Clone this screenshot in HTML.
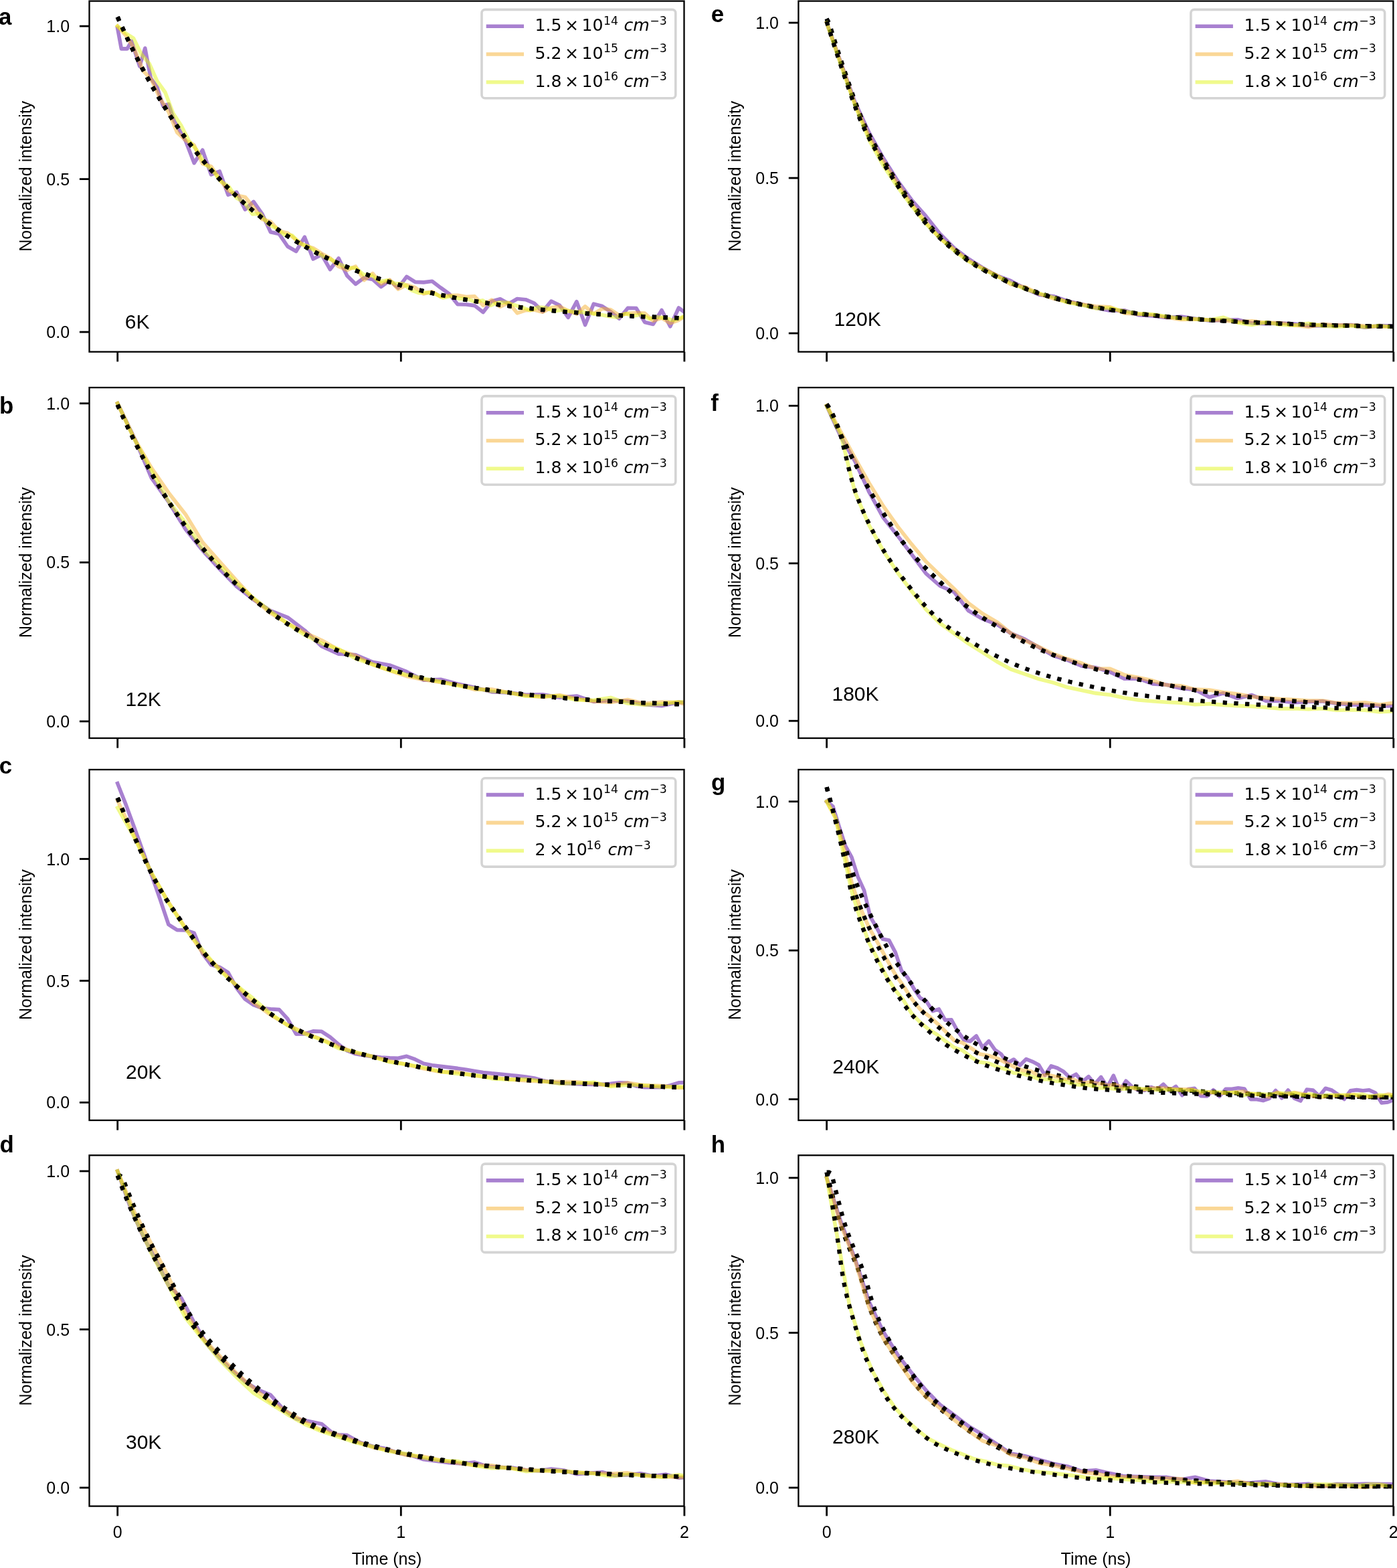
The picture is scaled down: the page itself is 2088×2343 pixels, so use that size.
<!DOCTYPE html><html><head><meta charset="utf-8"><title>Normalized intensity decay</title><style>html,body{margin:0;padding:0;background:#fff}svg{display:block}</style></head><body>
<svg width="2088" height="2343" viewBox="0 0 2088 2343">
<rect width="2088" height="2343" fill="#fff"/>
<defs>
<clipPath id="clipa"><rect x="133.5" y="1.6" width="889.0" height="524.1"/></clipPath>
<clipPath id="clipb"><rect x="133.5" y="579.1" width="889.0" height="523.9"/></clipPath>
<clipPath id="clipc"><rect x="133.5" y="1150.0" width="889.0" height="524.0"/></clipPath>
<clipPath id="clipd"><rect x="133.5" y="1726.3" width="889.0" height="524.3"/></clipPath>
<clipPath id="clipe"><rect x="1193.4" y="1.6" width="889.0" height="524.1"/></clipPath>
<clipPath id="clipf"><rect x="1193.4" y="579.1" width="889.0" height="523.9"/></clipPath>
<clipPath id="clipg"><rect x="1193.4" y="1150.0" width="889.0" height="524.0"/></clipPath>
<clipPath id="cliph"><rect x="1193.4" y="1726.3" width="889.0" height="524.3"/></clipPath>
</defs>
<g clip-path="url(#clipa)" fill="none">
<polyline points="175.7,42.3 181.4,72.9 190.1,72.9 196.5,61.5 208.7,99.0 216.8,72.0 225.3,116.8 235.0,130.5 243.5,157.9 251.9,155.6 260.4,180.8 277.4,210.6 290.1,243.6 302.8,224.3 315.5,260.9 328.2,256.0 340.9,291.1 353.6,287.1 366.3,313.1 379.0,301.4 391.7,319.3 404.4,346.7 417.2,349.6 429.9,368.3 442.6,375.5 455.3,354.2 468.0,387.0 480.7,380.4 493.4,402.5 506.1,386.0 518.8,412.0 531.5,424.4 544.2,415.0 556.9,417.4 569.6,428.6 582.4,419.2 595.1,430.2 607.8,413.4 620.5,421.4 633.2,421.9 645.9,420.3 658.6,429.9 671.3,439.0 684.0,454.8 696.7,455.0 709.4,456.6 722.1,466.5 734.9,450.1 747.6,446.7 760.3,454.0 773.0,446.5 785.7,447.7 798.4,453.0 811.1,465.6 823.8,450.1 836.5,456.3 849.2,474.4 861.9,450.6 874.6,485.5 887.3,454.1 900.1,457.5 912.8,465.9 925.5,476.1 938.2,460.4 950.9,460.5 963.6,481.4 976.3,484.4 989.0,463.5 1001.7,487.8 1014.4,460.0 1027.1,469.5 1039.8,463.3" stroke="#5102a1" stroke-opacity="0.50" stroke-width="5.6" stroke-linejoin="round" stroke-linecap="square"/>
<polyline points="175.7,25.4 179.3,33.5 183.0,41.6 186.6,49.4 190.2,57.2 193.9,64.7 197.5,72.2 201.1,79.5 204.8,86.7 208.4,93.8 212.0,100.7 215.7,107.5 219.3,114.2 222.9,120.8 226.6,127.3 230.2,133.6 233.8,139.8 237.5,145.9 241.1,151.9 244.7,157.8 248.4,163.6 252.0,169.3 255.6,174.9 259.3,180.4 262.9,185.8 266.5,191.1 270.2,196.3 273.8,201.4 277.4,206.4 281.1,211.3 284.7,216.2 288.3,220.9 292.0,225.6 295.6,230.2 299.2,234.7 302.9,239.1 306.5,243.4 310.1,247.7 313.8,251.9 317.4,256.0 321.0,260.1 324.7,264.0 328.3,267.9 331.9,271.8 335.6,275.5 339.2,279.2 342.8,282.8 346.5,286.4 350.1,289.9 353.7,293.3 357.4,296.7 361.0,300.0 364.6,303.3 368.3,306.5 371.9,309.6 375.5,312.7 379.2,315.7 382.8,318.7 386.4,321.6 390.1,324.5 393.7,327.3 397.3,330.1 401.0,332.8 404.6,335.5 408.2,338.1 411.9,340.7 415.5,343.2 419.1,345.7 422.8,348.1 426.4,350.5 430.0,352.9 433.7,355.2 437.3,357.5 440.9,359.7 444.6,361.9 448.2,364.0 451.8,366.1 455.5,368.2 459.1,370.3 462.7,372.3 466.4,374.2 470.0,376.2 473.6,378.1 477.3,379.9 480.9,381.7 484.5,383.5 488.2,385.3 491.8,387.0 495.4,388.7 499.1,390.4 502.7,392.1 506.3,393.7 510.0,395.2 513.6,396.8 517.2,398.3 520.9,399.8 524.5,401.3 528.1,402.8 531.8,404.2 535.4,405.6 539.0,406.9 542.7,408.3 546.3,409.6 549.9,410.9 553.6,412.2 557.2,413.4 560.8,414.7 564.5,415.9 568.1,417.1 571.7,418.2 575.4,419.4 579.0,420.5 582.6,421.6 586.3,422.7 589.9,423.8 593.5,424.8 597.2,425.8 600.8,426.8 604.4,427.8 608.1,428.8 611.7,429.8 615.3,430.7 619.0,431.6 622.6,432.5 626.2,433.4 629.9,434.3 633.5,435.2 637.1,436.0 640.8,436.8 644.4,437.6 648.0,438.4 651.7,439.2 655.3,440.0 658.9,440.8 662.6,441.5 666.2,442.2 669.8,442.9 673.5,443.6 677.1,444.3 680.7,445.0 684.4,445.7 688.0,446.3 691.6,447.0 695.3,447.6 698.9,448.2 702.5,448.8 706.2,449.4 709.8,450.0 713.4,450.6 717.1,451.2 720.7,451.7 724.3,452.3 728.0,452.8 731.6,453.3 735.2,453.9 738.9,454.4 742.5,454.9 746.1,455.4 749.8,455.8 753.4,456.3 757.0,456.8 760.7,457.2 764.3,457.7 767.9,458.1 771.6,458.6 775.2,459.0 778.8,459.4 782.5,459.8 786.1,460.2 789.7,460.6 793.4,461.0 797.0,461.4 800.6,461.8 804.3,462.1 807.9,462.5 811.5,462.8 815.2,463.2 818.8,463.5 822.4,463.9 826.1,464.2 829.7,464.5 833.3,464.9 837.0,465.2 840.6,465.5 844.2,465.8 847.9,466.1 851.5,466.4 855.1,466.6 858.8,466.9 862.4,467.2 866.0,467.5 869.7,467.7 873.3,468.0 876.9,468.3 880.6,468.5 884.2,468.8 887.8,469.0 891.5,469.2 895.1,469.5 898.7,469.7 902.4,469.9 906.0,470.2 909.6,470.4 913.3,470.6 916.9,470.8 920.5,471.0 924.2,471.2 927.8,471.4 931.4,471.6 935.1,471.8 938.7,472.0 942.3,472.2 946.0,472.4 949.6,472.5 953.2,472.7 956.9,472.9 960.5,473.1 964.1,473.2 967.8,473.4 971.4,473.5 975.0,473.7 978.7,473.9 982.3,474.0 985.9,474.2 989.6,474.3 993.2,474.5 996.8,474.6 1000.5,474.7 1004.1,474.9 1007.7,475.0 1011.4,475.1 1015.0,475.3 1018.6,475.4 1022.3,475.5 1025.9,475.6 1029.5,475.8 1033.2,475.9 1036.8,476.0 1040.4,476.1 1044.1,476.2" stroke="#000" stroke-width="6.3" stroke-dasharray="6.3 10.4" stroke-linecap="butt"/>
<polyline points="175.7,39.1 188.4,53.3 201.1,73.6 213.8,105.4 226.5,119.4 239.2,147.0 251.9,166.9 264.7,197.9 277.4,209.3 290.1,217.0 302.8,244.6 315.5,248.6 328.2,267.9 340.9,284.4 353.6,291.9 366.3,294.4 379.0,309.7 391.7,327.5 404.4,331.1 417.2,345.2 429.9,348.2 442.6,358.4 455.3,367.1 468.0,370.6 480.7,378.9 493.4,385.8 506.1,398.2 518.8,403.5 531.5,398.2 544.2,418.6 556.9,408.6 569.6,424.0 582.4,418.2 595.1,432.1 607.8,425.7 620.5,429.7 633.2,439.0 645.9,435.7 658.6,443.3 671.3,441.6 684.0,441.3 696.7,443.5 709.4,442.8 722.1,456.4 734.9,448.1 747.6,458.3 760.3,452.4 773.0,467.8 785.7,463.7 798.4,463.1 811.1,466.3 823.8,459.7 836.5,457.9 849.2,464.4 861.9,469.1 874.6,457.9 887.3,468.8 900.1,461.3 912.8,462.8 925.5,471.0 938.2,468.4 950.9,467.5 963.6,468.0 976.3,479.3 989.0,475.2 1001.7,482.9 1014.4,478.3 1027.1,470.5 1039.8,474.8" stroke="#f5af2d" stroke-opacity="0.50" stroke-width="5.6" stroke-linejoin="round" stroke-linecap="square"/>
<polyline points="175.7,25.4 179.3,33.5 183.0,41.6 186.6,49.4 190.2,57.2 193.9,64.7 197.5,72.2 201.1,79.5 204.8,86.7 208.4,93.8 212.0,100.7 215.7,107.5 219.3,114.2 222.9,120.8 226.6,127.3 230.2,133.6 233.8,139.8 237.5,145.9 241.1,151.9 244.7,157.8 248.4,163.6 252.0,169.3 255.6,174.9 259.3,180.4 262.9,185.8 266.5,191.1 270.2,196.3 273.8,201.4 277.4,206.4 281.1,211.3 284.7,216.2 288.3,220.9 292.0,225.6 295.6,230.2 299.2,234.7 302.9,239.1 306.5,243.4 310.1,247.7 313.8,251.9 317.4,256.0 321.0,260.1 324.7,264.0 328.3,267.9 331.9,271.8 335.6,275.5 339.2,279.2 342.8,282.8 346.5,286.4 350.1,289.9 353.7,293.3 357.4,296.7 361.0,300.0 364.6,303.3 368.3,306.5 371.9,309.6 375.5,312.7 379.2,315.7 382.8,318.7 386.4,321.6 390.1,324.5 393.7,327.3 397.3,330.1 401.0,332.8 404.6,335.5 408.2,338.1 411.9,340.7 415.5,343.2 419.1,345.7 422.8,348.1 426.4,350.5 430.0,352.9 433.7,355.2 437.3,357.5 440.9,359.7 444.6,361.9 448.2,364.0 451.8,366.1 455.5,368.2 459.1,370.3 462.7,372.3 466.4,374.2 470.0,376.2 473.6,378.1 477.3,379.9 480.9,381.7 484.5,383.5 488.2,385.3 491.8,387.0 495.4,388.7 499.1,390.4 502.7,392.1 506.3,393.7 510.0,395.2 513.6,396.8 517.2,398.3 520.9,399.8 524.5,401.3 528.1,402.8 531.8,404.2 535.4,405.6 539.0,406.9 542.7,408.3 546.3,409.6 549.9,410.9 553.6,412.2 557.2,413.4 560.8,414.7 564.5,415.9 568.1,417.1 571.7,418.2 575.4,419.4 579.0,420.5 582.6,421.6 586.3,422.7 589.9,423.8 593.5,424.8 597.2,425.8 600.8,426.8 604.4,427.8 608.1,428.8 611.7,429.8 615.3,430.7 619.0,431.6 622.6,432.5 626.2,433.4 629.9,434.3 633.5,435.2 637.1,436.0 640.8,436.8 644.4,437.6 648.0,438.4 651.7,439.2 655.3,440.0 658.9,440.8 662.6,441.5 666.2,442.2 669.8,442.9 673.5,443.6 677.1,444.3 680.7,445.0 684.4,445.7 688.0,446.3 691.6,447.0 695.3,447.6 698.9,448.2 702.5,448.8 706.2,449.4 709.8,450.0 713.4,450.6 717.1,451.2 720.7,451.7 724.3,452.3 728.0,452.8 731.6,453.3 735.2,453.9 738.9,454.4 742.5,454.9 746.1,455.4 749.8,455.8 753.4,456.3 757.0,456.8 760.7,457.2 764.3,457.7 767.9,458.1 771.6,458.6 775.2,459.0 778.8,459.4 782.5,459.8 786.1,460.2 789.7,460.6 793.4,461.0 797.0,461.4 800.6,461.8 804.3,462.1 807.9,462.5 811.5,462.8 815.2,463.2 818.8,463.5 822.4,463.9 826.1,464.2 829.7,464.5 833.3,464.9 837.0,465.2 840.6,465.5 844.2,465.8 847.9,466.1 851.5,466.4 855.1,466.6 858.8,466.9 862.4,467.2 866.0,467.5 869.7,467.7 873.3,468.0 876.9,468.3 880.6,468.5 884.2,468.8 887.8,469.0 891.5,469.2 895.1,469.5 898.7,469.7 902.4,469.9 906.0,470.2 909.6,470.4 913.3,470.6 916.9,470.8 920.5,471.0 924.2,471.2 927.8,471.4 931.4,471.6 935.1,471.8 938.7,472.0 942.3,472.2 946.0,472.4 949.6,472.5 953.2,472.7 956.9,472.9 960.5,473.1 964.1,473.2 967.8,473.4 971.4,473.5 975.0,473.7 978.7,473.9 982.3,474.0 985.9,474.2 989.6,474.3 993.2,474.5 996.8,474.6 1000.5,474.7 1004.1,474.9 1007.7,475.0 1011.4,475.1 1015.0,475.3 1018.6,475.4 1022.3,475.5 1025.9,475.6 1029.5,475.8 1033.2,475.9 1036.8,476.0 1040.4,476.1 1044.1,476.2" stroke="#000" stroke-width="6.3" stroke-dasharray="6.3 10.4" stroke-linecap="butt"/>
<polyline points="175.7,39.1 187.6,49.5 199.4,57.0 211.3,81.1 223.1,95.0 235.0,121.4 246.9,138.0 258.7,169.3 270.6,187.3 282.4,210.3 294.3,224.7 306.2,244.7 318.0,254.8 329.9,270.8 341.8,278.7 353.6,295.8 365.5,302.6 377.3,320.0 389.2,319.3 401.1,335.3 412.9,341.1 424.8,350.6 436.6,351.8 448.5,364.0 460.4,367.9 472.2,376.0 484.1,384.0 495.9,388.2 507.8,395.2 519.7,400.1 531.5,400.5 543.4,410.4 555.2,411.1 567.1,420.7 579.0,418.7 590.8,423.7 602.7,423.8 614.5,433.3 626.4,437.8 638.3,437.1 650.1,439.1 662.0,445.0 673.9,442.5 685.7,446.1 697.6,446.3 709.4,450.7 721.3,448.9 733.2,456.4 745.0,451.9 756.9,452.1 768.7,455.6 780.6,459.7 792.5,463.6 804.3,459.1 816.2,459.9 828.0,464.8 839.9,463.3 851.8,464.9 863.6,466.2 875.5,466.9 887.3,468.7 899.2,470.4 911.1,472.8 922.9,474.2 934.8,468.5 946.7,472.0 958.5,470.0 970.4,476.4 982.2,473.8 994.1,475.1 1006.0,478.6 1017.8,474.6 1029.7,469.7 1041.5,478.6" stroke="#e1f519" stroke-opacity="0.50" stroke-width="5.6" stroke-linejoin="round" stroke-linecap="square"/>
<polyline points="175.7,25.4 179.3,33.5 183.0,41.6 186.6,49.4 190.2,57.2 193.9,64.7 197.5,72.2 201.1,79.5 204.8,86.7 208.4,93.8 212.0,100.7 215.7,107.5 219.3,114.2 222.9,120.8 226.6,127.3 230.2,133.6 233.8,139.8 237.5,145.9 241.1,151.9 244.7,157.8 248.4,163.6 252.0,169.3 255.6,174.9 259.3,180.4 262.9,185.8 266.5,191.1 270.2,196.3 273.8,201.4 277.4,206.4 281.1,211.3 284.7,216.2 288.3,220.9 292.0,225.6 295.6,230.2 299.2,234.7 302.9,239.1 306.5,243.4 310.1,247.7 313.8,251.9 317.4,256.0 321.0,260.1 324.7,264.0 328.3,267.9 331.9,271.8 335.6,275.5 339.2,279.2 342.8,282.8 346.5,286.4 350.1,289.9 353.7,293.3 357.4,296.7 361.0,300.0 364.6,303.3 368.3,306.5 371.9,309.6 375.5,312.7 379.2,315.7 382.8,318.7 386.4,321.6 390.1,324.5 393.7,327.3 397.3,330.1 401.0,332.8 404.6,335.5 408.2,338.1 411.9,340.7 415.5,343.2 419.1,345.7 422.8,348.1 426.4,350.5 430.0,352.9 433.7,355.2 437.3,357.5 440.9,359.7 444.6,361.9 448.2,364.0 451.8,366.1 455.5,368.2 459.1,370.3 462.7,372.3 466.4,374.2 470.0,376.2 473.6,378.1 477.3,379.9 480.9,381.7 484.5,383.5 488.2,385.3 491.8,387.0 495.4,388.7 499.1,390.4 502.7,392.1 506.3,393.7 510.0,395.2 513.6,396.8 517.2,398.3 520.9,399.8 524.5,401.3 528.1,402.8 531.8,404.2 535.4,405.6 539.0,406.9 542.7,408.3 546.3,409.6 549.9,410.9 553.6,412.2 557.2,413.4 560.8,414.7 564.5,415.9 568.1,417.1 571.7,418.2 575.4,419.4 579.0,420.5 582.6,421.6 586.3,422.7 589.9,423.8 593.5,424.8 597.2,425.8 600.8,426.8 604.4,427.8 608.1,428.8 611.7,429.8 615.3,430.7 619.0,431.6 622.6,432.5 626.2,433.4 629.9,434.3 633.5,435.2 637.1,436.0 640.8,436.8 644.4,437.6 648.0,438.4 651.7,439.2 655.3,440.0 658.9,440.8 662.6,441.5 666.2,442.2 669.8,442.9 673.5,443.6 677.1,444.3 680.7,445.0 684.4,445.7 688.0,446.3 691.6,447.0 695.3,447.6 698.9,448.2 702.5,448.8 706.2,449.4 709.8,450.0 713.4,450.6 717.1,451.2 720.7,451.7 724.3,452.3 728.0,452.8 731.6,453.3 735.2,453.9 738.9,454.4 742.5,454.9 746.1,455.4 749.8,455.8 753.4,456.3 757.0,456.8 760.7,457.2 764.3,457.7 767.9,458.1 771.6,458.6 775.2,459.0 778.8,459.4 782.5,459.8 786.1,460.2 789.7,460.6 793.4,461.0 797.0,461.4 800.6,461.8 804.3,462.1 807.9,462.5 811.5,462.8 815.2,463.2 818.8,463.5 822.4,463.9 826.1,464.2 829.7,464.5 833.3,464.9 837.0,465.2 840.6,465.5 844.2,465.8 847.9,466.1 851.5,466.4 855.1,466.6 858.8,466.9 862.4,467.2 866.0,467.5 869.7,467.7 873.3,468.0 876.9,468.3 880.6,468.5 884.2,468.8 887.8,469.0 891.5,469.2 895.1,469.5 898.7,469.7 902.4,469.9 906.0,470.2 909.6,470.4 913.3,470.6 916.9,470.8 920.5,471.0 924.2,471.2 927.8,471.4 931.4,471.6 935.1,471.8 938.7,472.0 942.3,472.2 946.0,472.4 949.6,472.5 953.2,472.7 956.9,472.9 960.5,473.1 964.1,473.2 967.8,473.4 971.4,473.5 975.0,473.7 978.7,473.9 982.3,474.0 985.9,474.2 989.6,474.3 993.2,474.5 996.8,474.6 1000.5,474.7 1004.1,474.9 1007.7,475.0 1011.4,475.1 1015.0,475.3 1018.6,475.4 1022.3,475.5 1025.9,475.6 1029.5,475.8 1033.2,475.9 1036.8,476.0 1040.4,476.1 1044.1,476.2" stroke="#000" stroke-width="6.3" stroke-dasharray="6.3 10.4" stroke-linecap="butt"/>
</g>
<rect x="133.5" y="1.6" width="889.0" height="524.1" fill="none" stroke="#000" stroke-width="2.3"/>
<line x1="118.9" y1="496.1" x2="133.5" y2="496.1" stroke="#000" stroke-width="2.8"/>
<text x="104.1" y="505.1" text-anchor="end" font-family="'Liberation Sans', Arial, Helvetica, sans-serif" font-size="25">0.0</text>
<line x1="118.9" y1="267.6" x2="133.5" y2="267.6" stroke="#000" stroke-width="2.8"/>
<text x="104.1" y="276.6" text-anchor="end" font-family="'Liberation Sans', Arial, Helvetica, sans-serif" font-size="25">0.5</text>
<line x1="118.9" y1="39.1" x2="133.5" y2="39.1" stroke="#000" stroke-width="2.8"/>
<text x="104.1" y="48.1" text-anchor="end" font-family="'Liberation Sans', Arial, Helvetica, sans-serif" font-size="25">1.0</text>
<line x1="175.7" y1="525.7" x2="175.7" y2="540.4" stroke="#000" stroke-width="2.8"/>
<line x1="599.3" y1="525.7" x2="599.3" y2="540.4" stroke="#000" stroke-width="2.8"/>
<line x1="1022.9" y1="525.7" x2="1022.9" y2="540.4" stroke="#000" stroke-width="2.8"/>
<text transform="translate(47.4,263.2) rotate(-90)" text-anchor="middle" font-family="'Liberation Sans', Arial, Helvetica, sans-serif" font-size="25">Normalized intensity</text>
<text x="-2.0" y="37.3" font-family="'Liberation Sans', Arial, Helvetica, sans-serif" font-weight="bold" font-size="34.8">a</text>
<text x="186.8" y="490.5" font-family="'Liberation Sans', Arial, Helvetica, sans-serif" font-size="30">6K</text>
<rect x="720.0" y="14.4" width="289.8" height="132.3" rx="5" ry="5" fill="#fff" fill-opacity="0.8" stroke="#d4d4d4" stroke-width="3.6"/>
<line x1="726.7" y1="39.2" x2="783.0" y2="39.2" stroke="#5102a1" stroke-opacity="0.50" stroke-width="5.6"/>
<text x="799.5" y="46.1" font-family="'DejaVu Sans', sans-serif" font-size="25.2">1.5</text>
<text x="844.0" y="46.1" font-family="'DejaVu Sans', sans-serif" font-size="25.2">×</text>
<text x="869.5" y="46.1" font-family="'DejaVu Sans', sans-serif" font-size="25.2">10</text>
<text x="902.0" y="36.5" font-family="'DejaVu Sans', sans-serif" font-size="17.3">14</text>
<text x="932.5" y="46.1" font-family="'DejaVu Sans', sans-serif" font-size="25.2" font-style="oblique">cm</text>
<text x="971.3" y="36.5" font-family="'DejaVu Sans', sans-serif" font-size="17.3">−3</text>
<line x1="726.7" y1="81.0" x2="783.0" y2="81.0" stroke="#f5af2d" stroke-opacity="0.50" stroke-width="5.6"/>
<text x="799.5" y="87.9" font-family="'DejaVu Sans', sans-serif" font-size="25.2">5.2</text>
<text x="844.0" y="87.9" font-family="'DejaVu Sans', sans-serif" font-size="25.2">×</text>
<text x="869.5" y="87.9" font-family="'DejaVu Sans', sans-serif" font-size="25.2">10</text>
<text x="902.0" y="78.3" font-family="'DejaVu Sans', sans-serif" font-size="17.3">15</text>
<text x="932.5" y="87.9" font-family="'DejaVu Sans', sans-serif" font-size="25.2" font-style="oblique">cm</text>
<text x="971.3" y="78.3" font-family="'DejaVu Sans', sans-serif" font-size="17.3">−3</text>
<line x1="726.7" y1="122.8" x2="783.0" y2="122.8" stroke="#e1f519" stroke-opacity="0.50" stroke-width="5.6"/>
<text x="799.5" y="129.7" font-family="'DejaVu Sans', sans-serif" font-size="25.2">1.8</text>
<text x="844.0" y="129.7" font-family="'DejaVu Sans', sans-serif" font-size="25.2">×</text>
<text x="869.5" y="129.7" font-family="'DejaVu Sans', sans-serif" font-size="25.2">10</text>
<text x="902.0" y="120.1" font-family="'DejaVu Sans', sans-serif" font-size="17.3">16</text>
<text x="932.5" y="129.7" font-family="'DejaVu Sans', sans-serif" font-size="25.2" font-style="oblique">cm</text>
<text x="971.3" y="120.1" font-family="'DejaVu Sans', sans-serif" font-size="17.3">−3</text>
<g clip-path="url(#clipb)" fill="none">
<polyline points="175.7,602.8 201.1,655.2 226.5,714.3 251.9,749.9 277.4,791.1 302.8,822.6 328.2,850.3 353.6,876.3 379.0,896.1 404.4,912.5 429.9,922.6 455.3,941.9 480.7,965.7 506.1,977.1 531.5,978.6 556.9,989.3 582.4,993.9 607.8,1003.7 633.2,1016.3 658.6,1015.2 684.0,1021.9 709.4,1027.3 734.9,1033.9 760.3,1034.9 785.7,1038.2 811.1,1037.7 836.5,1042.2 861.9,1040.0 887.3,1048.4 912.8,1046.4 938.2,1047.7 963.6,1052.7 989.0,1054.7 1014.4,1049.3 1039.8,1051.5" stroke="#5102a1" stroke-opacity="0.50" stroke-width="5.6" stroke-linejoin="round" stroke-linecap="square"/>
<polyline points="175.7,604.7 179.3,612.9 183.0,621.0 186.6,628.9 190.2,636.7 193.9,644.4 197.5,651.9 201.1,659.2 204.8,666.5 208.4,673.6 212.0,680.5 215.7,687.4 219.3,694.1 222.9,700.7 226.6,707.2 230.2,713.6 233.8,719.8 237.5,726.0 241.1,732.0 244.7,737.9 248.4,743.7 252.0,749.4 255.6,755.0 259.3,760.5 262.9,765.9 266.5,771.2 270.2,776.4 273.8,781.6 277.4,786.6 281.1,791.5 284.7,796.3 288.3,801.1 292.0,805.8 295.6,810.4 299.2,814.9 302.9,819.3 306.5,823.6 310.1,827.9 313.8,832.0 317.4,836.2 321.0,840.2 324.7,844.1 328.3,848.0 331.9,851.9 335.6,855.6 339.2,859.3 342.8,862.9 346.5,866.4 350.1,869.9 353.7,873.3 357.4,876.7 361.0,880.0 364.6,883.2 368.3,886.4 371.9,889.5 375.5,892.6 379.2,895.6 382.8,898.6 386.4,901.5 390.1,904.3 393.7,907.1 397.3,909.9 401.0,912.6 404.6,915.2 408.2,917.8 411.9,920.4 415.5,922.9 419.1,925.3 422.8,927.8 426.4,930.1 430.0,932.5 433.7,934.8 437.3,937.0 440.9,939.2 444.6,941.4 448.2,943.5 451.8,945.6 455.5,947.6 459.1,949.7 462.7,951.6 466.4,953.6 470.0,955.5 473.6,957.4 477.3,959.2 480.9,961.0 484.5,962.8 488.2,964.5 491.8,966.2 495.4,967.9 499.1,969.6 502.7,971.2 506.3,972.8 510.0,974.3 513.6,975.8 517.2,977.4 520.9,978.8 524.5,980.3 528.1,981.7 531.8,983.1 535.4,984.5 539.0,985.8 542.7,987.1 546.3,988.4 549.9,989.7 553.6,991.0 557.2,992.2 560.8,993.4 564.5,994.6 568.1,995.8 571.7,996.9 575.4,998.0 579.0,999.1 582.6,1000.2 586.3,1001.3 589.9,1002.3 593.5,1003.3 597.2,1004.3 600.8,1005.3 604.4,1006.3 608.1,1007.2 611.7,1008.2 615.3,1009.1 619.0,1010.0 622.6,1010.9 626.2,1011.8 629.9,1012.6 633.5,1013.5 637.1,1014.3 640.8,1015.1 644.4,1015.9 648.0,1016.7 651.7,1017.4 655.3,1018.2 658.9,1018.9 662.6,1019.6 666.2,1020.3 669.8,1021.0 673.5,1021.7 677.1,1022.4 680.7,1023.1 684.4,1023.7 688.0,1024.3 691.6,1025.0 695.3,1025.6 698.9,1026.2 702.5,1026.8 706.2,1027.4 709.8,1027.9 713.4,1028.5 717.1,1029.0 720.7,1029.6 724.3,1030.1 728.0,1030.6 731.6,1031.1 735.2,1031.6 738.9,1032.1 742.5,1032.6 746.1,1033.1 749.8,1033.6 753.4,1034.0 757.0,1034.5 760.7,1034.9 764.3,1035.4 767.9,1035.8 771.6,1036.2 775.2,1036.6 778.8,1037.0 782.5,1037.4 786.1,1037.8 789.7,1038.2 793.4,1038.6 797.0,1038.9 800.6,1039.3 804.3,1039.6 807.9,1040.0 811.5,1040.3 815.2,1040.7 818.8,1041.0 822.4,1041.3 826.1,1041.6 829.7,1042.0 833.3,1042.3 837.0,1042.6 840.6,1042.9 844.2,1043.1 847.9,1043.4 851.5,1043.7 855.1,1044.0 858.8,1044.3 862.4,1044.5 866.0,1044.8 869.7,1045.0 873.3,1045.3 876.9,1045.5 880.6,1045.8 884.2,1046.0 887.8,1046.2 891.5,1046.5 895.1,1046.7 898.7,1046.9 902.4,1047.1 906.0,1047.4 909.6,1047.6 913.3,1047.8 916.9,1048.0 920.5,1048.2 924.2,1048.4 927.8,1048.5 931.4,1048.7 935.1,1048.9 938.7,1049.1 942.3,1049.3 946.0,1049.5 949.6,1049.6 953.2,1049.8 956.9,1050.0 960.5,1050.1 964.1,1050.3 967.8,1050.4 971.4,1050.6 975.0,1050.7 978.7,1050.9 982.3,1051.0 985.9,1051.2 989.6,1051.3 993.2,1051.4 996.8,1051.6 1000.5,1051.7 1004.1,1051.8 1007.7,1052.0 1011.4,1052.1 1015.0,1052.2 1018.6,1052.3 1022.3,1052.5 1025.9,1052.6 1029.5,1052.7 1033.2,1052.8 1036.8,1052.9 1040.4,1053.0 1044.1,1053.1" stroke="#000" stroke-width="6.3" stroke-dasharray="6.3 10.4" stroke-linecap="butt"/>
<polyline points="175.7,602.8 201.1,655.9 226.5,699.3 251.9,736.2 277.4,768.8 302.8,810.4 328.2,839.1 353.6,867.6 379.0,895.1 404.4,916.2 429.9,931.4 455.3,945.2 480.7,956.8 506.1,971.0 531.5,980.0 556.9,993.0 582.4,1001.8 607.8,1010.4 633.2,1015.6 658.6,1019.5 684.0,1023.3 709.4,1030.4 734.9,1030.0 760.3,1035.1 785.7,1039.0 811.1,1041.7 836.5,1038.7 861.9,1044.2 887.3,1047.9 912.8,1049.5 938.2,1045.6 963.6,1051.4 989.0,1049.0 1014.4,1049.5 1039.8,1057.4" stroke="#f5af2d" stroke-opacity="0.50" stroke-width="5.6" stroke-linejoin="round" stroke-linecap="square"/>
<polyline points="175.7,604.7 179.3,612.9 183.0,621.0 186.6,628.9 190.2,636.7 193.9,644.4 197.5,651.9 201.1,659.2 204.8,666.5 208.4,673.6 212.0,680.5 215.7,687.4 219.3,694.1 222.9,700.7 226.6,707.2 230.2,713.6 233.8,719.8 237.5,726.0 241.1,732.0 244.7,737.9 248.4,743.7 252.0,749.4 255.6,755.0 259.3,760.5 262.9,765.9 266.5,771.2 270.2,776.4 273.8,781.6 277.4,786.6 281.1,791.5 284.7,796.3 288.3,801.1 292.0,805.8 295.6,810.4 299.2,814.9 302.9,819.3 306.5,823.6 310.1,827.9 313.8,832.0 317.4,836.2 321.0,840.2 324.7,844.1 328.3,848.0 331.9,851.9 335.6,855.6 339.2,859.3 342.8,862.9 346.5,866.4 350.1,869.9 353.7,873.3 357.4,876.7 361.0,880.0 364.6,883.2 368.3,886.4 371.9,889.5 375.5,892.6 379.2,895.6 382.8,898.6 386.4,901.5 390.1,904.3 393.7,907.1 397.3,909.9 401.0,912.6 404.6,915.2 408.2,917.8 411.9,920.4 415.5,922.9 419.1,925.3 422.8,927.8 426.4,930.1 430.0,932.5 433.7,934.8 437.3,937.0 440.9,939.2 444.6,941.4 448.2,943.5 451.8,945.6 455.5,947.6 459.1,949.7 462.7,951.6 466.4,953.6 470.0,955.5 473.6,957.4 477.3,959.2 480.9,961.0 484.5,962.8 488.2,964.5 491.8,966.2 495.4,967.9 499.1,969.6 502.7,971.2 506.3,972.8 510.0,974.3 513.6,975.8 517.2,977.4 520.9,978.8 524.5,980.3 528.1,981.7 531.8,983.1 535.4,984.5 539.0,985.8 542.7,987.1 546.3,988.4 549.9,989.7 553.6,991.0 557.2,992.2 560.8,993.4 564.5,994.6 568.1,995.8 571.7,996.9 575.4,998.0 579.0,999.1 582.6,1000.2 586.3,1001.3 589.9,1002.3 593.5,1003.3 597.2,1004.3 600.8,1005.3 604.4,1006.3 608.1,1007.2 611.7,1008.2 615.3,1009.1 619.0,1010.0 622.6,1010.9 626.2,1011.8 629.9,1012.6 633.5,1013.5 637.1,1014.3 640.8,1015.1 644.4,1015.9 648.0,1016.7 651.7,1017.4 655.3,1018.2 658.9,1018.9 662.6,1019.6 666.2,1020.3 669.8,1021.0 673.5,1021.7 677.1,1022.4 680.7,1023.1 684.4,1023.7 688.0,1024.3 691.6,1025.0 695.3,1025.6 698.9,1026.2 702.5,1026.8 706.2,1027.4 709.8,1027.9 713.4,1028.5 717.1,1029.0 720.7,1029.6 724.3,1030.1 728.0,1030.6 731.6,1031.1 735.2,1031.6 738.9,1032.1 742.5,1032.6 746.1,1033.1 749.8,1033.6 753.4,1034.0 757.0,1034.5 760.7,1034.9 764.3,1035.4 767.9,1035.8 771.6,1036.2 775.2,1036.6 778.8,1037.0 782.5,1037.4 786.1,1037.8 789.7,1038.2 793.4,1038.6 797.0,1038.9 800.6,1039.3 804.3,1039.6 807.9,1040.0 811.5,1040.3 815.2,1040.7 818.8,1041.0 822.4,1041.3 826.1,1041.6 829.7,1042.0 833.3,1042.3 837.0,1042.6 840.6,1042.9 844.2,1043.1 847.9,1043.4 851.5,1043.7 855.1,1044.0 858.8,1044.3 862.4,1044.5 866.0,1044.8 869.7,1045.0 873.3,1045.3 876.9,1045.5 880.6,1045.8 884.2,1046.0 887.8,1046.2 891.5,1046.5 895.1,1046.7 898.7,1046.9 902.4,1047.1 906.0,1047.4 909.6,1047.6 913.3,1047.8 916.9,1048.0 920.5,1048.2 924.2,1048.4 927.8,1048.5 931.4,1048.7 935.1,1048.9 938.7,1049.1 942.3,1049.3 946.0,1049.5 949.6,1049.6 953.2,1049.8 956.9,1050.0 960.5,1050.1 964.1,1050.3 967.8,1050.4 971.4,1050.6 975.0,1050.7 978.7,1050.9 982.3,1051.0 985.9,1051.2 989.6,1051.3 993.2,1051.4 996.8,1051.6 1000.5,1051.7 1004.1,1051.8 1007.7,1052.0 1011.4,1052.1 1015.0,1052.2 1018.6,1052.3 1022.3,1052.5 1025.9,1052.6 1029.5,1052.7 1033.2,1052.8 1036.8,1052.9 1040.4,1053.0 1044.1,1053.1" stroke="#000" stroke-width="6.3" stroke-dasharray="6.3 10.4" stroke-linecap="butt"/>
<polyline points="175.7,602.8 201.1,656.8 226.5,703.7 251.9,749.1 277.4,781.2 302.8,820.2 328.2,844.7 353.6,871.5 379.0,893.8 404.4,913.5 429.9,931.8 455.3,948.6 480.7,961.5 506.1,969.8 531.5,984.1 556.9,992.5 582.4,1001.5 607.8,1008.2 633.2,1014.0 658.6,1018.4 684.0,1024.2 709.4,1028.5 734.9,1032.8 760.3,1034.7 785.7,1040.3 811.1,1040.2 836.5,1040.0 861.9,1045.9 887.3,1046.3 912.8,1042.4 938.2,1051.0 963.6,1053.3 989.0,1052.1 1014.4,1048.8 1039.8,1049.1" stroke="#e1f519" stroke-opacity="0.50" stroke-width="5.6" stroke-linejoin="round" stroke-linecap="square"/>
<polyline points="175.7,604.7 179.3,612.9 183.0,621.0 186.6,628.9 190.2,636.7 193.9,644.4 197.5,651.9 201.1,659.2 204.8,666.5 208.4,673.6 212.0,680.5 215.7,687.4 219.3,694.1 222.9,700.7 226.6,707.2 230.2,713.6 233.8,719.8 237.5,726.0 241.1,732.0 244.7,737.9 248.4,743.7 252.0,749.4 255.6,755.0 259.3,760.5 262.9,765.9 266.5,771.2 270.2,776.4 273.8,781.6 277.4,786.6 281.1,791.5 284.7,796.3 288.3,801.1 292.0,805.8 295.6,810.4 299.2,814.9 302.9,819.3 306.5,823.6 310.1,827.9 313.8,832.0 317.4,836.2 321.0,840.2 324.7,844.1 328.3,848.0 331.9,851.9 335.6,855.6 339.2,859.3 342.8,862.9 346.5,866.4 350.1,869.9 353.7,873.3 357.4,876.7 361.0,880.0 364.6,883.2 368.3,886.4 371.9,889.5 375.5,892.6 379.2,895.6 382.8,898.6 386.4,901.5 390.1,904.3 393.7,907.1 397.3,909.9 401.0,912.6 404.6,915.2 408.2,917.8 411.9,920.4 415.5,922.9 419.1,925.3 422.8,927.8 426.4,930.1 430.0,932.5 433.7,934.8 437.3,937.0 440.9,939.2 444.6,941.4 448.2,943.5 451.8,945.6 455.5,947.6 459.1,949.7 462.7,951.6 466.4,953.6 470.0,955.5 473.6,957.4 477.3,959.2 480.9,961.0 484.5,962.8 488.2,964.5 491.8,966.2 495.4,967.9 499.1,969.6 502.7,971.2 506.3,972.8 510.0,974.3 513.6,975.8 517.2,977.4 520.9,978.8 524.5,980.3 528.1,981.7 531.8,983.1 535.4,984.5 539.0,985.8 542.7,987.1 546.3,988.4 549.9,989.7 553.6,991.0 557.2,992.2 560.8,993.4 564.5,994.6 568.1,995.8 571.7,996.9 575.4,998.0 579.0,999.1 582.6,1000.2 586.3,1001.3 589.9,1002.3 593.5,1003.3 597.2,1004.3 600.8,1005.3 604.4,1006.3 608.1,1007.2 611.7,1008.2 615.3,1009.1 619.0,1010.0 622.6,1010.9 626.2,1011.8 629.9,1012.6 633.5,1013.5 637.1,1014.3 640.8,1015.1 644.4,1015.9 648.0,1016.7 651.7,1017.4 655.3,1018.2 658.9,1018.9 662.6,1019.6 666.2,1020.3 669.8,1021.0 673.5,1021.7 677.1,1022.4 680.7,1023.1 684.4,1023.7 688.0,1024.3 691.6,1025.0 695.3,1025.6 698.9,1026.2 702.5,1026.8 706.2,1027.4 709.8,1027.9 713.4,1028.5 717.1,1029.0 720.7,1029.6 724.3,1030.1 728.0,1030.6 731.6,1031.1 735.2,1031.6 738.9,1032.1 742.5,1032.6 746.1,1033.1 749.8,1033.6 753.4,1034.0 757.0,1034.5 760.7,1034.9 764.3,1035.4 767.9,1035.8 771.6,1036.2 775.2,1036.6 778.8,1037.0 782.5,1037.4 786.1,1037.8 789.7,1038.2 793.4,1038.6 797.0,1038.9 800.6,1039.3 804.3,1039.6 807.9,1040.0 811.5,1040.3 815.2,1040.7 818.8,1041.0 822.4,1041.3 826.1,1041.6 829.7,1042.0 833.3,1042.3 837.0,1042.6 840.6,1042.9 844.2,1043.1 847.9,1043.4 851.5,1043.7 855.1,1044.0 858.8,1044.3 862.4,1044.5 866.0,1044.8 869.7,1045.0 873.3,1045.3 876.9,1045.5 880.6,1045.8 884.2,1046.0 887.8,1046.2 891.5,1046.5 895.1,1046.7 898.7,1046.9 902.4,1047.1 906.0,1047.4 909.6,1047.6 913.3,1047.8 916.9,1048.0 920.5,1048.2 924.2,1048.4 927.8,1048.5 931.4,1048.7 935.1,1048.9 938.7,1049.1 942.3,1049.3 946.0,1049.5 949.6,1049.6 953.2,1049.8 956.9,1050.0 960.5,1050.1 964.1,1050.3 967.8,1050.4 971.4,1050.6 975.0,1050.7 978.7,1050.9 982.3,1051.0 985.9,1051.2 989.6,1051.3 993.2,1051.4 996.8,1051.6 1000.5,1051.7 1004.1,1051.8 1007.7,1052.0 1011.4,1052.1 1015.0,1052.2 1018.6,1052.3 1022.3,1052.5 1025.9,1052.6 1029.5,1052.7 1033.2,1052.8 1036.8,1052.9 1040.4,1053.0 1044.1,1053.1" stroke="#000" stroke-width="6.3" stroke-dasharray="6.3 10.4" stroke-linecap="butt"/>
</g>
<rect x="133.5" y="579.1" width="889.0" height="523.9" fill="none" stroke="#000" stroke-width="2.3"/>
<line x1="118.9" y1="1077.9" x2="133.5" y2="1077.9" stroke="#000" stroke-width="2.8"/>
<text x="104.1" y="1086.9" text-anchor="end" font-family="'Liberation Sans', Arial, Helvetica, sans-serif" font-size="25">0.0</text>
<line x1="118.9" y1="840.4" x2="133.5" y2="840.4" stroke="#000" stroke-width="2.8"/>
<text x="104.1" y="849.4" text-anchor="end" font-family="'Liberation Sans', Arial, Helvetica, sans-serif" font-size="25">0.5</text>
<line x1="118.9" y1="602.8" x2="133.5" y2="602.8" stroke="#000" stroke-width="2.8"/>
<text x="104.1" y="611.8" text-anchor="end" font-family="'Liberation Sans', Arial, Helvetica, sans-serif" font-size="25">1.0</text>
<line x1="175.7" y1="1103.0" x2="175.7" y2="1117.7" stroke="#000" stroke-width="2.8"/>
<line x1="599.3" y1="1103.0" x2="599.3" y2="1117.7" stroke="#000" stroke-width="2.8"/>
<line x1="1022.9" y1="1103.0" x2="1022.9" y2="1117.7" stroke="#000" stroke-width="2.8"/>
<text transform="translate(47.4,840.5) rotate(-90)" text-anchor="middle" font-family="'Liberation Sans', Arial, Helvetica, sans-serif" font-size="25">Normalized intensity</text>
<text x="-1.0" y="618.4" font-family="'Liberation Sans', Arial, Helvetica, sans-serif" font-weight="bold" font-size="34.8">b</text>
<text x="187.5" y="1054.6" font-family="'Liberation Sans', Arial, Helvetica, sans-serif" font-size="30">12K</text>
<rect x="720.0" y="591.9" width="289.8" height="132.3" rx="5" ry="5" fill="#fff" fill-opacity="0.8" stroke="#d4d4d4" stroke-width="3.6"/>
<line x1="726.7" y1="616.7" x2="783.0" y2="616.7" stroke="#5102a1" stroke-opacity="0.50" stroke-width="5.6"/>
<text x="799.5" y="623.6" font-family="'DejaVu Sans', sans-serif" font-size="25.2">1.5</text>
<text x="844.0" y="623.6" font-family="'DejaVu Sans', sans-serif" font-size="25.2">×</text>
<text x="869.5" y="623.6" font-family="'DejaVu Sans', sans-serif" font-size="25.2">10</text>
<text x="902.0" y="614.0" font-family="'DejaVu Sans', sans-serif" font-size="17.3">14</text>
<text x="932.5" y="623.6" font-family="'DejaVu Sans', sans-serif" font-size="25.2" font-style="oblique">cm</text>
<text x="971.3" y="614.0" font-family="'DejaVu Sans', sans-serif" font-size="17.3">−3</text>
<line x1="726.7" y1="658.5" x2="783.0" y2="658.5" stroke="#f5af2d" stroke-opacity="0.50" stroke-width="5.6"/>
<text x="799.5" y="665.4" font-family="'DejaVu Sans', sans-serif" font-size="25.2">5.2</text>
<text x="844.0" y="665.4" font-family="'DejaVu Sans', sans-serif" font-size="25.2">×</text>
<text x="869.5" y="665.4" font-family="'DejaVu Sans', sans-serif" font-size="25.2">10</text>
<text x="902.0" y="655.8" font-family="'DejaVu Sans', sans-serif" font-size="17.3">15</text>
<text x="932.5" y="665.4" font-family="'DejaVu Sans', sans-serif" font-size="25.2" font-style="oblique">cm</text>
<text x="971.3" y="655.8" font-family="'DejaVu Sans', sans-serif" font-size="17.3">−3</text>
<line x1="726.7" y1="700.3" x2="783.0" y2="700.3" stroke="#e1f519" stroke-opacity="0.50" stroke-width="5.6"/>
<text x="799.5" y="707.2" font-family="'DejaVu Sans', sans-serif" font-size="25.2">1.8</text>
<text x="844.0" y="707.2" font-family="'DejaVu Sans', sans-serif" font-size="25.2">×</text>
<text x="869.5" y="707.2" font-family="'DejaVu Sans', sans-serif" font-size="25.2">10</text>
<text x="902.0" y="697.6" font-family="'DejaVu Sans', sans-serif" font-size="17.3">16</text>
<text x="932.5" y="707.2" font-family="'DejaVu Sans', sans-serif" font-size="25.2" font-style="oblique">cm</text>
<text x="971.3" y="697.6" font-family="'DejaVu Sans', sans-serif" font-size="17.3">−3</text>
<g clip-path="url(#clipc)" fill="none">
<polyline points="175.7,1170.7 188.4,1202.9 201.1,1237.5 213.8,1272.7 226.5,1307.2 239.2,1343.6 251.9,1381.5 264.7,1389.6 277.4,1389.9 290.1,1394.2 302.8,1424.7 315.5,1441.7 328.2,1445.1 340.9,1453.1 353.6,1476.3 366.3,1493.0 379.0,1501.7 391.7,1506.5 404.4,1507.7 417.2,1508.6 429.9,1522.4 442.6,1545.1 455.3,1545.0 468.0,1540.9 480.7,1541.3 493.4,1549.6 506.1,1560.6 518.8,1569.9 531.5,1574.8 544.2,1576.9 556.9,1578.6 569.6,1580.0 582.4,1580.9 595.1,1581.2 607.8,1578.3 620.5,1582.9 633.2,1589.2 645.9,1591.7 658.6,1593.4 671.3,1594.9 684.0,1596.4 696.7,1598.2 709.4,1600.4 722.1,1602.5 734.9,1603.9 747.6,1605.0 760.3,1606.3 773.0,1607.6 785.7,1609.1 798.4,1611.0 811.1,1614.4 823.8,1617.3 836.5,1618.4 849.2,1619.1 861.9,1619.8 874.6,1620.2 887.3,1620.4 900.1,1620.4 912.8,1619.3 925.5,1617.9 938.2,1618.3 950.9,1622.9 963.6,1624.8 976.3,1624.8 989.0,1624.8 1001.7,1622.0 1014.4,1617.8 1027.1,1617.6 1039.8,1617.6" stroke="#5102a1" stroke-opacity="0.50" stroke-width="5.6" stroke-linejoin="round" stroke-linecap="square"/>
<polyline points="175.7,1192.2 179.3,1201.0 183.0,1209.7 186.6,1218.2 190.2,1226.7 193.9,1235.0 197.5,1243.2 201.1,1251.3 204.8,1259.2 208.4,1267.2 212.0,1275.1 215.7,1282.8 219.3,1290.4 222.9,1297.9 226.6,1305.2 230.2,1312.2 233.8,1319.0 237.5,1325.5 241.1,1331.8 244.7,1337.8 248.4,1343.6 252.0,1349.2 255.6,1354.7 259.3,1360.0 262.9,1365.3 266.5,1370.5 270.2,1375.7 273.8,1380.8 277.4,1386.0 281.1,1391.1 284.7,1396.3 288.3,1401.5 292.0,1406.5 295.6,1411.5 299.2,1416.4 302.9,1421.2 306.5,1425.8 310.1,1430.2 313.8,1434.5 317.4,1438.6 321.0,1442.5 324.7,1446.3 328.3,1450.0 331.9,1453.6 335.6,1457.1 339.2,1460.5 342.8,1463.8 346.5,1467.1 350.1,1470.3 353.7,1473.5 357.4,1476.7 361.0,1479.8 364.6,1482.9 368.3,1486.1 371.9,1489.2 375.5,1492.3 379.2,1495.3 382.8,1498.3 386.4,1501.3 390.1,1504.2 393.7,1507.0 397.3,1509.8 401.0,1512.4 404.6,1515.0 408.2,1517.5 411.9,1519.9 415.5,1522.2 419.1,1524.5 422.8,1526.7 426.4,1528.8 430.0,1530.8 433.7,1532.9 437.3,1534.8 440.9,1536.7 444.6,1538.6 448.2,1540.4 451.8,1542.2 455.5,1543.9 459.1,1545.6 462.7,1547.3 466.4,1548.9 470.0,1550.5 473.6,1552.0 477.3,1553.5 480.9,1555.0 484.5,1556.4 488.2,1557.8 491.8,1559.2 495.4,1560.6 499.1,1561.9 502.7,1563.2 506.3,1564.4 510.0,1565.7 513.6,1566.9 517.2,1568.0 520.9,1569.2 524.5,1570.3 528.1,1571.4 531.8,1572.5 535.4,1573.6 539.0,1574.6 542.7,1575.6 546.3,1576.6 549.9,1577.6 553.6,1578.5 557.2,1579.4 560.8,1580.4 564.5,1581.2 568.1,1582.1 571.7,1582.9 575.4,1583.8 579.0,1584.6 582.6,1585.4 586.3,1586.2 589.9,1587.0 593.5,1587.8 597.2,1588.6 600.8,1589.4 604.4,1590.1 608.1,1590.9 611.7,1591.6 615.3,1592.3 619.0,1593.0 622.6,1593.7 626.2,1594.4 629.9,1595.1 633.5,1595.8 637.1,1596.4 640.8,1597.0 644.4,1597.7 648.0,1598.3 651.7,1598.9 655.3,1599.5 658.9,1600.1 662.6,1600.7 666.2,1601.2 669.8,1601.8 673.5,1602.3 677.1,1602.8 680.7,1603.3 684.4,1603.8 688.0,1604.3 691.6,1604.8 695.3,1605.3 698.9,1605.8 702.5,1606.2 706.2,1606.6 709.8,1607.1 713.4,1607.5 717.1,1607.9 720.7,1608.3 724.3,1608.7 728.0,1609.0 731.6,1609.4 735.2,1609.8 738.9,1610.1 742.5,1610.4 746.1,1610.7 749.8,1611.1 753.4,1611.4 757.0,1611.7 760.7,1612.0 764.3,1612.2 767.9,1612.5 771.6,1612.8 775.2,1613.1 778.8,1613.4 782.5,1613.6 786.1,1613.9 789.7,1614.2 793.4,1614.4 797.0,1614.7 800.6,1614.9 804.3,1615.2 807.9,1615.4 811.5,1615.7 815.2,1615.9 818.8,1616.2 822.4,1616.4 826.1,1616.6 829.7,1616.8 833.3,1617.1 837.0,1617.3 840.6,1617.5 844.2,1617.7 847.9,1617.9 851.5,1618.1 855.1,1618.3 858.8,1618.5 862.4,1618.7 866.0,1618.9 869.7,1619.1 873.3,1619.3 876.9,1619.5 880.6,1619.7 884.2,1619.8 887.8,1620.0 891.5,1620.2 895.1,1620.4 898.7,1620.5 902.4,1620.7 906.0,1620.9 909.6,1621.0 913.3,1621.2 916.9,1621.3 920.5,1621.5 924.2,1621.6 927.8,1621.8 931.4,1621.9 935.1,1622.1 938.7,1622.2 942.3,1622.3 946.0,1622.5 949.6,1622.6 953.2,1622.7 956.9,1622.9 960.5,1623.0 964.1,1623.1 967.8,1623.2 971.4,1623.4 975.0,1623.5 978.7,1623.6 982.3,1623.7 985.9,1623.8 989.6,1623.9 993.2,1624.0 996.8,1624.1 1000.5,1624.2 1004.1,1624.3 1007.7,1624.4 1011.4,1624.5 1015.0,1624.6 1018.6,1624.7 1022.3,1624.8 1025.9,1624.8 1029.5,1624.9 1033.2,1625.0 1036.8,1625.1 1040.4,1625.1 1044.1,1625.2" stroke="#000" stroke-width="6.3" stroke-dasharray="6.3 10.4" stroke-linecap="butt"/>
<polyline points="175.7,1196.2 201.1,1250.1 226.5,1305.1 251.9,1348.2 277.4,1386.8 302.8,1423.7 328.2,1447.4 353.6,1472.7 379.0,1498.2 404.4,1516.5 429.9,1531.6 455.3,1543.4 480.7,1553.0 506.1,1563.9 531.5,1573.1 556.9,1578.7 582.4,1585.7 607.8,1590.5 633.2,1596.7 658.6,1601.8 684.0,1601.9 709.4,1607.5 734.9,1609.5 760.3,1612.8 785.7,1614.7 811.1,1616.2 836.5,1616.3 861.9,1616.9 887.3,1619.2 912.8,1622.0 938.2,1618.1 963.6,1621.9 989.0,1622.5 1014.4,1625.4 1039.8,1625.5" stroke="#f5af2d" stroke-opacity="0.50" stroke-width="5.6" stroke-linejoin="round" stroke-linecap="square"/>
<polyline points="175.7,1192.2 179.3,1201.0 183.0,1209.7 186.6,1218.2 190.2,1226.7 193.9,1235.0 197.5,1243.2 201.1,1251.3 204.8,1259.2 208.4,1267.2 212.0,1275.1 215.7,1282.8 219.3,1290.4 222.9,1297.9 226.6,1305.2 230.2,1312.2 233.8,1319.0 237.5,1325.5 241.1,1331.8 244.7,1337.8 248.4,1343.6 252.0,1349.2 255.6,1354.7 259.3,1360.0 262.9,1365.3 266.5,1370.5 270.2,1375.7 273.8,1380.8 277.4,1386.0 281.1,1391.1 284.7,1396.3 288.3,1401.5 292.0,1406.5 295.6,1411.5 299.2,1416.4 302.9,1421.2 306.5,1425.8 310.1,1430.2 313.8,1434.5 317.4,1438.6 321.0,1442.5 324.7,1446.3 328.3,1450.0 331.9,1453.6 335.6,1457.1 339.2,1460.5 342.8,1463.8 346.5,1467.1 350.1,1470.3 353.7,1473.5 357.4,1476.7 361.0,1479.8 364.6,1482.9 368.3,1486.1 371.9,1489.2 375.5,1492.3 379.2,1495.3 382.8,1498.3 386.4,1501.3 390.1,1504.2 393.7,1507.0 397.3,1509.8 401.0,1512.4 404.6,1515.0 408.2,1517.5 411.9,1519.9 415.5,1522.2 419.1,1524.5 422.8,1526.7 426.4,1528.8 430.0,1530.8 433.7,1532.9 437.3,1534.8 440.9,1536.7 444.6,1538.6 448.2,1540.4 451.8,1542.2 455.5,1543.9 459.1,1545.6 462.7,1547.3 466.4,1548.9 470.0,1550.5 473.6,1552.0 477.3,1553.5 480.9,1555.0 484.5,1556.4 488.2,1557.8 491.8,1559.2 495.4,1560.6 499.1,1561.9 502.7,1563.2 506.3,1564.4 510.0,1565.7 513.6,1566.9 517.2,1568.0 520.9,1569.2 524.5,1570.3 528.1,1571.4 531.8,1572.5 535.4,1573.6 539.0,1574.6 542.7,1575.6 546.3,1576.6 549.9,1577.6 553.6,1578.5 557.2,1579.4 560.8,1580.4 564.5,1581.2 568.1,1582.1 571.7,1582.9 575.4,1583.8 579.0,1584.6 582.6,1585.4 586.3,1586.2 589.9,1587.0 593.5,1587.8 597.2,1588.6 600.8,1589.4 604.4,1590.1 608.1,1590.9 611.7,1591.6 615.3,1592.3 619.0,1593.0 622.6,1593.7 626.2,1594.4 629.9,1595.1 633.5,1595.8 637.1,1596.4 640.8,1597.0 644.4,1597.7 648.0,1598.3 651.7,1598.9 655.3,1599.5 658.9,1600.1 662.6,1600.7 666.2,1601.2 669.8,1601.8 673.5,1602.3 677.1,1602.8 680.7,1603.3 684.4,1603.8 688.0,1604.3 691.6,1604.8 695.3,1605.3 698.9,1605.8 702.5,1606.2 706.2,1606.6 709.8,1607.1 713.4,1607.5 717.1,1607.9 720.7,1608.3 724.3,1608.7 728.0,1609.0 731.6,1609.4 735.2,1609.8 738.9,1610.1 742.5,1610.4 746.1,1610.7 749.8,1611.1 753.4,1611.4 757.0,1611.7 760.7,1612.0 764.3,1612.2 767.9,1612.5 771.6,1612.8 775.2,1613.1 778.8,1613.4 782.5,1613.6 786.1,1613.9 789.7,1614.2 793.4,1614.4 797.0,1614.7 800.6,1614.9 804.3,1615.2 807.9,1615.4 811.5,1615.7 815.2,1615.9 818.8,1616.2 822.4,1616.4 826.1,1616.6 829.7,1616.8 833.3,1617.1 837.0,1617.3 840.6,1617.5 844.2,1617.7 847.9,1617.9 851.5,1618.1 855.1,1618.3 858.8,1618.5 862.4,1618.7 866.0,1618.9 869.7,1619.1 873.3,1619.3 876.9,1619.5 880.6,1619.7 884.2,1619.8 887.8,1620.0 891.5,1620.2 895.1,1620.4 898.7,1620.5 902.4,1620.7 906.0,1620.9 909.6,1621.0 913.3,1621.2 916.9,1621.3 920.5,1621.5 924.2,1621.6 927.8,1621.8 931.4,1621.9 935.1,1622.1 938.7,1622.2 942.3,1622.3 946.0,1622.5 949.6,1622.6 953.2,1622.7 956.9,1622.9 960.5,1623.0 964.1,1623.1 967.8,1623.2 971.4,1623.4 975.0,1623.5 978.7,1623.6 982.3,1623.7 985.9,1623.8 989.6,1623.9 993.2,1624.0 996.8,1624.1 1000.5,1624.2 1004.1,1624.3 1007.7,1624.4 1011.4,1624.5 1015.0,1624.6 1018.6,1624.7 1022.3,1624.8 1025.9,1624.8 1029.5,1624.9 1033.2,1625.0 1036.8,1625.1 1040.4,1625.1 1044.1,1625.2" stroke="#000" stroke-width="6.3" stroke-dasharray="6.3 10.4" stroke-linecap="butt"/>
<polyline points="175.7,1207.1 201.1,1252.0 226.5,1304.2 251.9,1349.1 277.4,1388.2 302.8,1419.6 328.2,1450.0 353.6,1472.5 379.0,1492.5 404.4,1514.5 429.9,1532.3 455.3,1544.8 480.7,1553.4 506.1,1566.5 531.5,1572.1 556.9,1578.8 582.4,1587.0 607.8,1590.6 633.2,1594.9 658.6,1601.1 684.0,1604.5 709.4,1606.2 734.9,1611.6 760.3,1613.2 785.7,1612.5 811.1,1615.5 836.5,1619.3 861.9,1618.7 887.3,1617.2 912.8,1623.4 938.2,1621.0 963.6,1622.0 989.0,1624.1 1014.4,1623.7 1039.8,1626.1" stroke="#e1f519" stroke-opacity="0.50" stroke-width="5.6" stroke-linejoin="round" stroke-linecap="square"/>
<polyline points="175.7,1192.2 179.3,1201.0 183.0,1209.7 186.6,1218.2 190.2,1226.7 193.9,1235.0 197.5,1243.2 201.1,1251.3 204.8,1259.2 208.4,1267.2 212.0,1275.1 215.7,1282.8 219.3,1290.4 222.9,1297.9 226.6,1305.2 230.2,1312.2 233.8,1319.0 237.5,1325.5 241.1,1331.8 244.7,1337.8 248.4,1343.6 252.0,1349.2 255.6,1354.7 259.3,1360.0 262.9,1365.3 266.5,1370.5 270.2,1375.7 273.8,1380.8 277.4,1386.0 281.1,1391.1 284.7,1396.3 288.3,1401.5 292.0,1406.5 295.6,1411.5 299.2,1416.4 302.9,1421.2 306.5,1425.8 310.1,1430.2 313.8,1434.5 317.4,1438.6 321.0,1442.5 324.7,1446.3 328.3,1450.0 331.9,1453.6 335.6,1457.1 339.2,1460.5 342.8,1463.8 346.5,1467.1 350.1,1470.3 353.7,1473.5 357.4,1476.7 361.0,1479.8 364.6,1482.9 368.3,1486.1 371.9,1489.2 375.5,1492.3 379.2,1495.3 382.8,1498.3 386.4,1501.3 390.1,1504.2 393.7,1507.0 397.3,1509.8 401.0,1512.4 404.6,1515.0 408.2,1517.5 411.9,1519.9 415.5,1522.2 419.1,1524.5 422.8,1526.7 426.4,1528.8 430.0,1530.8 433.7,1532.9 437.3,1534.8 440.9,1536.7 444.6,1538.6 448.2,1540.4 451.8,1542.2 455.5,1543.9 459.1,1545.6 462.7,1547.3 466.4,1548.9 470.0,1550.5 473.6,1552.0 477.3,1553.5 480.9,1555.0 484.5,1556.4 488.2,1557.8 491.8,1559.2 495.4,1560.6 499.1,1561.9 502.7,1563.2 506.3,1564.4 510.0,1565.7 513.6,1566.9 517.2,1568.0 520.9,1569.2 524.5,1570.3 528.1,1571.4 531.8,1572.5 535.4,1573.6 539.0,1574.6 542.7,1575.6 546.3,1576.6 549.9,1577.6 553.6,1578.5 557.2,1579.4 560.8,1580.4 564.5,1581.2 568.1,1582.1 571.7,1582.9 575.4,1583.8 579.0,1584.6 582.6,1585.4 586.3,1586.2 589.9,1587.0 593.5,1587.8 597.2,1588.6 600.8,1589.4 604.4,1590.1 608.1,1590.9 611.7,1591.6 615.3,1592.3 619.0,1593.0 622.6,1593.7 626.2,1594.4 629.9,1595.1 633.5,1595.8 637.1,1596.4 640.8,1597.0 644.4,1597.7 648.0,1598.3 651.7,1598.9 655.3,1599.5 658.9,1600.1 662.6,1600.7 666.2,1601.2 669.8,1601.8 673.5,1602.3 677.1,1602.8 680.7,1603.3 684.4,1603.8 688.0,1604.3 691.6,1604.8 695.3,1605.3 698.9,1605.8 702.5,1606.2 706.2,1606.6 709.8,1607.1 713.4,1607.5 717.1,1607.9 720.7,1608.3 724.3,1608.7 728.0,1609.0 731.6,1609.4 735.2,1609.8 738.9,1610.1 742.5,1610.4 746.1,1610.7 749.8,1611.1 753.4,1611.4 757.0,1611.7 760.7,1612.0 764.3,1612.2 767.9,1612.5 771.6,1612.8 775.2,1613.1 778.8,1613.4 782.5,1613.6 786.1,1613.9 789.7,1614.2 793.4,1614.4 797.0,1614.7 800.6,1614.9 804.3,1615.2 807.9,1615.4 811.5,1615.7 815.2,1615.9 818.8,1616.2 822.4,1616.4 826.1,1616.6 829.7,1616.8 833.3,1617.1 837.0,1617.3 840.6,1617.5 844.2,1617.7 847.9,1617.9 851.5,1618.1 855.1,1618.3 858.8,1618.5 862.4,1618.7 866.0,1618.9 869.7,1619.1 873.3,1619.3 876.9,1619.5 880.6,1619.7 884.2,1619.8 887.8,1620.0 891.5,1620.2 895.1,1620.4 898.7,1620.5 902.4,1620.7 906.0,1620.9 909.6,1621.0 913.3,1621.2 916.9,1621.3 920.5,1621.5 924.2,1621.6 927.8,1621.8 931.4,1621.9 935.1,1622.1 938.7,1622.2 942.3,1622.3 946.0,1622.5 949.6,1622.6 953.2,1622.7 956.9,1622.9 960.5,1623.0 964.1,1623.1 967.8,1623.2 971.4,1623.4 975.0,1623.5 978.7,1623.6 982.3,1623.7 985.9,1623.8 989.6,1623.9 993.2,1624.0 996.8,1624.1 1000.5,1624.2 1004.1,1624.3 1007.7,1624.4 1011.4,1624.5 1015.0,1624.6 1018.6,1624.7 1022.3,1624.8 1025.9,1624.8 1029.5,1624.9 1033.2,1625.0 1036.8,1625.1 1040.4,1625.1 1044.1,1625.2" stroke="#000" stroke-width="6.3" stroke-dasharray="6.3 10.4" stroke-linecap="butt"/>
</g>
<rect x="133.5" y="1150.0" width="889.0" height="524.0" fill="none" stroke="#000" stroke-width="2.3"/>
<line x1="118.9" y1="1647.4" x2="133.5" y2="1647.4" stroke="#000" stroke-width="2.8"/>
<text x="104.1" y="1656.4" text-anchor="end" font-family="'Liberation Sans', Arial, Helvetica, sans-serif" font-size="25">0.0</text>
<line x1="118.9" y1="1465.5" x2="133.5" y2="1465.5" stroke="#000" stroke-width="2.8"/>
<text x="104.1" y="1474.5" text-anchor="end" font-family="'Liberation Sans', Arial, Helvetica, sans-serif" font-size="25">0.5</text>
<line x1="118.9" y1="1283.5" x2="133.5" y2="1283.5" stroke="#000" stroke-width="2.8"/>
<text x="104.1" y="1292.5" text-anchor="end" font-family="'Liberation Sans', Arial, Helvetica, sans-serif" font-size="25">1.0</text>
<line x1="175.7" y1="1674.0" x2="175.7" y2="1688.7" stroke="#000" stroke-width="2.8"/>
<line x1="599.3" y1="1674.0" x2="599.3" y2="1688.7" stroke="#000" stroke-width="2.8"/>
<line x1="1022.9" y1="1674.0" x2="1022.9" y2="1688.7" stroke="#000" stroke-width="2.8"/>
<text transform="translate(47.4,1411.5) rotate(-90)" text-anchor="middle" font-family="'Liberation Sans', Arial, Helvetica, sans-serif" font-size="25">Normalized intensity</text>
<text x="-1.3" y="1155.6" font-family="'Liberation Sans', Arial, Helvetica, sans-serif" font-weight="bold" font-size="34.8">c</text>
<text x="188.0" y="1611.5" font-family="'Liberation Sans', Arial, Helvetica, sans-serif" font-size="30">20K</text>
<rect x="720.0" y="1162.8" width="289.8" height="132.3" rx="5" ry="5" fill="#fff" fill-opacity="0.8" stroke="#d4d4d4" stroke-width="3.6"/>
<line x1="726.7" y1="1187.6" x2="783.0" y2="1187.6" stroke="#5102a1" stroke-opacity="0.50" stroke-width="5.6"/>
<text x="799.5" y="1194.5" font-family="'DejaVu Sans', sans-serif" font-size="25.2">1.5</text>
<text x="844.0" y="1194.5" font-family="'DejaVu Sans', sans-serif" font-size="25.2">×</text>
<text x="869.5" y="1194.5" font-family="'DejaVu Sans', sans-serif" font-size="25.2">10</text>
<text x="902.0" y="1184.9" font-family="'DejaVu Sans', sans-serif" font-size="17.3">14</text>
<text x="932.5" y="1194.5" font-family="'DejaVu Sans', sans-serif" font-size="25.2" font-style="oblique">cm</text>
<text x="971.3" y="1184.9" font-family="'DejaVu Sans', sans-serif" font-size="17.3">−3</text>
<line x1="726.7" y1="1229.4" x2="783.0" y2="1229.4" stroke="#f5af2d" stroke-opacity="0.50" stroke-width="5.6"/>
<text x="799.5" y="1236.3" font-family="'DejaVu Sans', sans-serif" font-size="25.2">5.2</text>
<text x="844.0" y="1236.3" font-family="'DejaVu Sans', sans-serif" font-size="25.2">×</text>
<text x="869.5" y="1236.3" font-family="'DejaVu Sans', sans-serif" font-size="25.2">10</text>
<text x="902.0" y="1226.7" font-family="'DejaVu Sans', sans-serif" font-size="17.3">15</text>
<text x="932.5" y="1236.3" font-family="'DejaVu Sans', sans-serif" font-size="25.2" font-style="oblique">cm</text>
<text x="971.3" y="1226.7" font-family="'DejaVu Sans', sans-serif" font-size="17.3">−3</text>
<line x1="726.7" y1="1271.2" x2="783.0" y2="1271.2" stroke="#e1f519" stroke-opacity="0.50" stroke-width="5.6"/>
<text x="799.5" y="1278.1" font-family="'DejaVu Sans', sans-serif" font-size="25.2">2</text>
<text x="821.1" y="1278.1" font-family="'DejaVu Sans', sans-serif" font-size="25.2">×</text>
<text x="845.7" y="1278.1" font-family="'DejaVu Sans', sans-serif" font-size="25.2">10</text>
<text x="876.6" y="1268.5" font-family="'DejaVu Sans', sans-serif" font-size="17.3">16</text>
<text x="908.4" y="1278.1" font-family="'DejaVu Sans', sans-serif" font-size="25.2" font-style="oblique">cm</text>
<text x="947.3" y="1268.5" font-family="'DejaVu Sans', sans-serif" font-size="17.3">−3</text>
<g clip-path="url(#clipd)" fill="none">
<polyline points="175.7,1750.0 194.8,1804.1 213.8,1847.0 232.9,1882.9 251.9,1920.7 271.0,1939.8 290.1,1976.0 309.1,2008.2 328.2,2029.0 347.3,2048.1 366.3,2064.6 385.4,2076.7 404.4,2084.4 423.5,2105.9 442.6,2119.9 461.6,2123.8 480.7,2127.7 499.8,2143.7 518.8,2144.6 537.9,2155.3 556.9,2161.2 576.0,2164.6 595.1,2171.1 614.1,2174.5 633.2,2180.8 652.2,2183.3 671.3,2185.8 690.4,2187.0 709.4,2185.1 728.5,2191.2 747.6,2192.5 766.6,2193.3 785.7,2196.7 804.7,2197.7 823.8,2195.1 842.9,2197.0 861.9,2202.6 881.0,2201.2 900.1,2199.7 919.1,2204.7 938.2,2204.0 957.2,2201.8 976.3,2205.5 995.4,2203.1 1014.4,2208.4 1033.5,2206.6" stroke="#5102a1" stroke-opacity="0.50" stroke-width="5.6" stroke-linejoin="round" stroke-linecap="square"/>
<polyline points="175.7,1756.6 179.3,1766.2 183.0,1775.6 186.6,1784.8 190.2,1793.7 193.9,1802.5 197.5,1811.0 201.1,1819.3 204.8,1827.5 208.4,1835.5 212.0,1843.2 215.7,1850.7 219.3,1858.0 222.9,1865.1 226.6,1872.0 230.2,1878.9 233.8,1885.6 237.5,1892.3 241.1,1899.0 244.7,1905.6 248.4,1912.3 252.0,1919.1 255.6,1925.9 259.3,1932.6 262.9,1939.3 266.5,1945.8 270.2,1952.2 273.8,1958.4 277.4,1964.4 281.1,1970.1 284.7,1975.5 288.3,1980.6 292.0,1985.5 295.6,1990.1 299.2,1994.6 302.9,1998.9 306.5,2003.1 310.1,2007.2 313.8,2011.2 317.4,2015.1 321.0,2018.9 324.7,2022.7 328.3,2026.5 331.9,2030.3 335.6,2034.0 339.2,2037.7 342.8,2041.3 346.5,2044.9 350.1,2048.4 353.7,2051.8 357.4,2055.2 361.0,2058.5 364.6,2061.8 368.3,2065.0 371.9,2068.1 375.5,2071.2 379.2,2074.2 382.8,2077.1 386.4,2080.0 390.1,2082.9 393.7,2085.7 397.3,2088.4 401.0,2091.2 404.6,2093.8 408.2,2096.5 411.9,2099.1 415.5,2101.7 419.1,2104.2 422.8,2106.6 426.4,2109.0 430.0,2111.3 433.7,2113.6 437.3,2115.8 440.9,2118.0 444.6,2120.0 448.2,2122.0 451.8,2124.0 455.5,2125.9 459.1,2127.7 462.7,2129.4 466.4,2131.1 470.0,2132.7 473.6,2134.2 477.3,2135.7 480.9,2137.1 484.5,2138.4 488.2,2139.8 491.8,2141.1 495.4,2142.4 499.1,2143.6 502.7,2144.9 506.3,2146.1 510.0,2147.4 513.6,2148.6 517.2,2149.8 520.9,2150.9 524.5,2152.1 528.1,2153.2 531.8,2154.3 535.4,2155.4 539.0,2156.5 542.7,2157.6 546.3,2158.6 549.9,2159.6 553.6,2160.6 557.2,2161.6 560.8,2162.5 564.5,2163.5 568.1,2164.4 571.7,2165.3 575.4,2166.2 579.0,2167.0 582.6,2167.9 586.3,2168.7 589.9,2169.5 593.5,2170.2 597.2,2171.0 600.8,2171.7 604.4,2172.5 608.1,2173.2 611.7,2173.9 615.3,2174.6 619.0,2175.3 622.6,2176.0 626.2,2176.6 629.9,2177.3 633.5,2177.9 637.1,2178.6 640.8,2179.2 644.4,2179.8 648.0,2180.4 651.7,2181.0 655.3,2181.6 658.9,2182.1 662.6,2182.7 666.2,2183.2 669.8,2183.8 673.5,2184.3 677.1,2184.8 680.7,2185.3 684.4,2185.8 688.0,2186.2 691.6,2186.7 695.3,2187.2 698.9,2187.6 702.5,2188.0 706.2,2188.5 709.8,2188.9 713.4,2189.3 717.1,2189.7 720.7,2190.1 724.3,2190.4 728.0,2190.8 731.6,2191.1 735.2,2191.5 738.9,2191.8 742.5,2192.1 746.1,2192.4 749.8,2192.8 753.4,2193.1 757.0,2193.4 760.7,2193.7 764.3,2194.0 767.9,2194.3 771.6,2194.5 775.2,2194.8 778.8,2195.1 782.5,2195.4 786.1,2195.7 789.7,2195.9 793.4,2196.2 797.0,2196.4 800.6,2196.7 804.3,2197.0 807.9,2197.2 811.5,2197.4 815.2,2197.7 818.8,2197.9 822.4,2198.2 826.1,2198.4 829.7,2198.6 833.3,2198.8 837.0,2199.1 840.6,2199.3 844.2,2199.5 847.9,2199.7 851.5,2199.9 855.1,2200.1 858.8,2200.3 862.4,2200.5 866.0,2200.7 869.7,2200.9 873.3,2201.1 876.9,2201.3 880.6,2201.5 884.2,2201.6 887.8,2201.8 891.5,2202.0 895.1,2202.2 898.7,2202.3 902.4,2202.5 906.0,2202.7 909.6,2202.8 913.3,2203.0 916.9,2203.1 920.5,2203.3 924.2,2203.4 927.8,2203.6 931.4,2203.7 935.1,2203.9 938.7,2204.0 942.3,2204.1 946.0,2204.3 949.6,2204.4 953.2,2204.5 956.9,2204.7 960.5,2204.8 964.1,2204.9 967.8,2205.0 971.4,2205.1 975.0,2205.3 978.7,2205.4 982.3,2205.5 985.9,2205.6 989.6,2205.7 993.2,2205.8 996.8,2205.9 1000.5,2206.0 1004.1,2206.1 1007.7,2206.2 1011.4,2206.3 1015.0,2206.4 1018.6,2206.5 1022.3,2206.6 1025.9,2206.6 1029.5,2206.7 1033.2,2206.8 1036.8,2206.9 1040.4,2206.9 1044.1,2207.0" stroke="#000" stroke-width="6.3" stroke-dasharray="6.3 10.4" stroke-linecap="butt"/>
<polyline points="175.7,1750.0 201.1,1811.6 226.5,1859.1 251.9,1908.4 277.4,1962.7 302.8,1999.4 328.2,2026.0 353.6,2052.1 379.0,2074.1 404.4,2094.9 429.9,2110.0 455.3,2124.7 480.7,2136.9 506.1,2144.4 531.5,2153.6 556.9,2162.7 582.4,2167.3 607.8,2174.5 633.2,2176.6 658.6,2182.1 684.0,2186.0 709.4,2189.8 734.9,2189.7 760.3,2193.9 785.7,2196.2 811.1,2197.9 836.5,2198.3 861.9,2200.0 887.3,2201.2 912.8,2202.3 938.2,2200.9 963.6,2205.5 989.0,2206.4 1014.4,2207.5 1039.8,2206.1" stroke="#f5af2d" stroke-opacity="0.50" stroke-width="5.6" stroke-linejoin="round" stroke-linecap="square"/>
<polyline points="175.7,1756.6 179.3,1756.6 183.0,1759.1 186.6,1768.6 190.2,1777.9 193.9,1787.0 197.5,1795.9 201.1,1804.6 204.8,1813.1 208.4,1821.4 212.0,1829.5 215.7,1837.4 219.3,1845.1 222.9,1852.6 226.6,1859.8 230.2,1866.9 233.8,1873.8 237.5,1880.6 241.1,1887.3 244.7,1894.0 248.4,1900.6 252.0,1907.3 255.6,1914.0 259.3,1920.8 262.9,1927.6 266.5,1934.3 270.2,1940.9 273.8,1947.5 277.4,1953.8 281.1,1959.9 284.7,1965.8 288.3,1971.5 292.0,1976.8 295.6,1981.9 299.2,1986.7 302.9,1991.3 306.5,1995.7 310.1,2000.0 313.8,2004.2 317.4,2008.2 321.0,2012.2 324.7,2016.1 328.3,2019.9 331.9,2023.7 335.6,2027.5 339.2,2031.3 342.8,2035.0 346.5,2038.6 350.1,2042.2 353.7,2045.8 357.4,2049.3 361.0,2052.7 364.6,2056.1 368.3,2059.4 371.9,2062.6 375.5,2065.8 379.2,2068.9 382.8,2071.9 386.4,2074.9 390.1,2077.9 393.7,2080.8 397.3,2083.6 401.0,2086.4 404.6,2089.1 408.2,2091.8 411.9,2094.5 415.5,2097.2 419.1,2099.7 422.8,2102.3 426.4,2104.8 430.0,2107.2 433.7,2109.6 437.3,2111.9 440.9,2114.2 444.6,2116.4 448.2,2118.5 451.8,2120.5 455.5,2122.5 459.1,2124.5 462.7,2126.3 466.4,2128.1 470.0,2129.8 473.6,2131.5 477.3,2133.1 480.9,2134.6 484.5,2136.0 488.2,2137.4 491.8,2138.8 495.4,2140.1 499.1,2141.4 502.7,2142.7 506.3,2143.9 510.0,2145.2 513.6,2146.4 517.2,2147.7 520.9,2148.9 524.5,2150.0 528.1,2151.2 531.8,2152.4 535.4,2153.5 539.0,2154.6 542.7,2155.7 546.3,2156.8 549.9,2157.8 553.6,2158.8 557.2,2159.9 560.8,2160.8 564.5,2161.8 568.1,2162.8 571.7,2163.7 575.4,2164.6 579.0,2165.5 582.6,2166.4 586.3,2167.2 589.9,2168.1 593.5,2168.9 597.2,2169.7 600.8,2170.4 604.4,2171.2 608.1,2171.9 611.7,2172.7 615.3,2173.4 619.0,2174.1 622.6,2174.8 626.2,2175.5 629.9,2176.1 633.5,2176.8 637.1,2177.4 640.8,2178.1 644.4,2178.7 648.0,2179.3 651.7,2179.9 655.3,2180.5 658.9,2181.1 662.6,2181.7 666.2,2182.3 669.8,2182.8 673.5,2183.4 677.1,2183.9 680.7,2184.4 684.4,2184.9 688.0,2185.4 691.6,2185.9 695.3,2186.4 698.9,2186.8 702.5,2187.3 706.2,2187.7 709.8,2188.2 713.4,2188.6 717.1,2189.0 720.7,2189.4 724.3,2189.8 728.0,2190.1 731.6,2190.5 735.2,2190.9 738.9,2191.2 742.5,2191.6 746.1,2191.9 749.8,2192.2 753.4,2192.5 757.0,2192.8 760.7,2193.1 764.3,2193.4 767.9,2193.7 771.6,2194.0 775.2,2194.3 778.8,2194.6 782.5,2194.9 786.1,2195.2 789.7,2195.4 793.4,2195.7 797.0,2196.0 800.6,2196.2 804.3,2196.5 807.9,2196.8 811.5,2197.0 815.2,2197.3 818.8,2197.5 822.4,2197.7 826.1,2198.0 829.7,2198.2 833.3,2198.4 837.0,2198.7 840.6,2198.9 844.2,2199.1 847.9,2199.3 851.5,2199.5 855.1,2199.8 858.8,2200.0 862.4,2200.2 866.0,2200.4 869.7,2200.6 873.3,2200.8 876.9,2200.9 880.6,2201.1 884.2,2201.3 887.8,2201.5 891.5,2201.7 895.1,2201.9 898.7,2202.0 902.4,2202.2 906.0,2202.4 909.6,2202.5 913.3,2202.7 916.9,2202.9 920.5,2203.0 924.2,2203.2 927.8,2203.3 931.4,2203.5 935.1,2203.6 938.7,2203.8 942.3,2203.9 946.0,2204.0 949.6,2204.2 953.2,2204.3 956.9,2204.4 960.5,2204.6 964.1,2204.7 967.8,2204.8 971.4,2204.9 975.0,2205.1 978.7,2205.2 982.3,2205.3 985.9,2205.4 989.6,2205.5 993.2,2205.6 996.8,2205.7 1000.5,2205.8 1004.1,2205.9 1007.7,2206.0 1011.4,2206.1 1015.0,2206.2 1018.6,2206.3 1022.3,2206.4 1025.9,2206.5 1029.5,2206.6 1033.2,2206.7 1036.8,2206.7 1040.4,2206.8 1044.1,2206.9" stroke="#000" stroke-width="6.3" stroke-dasharray="6.3 10.4" stroke-linecap="butt"/>
<polyline points="175.7,1750.0 201.1,1818.5 226.5,1873.2 251.9,1921.3 277.4,1969.3 302.8,2001.2 328.2,2031.8 353.6,2057.9 379.0,2081.7 404.4,2097.4 429.9,2113.7 455.3,2128.1 480.7,2138.9 506.1,2147.0 531.5,2155.5 556.9,2161.5 582.4,2168.7 607.8,2172.3 633.2,2178.4 658.6,2182.6 684.0,2183.5 709.4,2189.9 734.9,2193.7 760.3,2193.1 785.7,2198.6 811.1,2197.0 836.5,2197.6 861.9,2200.4 887.3,2201.8 912.8,2205.9 938.2,2203.2 963.6,2204.3 989.0,2207.3 1014.4,2203.7 1039.8,2208.7" stroke="#e1f519" stroke-opacity="0.50" stroke-width="5.6" stroke-linejoin="round" stroke-linecap="square"/>
<polyline points="175.7,1756.6 179.3,1766.2 183.0,1775.6 186.6,1784.8 190.2,1793.7 193.9,1802.5 197.5,1811.0 201.1,1819.3 204.8,1827.5 208.4,1835.5 212.0,1843.2 215.7,1850.7 219.3,1858.0 222.9,1865.1 226.6,1872.0 230.2,1878.9 233.8,1885.6 237.5,1892.3 241.1,1899.0 244.7,1905.6 248.4,1912.3 252.0,1919.1 255.6,1925.9 259.3,1932.6 262.9,1939.3 266.5,1945.8 270.2,1952.2 273.8,1958.4 277.4,1964.4 281.1,1970.1 284.7,1975.5 288.3,1980.6 292.0,1985.5 295.6,1990.1 299.2,1994.6 302.9,1998.9 306.5,2003.1 310.1,2007.2 313.8,2011.2 317.4,2015.1 321.0,2018.9 324.7,2022.7 328.3,2026.5 331.9,2030.3 335.6,2034.0 339.2,2037.7 342.8,2041.3 346.5,2044.9 350.1,2048.4 353.7,2051.8 357.4,2055.2 361.0,2058.5 364.6,2061.8 368.3,2065.0 371.9,2068.1 375.5,2071.2 379.2,2074.2 382.8,2077.1 386.4,2080.0 390.1,2082.9 393.7,2085.7 397.3,2088.4 401.0,2091.2 404.6,2093.8 408.2,2096.5 411.9,2099.1 415.5,2101.7 419.1,2104.2 422.8,2106.6 426.4,2109.0 430.0,2111.3 433.7,2113.6 437.3,2115.8 440.9,2118.0 444.6,2120.0 448.2,2122.0 451.8,2124.0 455.5,2125.9 459.1,2127.7 462.7,2129.4 466.4,2131.1 470.0,2132.7 473.6,2134.2 477.3,2135.7 480.9,2137.1 484.5,2138.4 488.2,2139.8 491.8,2141.1 495.4,2142.4 499.1,2143.6 502.7,2144.9 506.3,2146.1 510.0,2147.4 513.6,2148.6 517.2,2149.8 520.9,2150.9 524.5,2152.1 528.1,2153.2 531.8,2154.3 535.4,2155.4 539.0,2156.5 542.7,2157.6 546.3,2158.6 549.9,2159.6 553.6,2160.6 557.2,2161.6 560.8,2162.5 564.5,2163.5 568.1,2164.4 571.7,2165.3 575.4,2166.2 579.0,2167.0 582.6,2167.9 586.3,2168.7 589.9,2169.5 593.5,2170.2 597.2,2171.0 600.8,2171.7 604.4,2172.5 608.1,2173.2 611.7,2173.9 615.3,2174.6 619.0,2175.3 622.6,2176.0 626.2,2176.6 629.9,2177.3 633.5,2177.9 637.1,2178.6 640.8,2179.2 644.4,2179.8 648.0,2180.4 651.7,2181.0 655.3,2181.6 658.9,2182.1 662.6,2182.7 666.2,2183.2 669.8,2183.8 673.5,2184.3 677.1,2184.8 680.7,2185.3 684.4,2185.8 688.0,2186.2 691.6,2186.7 695.3,2187.2 698.9,2187.6 702.5,2188.0 706.2,2188.5 709.8,2188.9 713.4,2189.3 717.1,2189.7 720.7,2190.1 724.3,2190.4 728.0,2190.8 731.6,2191.1 735.2,2191.5 738.9,2191.8 742.5,2192.1 746.1,2192.4 749.8,2192.8 753.4,2193.1 757.0,2193.4 760.7,2193.7 764.3,2194.0 767.9,2194.3 771.6,2194.5 775.2,2194.8 778.8,2195.1 782.5,2195.4 786.1,2195.7 789.7,2195.9 793.4,2196.2 797.0,2196.4 800.6,2196.7 804.3,2197.0 807.9,2197.2 811.5,2197.4 815.2,2197.7 818.8,2197.9 822.4,2198.2 826.1,2198.4 829.7,2198.6 833.3,2198.8 837.0,2199.1 840.6,2199.3 844.2,2199.5 847.9,2199.7 851.5,2199.9 855.1,2200.1 858.8,2200.3 862.4,2200.5 866.0,2200.7 869.7,2200.9 873.3,2201.1 876.9,2201.3 880.6,2201.5 884.2,2201.6 887.8,2201.8 891.5,2202.0 895.1,2202.2 898.7,2202.3 902.4,2202.5 906.0,2202.7 909.6,2202.8 913.3,2203.0 916.9,2203.1 920.5,2203.3 924.2,2203.4 927.8,2203.6 931.4,2203.7 935.1,2203.9 938.7,2204.0 942.3,2204.1 946.0,2204.3 949.6,2204.4 953.2,2204.5 956.9,2204.7 960.5,2204.8 964.1,2204.9 967.8,2205.0 971.4,2205.1 975.0,2205.3 978.7,2205.4 982.3,2205.5 985.9,2205.6 989.6,2205.7 993.2,2205.8 996.8,2205.9 1000.5,2206.0 1004.1,2206.1 1007.7,2206.2 1011.4,2206.3 1015.0,2206.4 1018.6,2206.5 1022.3,2206.6 1025.9,2206.6 1029.5,2206.7 1033.2,2206.8 1036.8,2206.9 1040.4,2206.9 1044.1,2207.0" stroke="#000" stroke-width="6.3" stroke-dasharray="6.3 10.4" stroke-linecap="butt"/>
</g>
<rect x="133.5" y="1726.3" width="889.0" height="524.3" fill="none" stroke="#000" stroke-width="2.3"/>
<line x1="118.9" y1="2223.0" x2="133.5" y2="2223.0" stroke="#000" stroke-width="2.8"/>
<text x="104.1" y="2232.0" text-anchor="end" font-family="'Liberation Sans', Arial, Helvetica, sans-serif" font-size="25">0.0</text>
<line x1="118.9" y1="1986.5" x2="133.5" y2="1986.5" stroke="#000" stroke-width="2.8"/>
<text x="104.1" y="1995.5" text-anchor="end" font-family="'Liberation Sans', Arial, Helvetica, sans-serif" font-size="25">0.5</text>
<line x1="118.9" y1="1750.0" x2="133.5" y2="1750.0" stroke="#000" stroke-width="2.8"/>
<text x="104.1" y="1759.0" text-anchor="end" font-family="'Liberation Sans', Arial, Helvetica, sans-serif" font-size="25">1.0</text>
<line x1="175.7" y1="2250.6" x2="175.7" y2="2265.3" stroke="#000" stroke-width="2.8"/>
<text x="175.7" y="2297.7" text-anchor="middle" font-family="'Liberation Sans', Arial, Helvetica, sans-serif" font-size="25">0</text>
<line x1="599.3" y1="2250.6" x2="599.3" y2="2265.3" stroke="#000" stroke-width="2.8"/>
<text x="599.3" y="2297.7" text-anchor="middle" font-family="'Liberation Sans', Arial, Helvetica, sans-serif" font-size="25">1</text>
<line x1="1022.9" y1="2250.6" x2="1022.9" y2="2265.3" stroke="#000" stroke-width="2.8"/>
<text x="1022.9" y="2297.7" text-anchor="middle" font-family="'Liberation Sans', Arial, Helvetica, sans-serif" font-size="25">2</text>
<text x="578.0" y="2337.6" text-anchor="middle" font-family="'Liberation Sans', Arial, Helvetica, sans-serif" font-size="25">Time (ns)</text>
<text transform="translate(47.4,1987.9) rotate(-90)" text-anchor="middle" font-family="'Liberation Sans', Arial, Helvetica, sans-serif" font-size="25">Normalized intensity</text>
<text x="-0.5" y="1721.8" font-family="'Liberation Sans', Arial, Helvetica, sans-serif" font-weight="bold" font-size="34.8">d</text>
<text x="188.0" y="2164.6" font-family="'Liberation Sans', Arial, Helvetica, sans-serif" font-size="30">30K</text>
<rect x="720.0" y="1739.1" width="289.8" height="132.3" rx="5" ry="5" fill="#fff" fill-opacity="0.8" stroke="#d4d4d4" stroke-width="3.6"/>
<line x1="726.7" y1="1763.9" x2="783.0" y2="1763.9" stroke="#5102a1" stroke-opacity="0.50" stroke-width="5.6"/>
<text x="799.5" y="1770.8" font-family="'DejaVu Sans', sans-serif" font-size="25.2">1.5</text>
<text x="844.0" y="1770.8" font-family="'DejaVu Sans', sans-serif" font-size="25.2">×</text>
<text x="869.5" y="1770.8" font-family="'DejaVu Sans', sans-serif" font-size="25.2">10</text>
<text x="902.0" y="1761.2" font-family="'DejaVu Sans', sans-serif" font-size="17.3">14</text>
<text x="932.5" y="1770.8" font-family="'DejaVu Sans', sans-serif" font-size="25.2" font-style="oblique">cm</text>
<text x="971.3" y="1761.2" font-family="'DejaVu Sans', sans-serif" font-size="17.3">−3</text>
<line x1="726.7" y1="1805.7" x2="783.0" y2="1805.7" stroke="#f5af2d" stroke-opacity="0.50" stroke-width="5.6"/>
<text x="799.5" y="1812.6" font-family="'DejaVu Sans', sans-serif" font-size="25.2">5.2</text>
<text x="844.0" y="1812.6" font-family="'DejaVu Sans', sans-serif" font-size="25.2">×</text>
<text x="869.5" y="1812.6" font-family="'DejaVu Sans', sans-serif" font-size="25.2">10</text>
<text x="902.0" y="1803.0" font-family="'DejaVu Sans', sans-serif" font-size="17.3">15</text>
<text x="932.5" y="1812.6" font-family="'DejaVu Sans', sans-serif" font-size="25.2" font-style="oblique">cm</text>
<text x="971.3" y="1803.0" font-family="'DejaVu Sans', sans-serif" font-size="17.3">−3</text>
<line x1="726.7" y1="1847.5" x2="783.0" y2="1847.5" stroke="#e1f519" stroke-opacity="0.50" stroke-width="5.6"/>
<text x="799.5" y="1854.4" font-family="'DejaVu Sans', sans-serif" font-size="25.2">1.8</text>
<text x="844.0" y="1854.4" font-family="'DejaVu Sans', sans-serif" font-size="25.2">×</text>
<text x="869.5" y="1854.4" font-family="'DejaVu Sans', sans-serif" font-size="25.2">10</text>
<text x="902.0" y="1844.8" font-family="'DejaVu Sans', sans-serif" font-size="17.3">16</text>
<text x="932.5" y="1854.4" font-family="'DejaVu Sans', sans-serif" font-size="25.2" font-style="oblique">cm</text>
<text x="971.3" y="1844.8" font-family="'DejaVu Sans', sans-serif" font-size="17.3">−3</text>
<g clip-path="url(#clipe)" fill="none">
<polyline points="1235.6,34.0 1256.8,93.8 1278.0,153.0 1299.1,198.4 1320.3,236.3 1341.5,269.9 1362.7,299.0 1383.9,322.9 1405.0,349.6 1426.2,370.8 1447.4,386.7 1468.6,400.1 1489.8,412.0 1510.9,419.7 1532.1,431.1 1553.3,440.4 1574.5,442.7 1595.7,450.0 1616.8,454.8 1638.0,460.1 1659.2,464.2 1680.4,463.7 1701.6,470.7 1722.7,471.9 1743.9,474.8 1765.1,473.1 1786.3,476.2 1807.5,479.1 1828.6,478.3 1849.8,477.8 1871.0,482.9 1892.2,483.8 1913.4,482.9 1934.5,484.0 1955.7,486.6 1976.9,486.6 1998.1,486.3 2019.3,485.6 2040.4,489.3 2061.6,486.6 2082.8,487.1 2104.0,485.2" stroke="#5102a1" stroke-opacity="0.50" stroke-width="5.6" stroke-linejoin="round" stroke-linecap="square"/>
<polyline points="1235.6,28.0 1239.2,34.3 1242.9,46.1 1246.5,57.7 1250.1,69.0 1253.8,80.2 1257.4,91.3 1261.0,102.1 1264.7,112.7 1268.3,123.4 1271.9,134.0 1275.6,144.5 1279.2,154.6 1282.8,164.3 1286.5,173.5 1290.1,182.1 1293.7,190.1 1297.4,197.6 1301.0,204.7 1304.6,211.5 1308.3,218.1 1311.9,224.4 1315.5,230.7 1319.2,236.8 1322.8,242.9 1326.4,249.0 1330.1,254.9 1333.7,260.7 1337.3,266.4 1341.0,271.9 1344.6,277.4 1348.2,282.7 1351.9,288.0 1355.5,293.1 1359.1,298.1 1362.8,303.1 1366.4,308.0 1370.0,312.9 1373.7,317.6 1377.3,322.3 1380.9,326.8 1384.6,331.2 1388.2,335.5 1391.8,339.6 1395.5,343.5 1399.1,347.3 1402.7,351.0 1406.4,354.5 1410.0,357.9 1413.6,361.3 1417.3,364.5 1420.9,367.6 1424.5,370.6 1428.2,373.6 1431.8,376.5 1435.4,379.2 1439.1,381.9 1442.7,384.6 1446.3,387.1 1450.0,389.6 1453.6,392.0 1457.2,394.3 1460.9,396.6 1464.5,398.8 1468.1,400.9 1471.8,403.0 1475.4,405.0 1479.0,406.9 1482.7,408.8 1486.3,410.7 1489.9,412.5 1493.6,414.2 1497.2,415.9 1500.8,417.6 1504.5,419.2 1508.1,420.8 1511.7,422.3 1515.4,423.8 1519.0,425.3 1522.6,426.7 1526.3,428.1 1529.9,429.5 1533.5,430.8 1537.2,432.2 1540.8,433.4 1544.4,434.7 1548.1,436.0 1551.7,437.2 1555.3,438.4 1559.0,439.6 1562.6,440.7 1566.2,441.8 1569.9,442.9 1573.5,444.0 1577.1,445.1 1580.8,446.1 1584.4,447.1 1588.0,448.1 1591.7,449.0 1595.3,449.9 1598.9,450.8 1602.6,451.7 1606.2,452.5 1609.8,453.4 1613.5,454.1 1617.1,454.9 1620.7,455.6 1624.4,456.3 1628.0,457.0 1631.6,457.7 1635.3,458.4 1638.9,459.0 1642.5,459.7 1646.2,460.3 1649.8,460.9 1653.4,461.5 1657.1,462.1 1660.7,462.7 1664.3,463.3 1668.0,463.8 1671.6,464.4 1675.2,464.9 1678.9,465.4 1682.5,465.9 1686.1,466.4 1689.8,466.9 1693.4,467.4 1697.0,467.9 1700.7,468.3 1704.3,468.8 1707.9,469.2 1711.6,469.6 1715.2,470.0 1718.8,470.5 1722.5,470.9 1726.1,471.2 1729.7,471.6 1733.4,472.0 1737.0,472.4 1740.6,472.7 1744.3,473.1 1747.9,473.4 1751.5,473.7 1755.2,474.1 1758.8,474.4 1762.4,474.7 1766.1,475.0 1769.7,475.3 1773.3,475.6 1777.0,475.9 1780.6,476.1 1784.2,476.4 1787.9,476.7 1791.5,476.9 1795.1,477.2 1798.8,477.4 1802.4,477.6 1806.0,477.9 1809.7,478.1 1813.3,478.3 1816.9,478.5 1820.6,478.8 1824.2,479.0 1827.8,479.2 1831.5,479.4 1835.1,479.6 1838.7,479.8 1842.4,480.0 1846.0,480.2 1849.6,480.4 1853.3,480.6 1856.9,480.8 1860.5,481.0 1864.2,481.2 1867.8,481.4 1871.4,481.5 1875.1,481.7 1878.7,481.9 1882.3,482.1 1886.0,482.2 1889.6,482.4 1893.2,482.6 1896.9,482.7 1900.5,482.9 1904.1,483.0 1907.8,483.2 1911.4,483.3 1915.0,483.5 1918.7,483.6 1922.3,483.8 1925.9,483.9 1929.6,484.1 1933.2,484.2 1936.8,484.3 1940.5,484.5 1944.1,484.6 1947.7,484.7 1951.4,484.8 1955.0,485.0 1958.6,485.1 1962.3,485.2 1965.9,485.3 1969.5,485.4 1973.2,485.5 1976.8,485.6 1980.4,485.8 1984.1,485.9 1987.7,486.0 1991.3,486.1 1995.0,486.1 1998.6,486.2 2002.2,486.3 2005.9,486.4 2009.5,486.5 2013.1,486.6 2016.8,486.7 2020.4,486.8 2024.0,486.8 2027.7,486.9 2031.3,487.0 2034.9,487.1 2038.6,487.1 2042.2,487.2 2045.8,487.3 2049.5,487.3 2053.1,487.4 2056.7,487.5 2060.4,487.5 2064.0,487.6 2067.6,487.6 2071.3,487.7 2074.9,487.7 2078.5,487.8 2082.2,487.8 2085.8,487.9 2089.4,487.9 2093.1,488.0 2096.7,488.0 2100.3,488.0 2104.0,488.1" stroke="#000" stroke-width="6.3" stroke-dasharray="6.3 10.4" stroke-linecap="butt"/>
<polyline points="1235.6,34.0 1256.8,94.1 1278.0,155.9 1299.1,204.5 1320.3,241.1 1341.5,274.4 1362.7,305.0 1383.9,332.1 1405.0,356.4 1426.2,372.6 1447.4,389.4 1468.6,400.7 1489.8,411.4 1510.9,425.0 1532.1,429.1 1553.3,439.2 1574.5,446.2 1595.7,450.8 1616.8,454.8 1638.0,457.8 1659.2,458.8 1680.4,467.9 1701.6,469.1 1722.7,470.5 1743.9,473.9 1765.1,477.5 1786.3,477.0 1807.5,478.1 1828.6,478.8 1849.8,481.1 1871.0,479.7 1892.2,482.3 1913.4,482.4 1934.5,485.7 1955.7,488.6 1976.9,484.6 1998.1,485.8 2019.3,485.8 2040.4,487.0 2061.6,488.0 2082.8,488.2 2104.0,486.6" stroke="#f5af2d" stroke-opacity="0.50" stroke-width="5.6" stroke-linejoin="round" stroke-linecap="square"/>
<polyline points="1235.6,28.0 1239.2,39.8 1242.9,51.5 1246.5,63.0 1250.1,74.3 1253.8,85.4 1257.4,96.3 1261.0,107.1 1264.7,117.7 1268.3,128.4 1271.9,138.9 1275.6,149.2 1279.2,159.2 1282.8,168.7 1286.5,177.6 1290.1,185.9 1293.7,193.6 1297.4,201.0 1301.0,207.9 1304.6,214.6 1308.3,221.1 1311.9,227.3 1315.5,233.5 1319.2,239.7 1322.8,245.8 1326.4,251.8 1330.1,257.6 1333.7,263.4 1337.3,269.0 1341.0,274.5 1344.6,279.9 1348.2,285.2 1351.9,290.4 1355.5,295.5 1359.1,300.5 1362.8,305.4 1366.4,310.3 1370.0,315.1 1373.7,319.8 1377.3,324.4 1380.9,328.9 1384.6,333.2 1388.2,337.4 1391.8,341.4 1395.5,345.3 1399.1,349.0 1402.7,352.6 1406.4,356.1 1410.0,359.5 1413.6,362.8 1417.3,365.9 1420.9,369.0 1424.5,372.0 1428.2,374.9 1431.8,377.8 1435.4,380.5 1439.1,383.2 1442.7,385.8 1446.3,388.3 1450.0,390.7 1453.6,393.1 1457.2,395.4 1460.9,397.6 1464.5,399.8 1468.1,401.9 1471.8,403.9 1475.4,405.9 1479.0,407.8 1482.7,409.7 1486.3,411.5 1489.9,413.3 1493.6,415.0 1497.2,416.7 1500.8,418.3 1504.5,419.9 1508.1,421.5 1511.7,423.0 1515.4,424.5 1519.0,426.0 1522.6,427.4 1526.3,428.8 1529.9,430.1 1533.5,431.5 1537.2,432.8 1540.8,434.0 1544.4,435.3 1548.1,436.5 1551.7,437.7 1555.3,438.9 1559.0,440.1 1562.6,441.2 1566.2,442.4 1569.9,443.4 1573.5,444.5 1577.1,445.6 1580.8,446.6 1584.4,447.6 1588.0,448.5 1591.7,449.5 1595.3,450.4 1598.9,451.2 1602.6,452.1 1606.2,452.9 1609.8,453.7 1613.5,454.5 1617.1,455.2 1620.7,456.0 1624.4,456.7 1628.0,457.3 1631.6,458.0 1635.3,458.7 1638.9,459.3 1642.5,460.0 1646.2,460.6 1649.8,461.2 1653.4,461.8 1657.1,462.4 1660.7,463.0 1664.3,463.5 1668.0,464.1 1671.6,464.6 1675.2,465.1 1678.9,465.7 1682.5,466.2 1686.1,466.6 1689.8,467.1 1693.4,467.6 1697.0,468.1 1700.7,468.5 1704.3,469.0 1707.9,469.4 1711.6,469.8 1715.2,470.2 1718.8,470.6 1722.5,471.0 1726.1,471.4 1729.7,471.8 1733.4,472.2 1737.0,472.5 1740.6,472.9 1744.3,473.2 1747.9,473.6 1751.5,473.9 1755.2,474.2 1758.8,474.5 1762.4,474.8 1766.1,475.1 1769.7,475.4 1773.3,475.7 1777.0,476.0 1780.6,476.3 1784.2,476.5 1787.9,476.8 1791.5,477.0 1795.1,477.3 1798.8,477.5 1802.4,477.7 1806.0,478.0 1809.7,478.2 1813.3,478.4 1816.9,478.6 1820.6,478.9 1824.2,479.1 1827.8,479.3 1831.5,479.5 1835.1,479.7 1838.7,479.9 1842.4,480.1 1846.0,480.3 1849.6,480.5 1853.3,480.7 1856.9,480.9 1860.5,481.1 1864.2,481.3 1867.8,481.4 1871.4,481.6 1875.1,481.8 1878.7,482.0 1882.3,482.1 1886.0,482.3 1889.6,482.5 1893.2,482.6 1896.9,482.8 1900.5,483.0 1904.1,483.1 1907.8,483.3 1911.4,483.4 1915.0,483.6 1918.7,483.7 1922.3,483.9 1925.9,484.0 1929.6,484.1 1933.2,484.3 1936.8,484.4 1940.5,484.5 1944.1,484.7 1947.7,484.8 1951.4,484.9 1955.0,485.0 1958.6,485.1 1962.3,485.3 1965.9,485.4 1969.5,485.5 1973.2,485.6 1976.8,485.7 1980.4,485.8 1984.1,485.9 1987.7,486.0 1991.3,486.1 1995.0,486.2 1998.6,486.3 2002.2,486.4 2005.9,486.5 2009.5,486.6 2013.1,486.6 2016.8,486.7 2020.4,486.8 2024.0,486.9 2027.7,487.0 2031.3,487.0 2034.9,487.1 2038.6,487.2 2042.2,487.2 2045.8,487.3 2049.5,487.4 2053.1,487.4 2056.7,487.5 2060.4,487.5 2064.0,487.6 2067.6,487.7 2071.3,487.7 2074.9,487.8 2078.5,487.8 2082.2,487.8 2085.8,487.9 2089.4,487.9 2093.1,488.0 2096.7,488.0 2100.3,488.0 2104.0,488.1" stroke="#000" stroke-width="6.3" stroke-dasharray="6.3 10.4" stroke-linecap="butt"/>
<polyline points="1235.6,34.0 1256.8,97.3 1278.0,157.2 1299.1,209.3 1320.3,247.5 1341.5,279.2 1362.7,307.8 1383.9,334.2 1405.0,355.6 1426.2,374.5 1447.4,390.4 1468.6,401.8 1489.8,412.6 1510.9,422.7 1532.1,431.9 1553.3,438.5 1574.5,444.4 1595.7,452.1 1616.8,455.7 1638.0,460.9 1659.2,460.2 1680.4,464.9 1701.6,468.8 1722.7,469.7 1743.9,473.0 1765.1,475.8 1786.3,476.6 1807.5,478.2 1828.6,474.3 1849.8,481.9 1871.0,485.5 1892.2,481.5 1913.4,485.3 1934.5,486.3 1955.7,483.2 1976.9,486.9 1998.1,488.1 2019.3,486.7 2040.4,489.0 2061.6,486.5 2082.8,489.0 2104.0,488.0" stroke="#e1f519" stroke-opacity="0.50" stroke-width="5.6" stroke-linejoin="round" stroke-linecap="square"/>
<polyline points="1235.6,32.1 1239.2,43.9 1242.9,55.5 1246.5,67.0 1250.1,78.2 1253.8,89.2 1257.4,100.1 1261.0,110.8 1264.7,121.5 1268.3,132.1 1271.9,142.6 1275.6,152.8 1279.2,162.6 1282.8,171.9 1286.5,180.6 1290.1,188.7 1293.7,196.2 1297.4,203.4 1301.0,210.3 1304.6,216.9 1308.3,223.3 1311.9,229.5 1315.5,235.7 1319.2,241.8 1322.8,247.9 1326.4,253.8 1330.1,259.6 1333.7,265.4 1337.3,270.9 1341.0,276.4 1344.6,281.8 1348.2,287.0 1351.9,292.2 1355.5,297.2 1359.1,302.2 1362.8,307.1 1366.4,312.0 1370.0,316.7 1373.7,321.4 1377.3,326.0 1380.9,330.4 1384.6,334.7 1388.2,338.8 1391.8,342.8 1395.5,346.6 1399.1,350.3 1402.7,353.9 1406.4,357.3 1410.0,360.6 1413.6,363.9 1417.3,367.0 1420.9,370.1 1424.5,373.1 1428.2,375.9 1431.8,378.7 1435.4,381.5 1439.1,384.1 1442.7,386.6 1446.3,389.1 1450.0,391.5 1453.6,393.9 1457.2,396.2 1460.9,398.4 1464.5,400.5 1468.1,402.6 1471.8,404.6 1475.4,406.6 1479.0,408.5 1482.7,410.3 1486.3,412.1 1489.9,413.9 1493.6,415.6 1497.2,417.3 1500.8,418.9 1504.5,420.5 1508.1,422.0 1511.7,423.5 1515.4,425.0 1519.0,426.5 1522.6,427.9 1526.3,429.3 1529.9,430.6 1533.5,431.9 1537.2,433.2 1540.8,434.5 1544.4,435.7 1548.1,437.0 1551.7,438.2 1555.3,439.3 1559.0,440.5 1562.6,441.6 1566.2,442.7 1569.9,443.8 1573.5,444.9 1577.1,445.9 1580.8,446.9 1584.4,447.9 1588.0,448.8 1591.7,449.8 1595.3,450.7 1598.9,451.5 1602.6,452.4 1606.2,453.2 1609.8,454.0 1613.5,454.8 1617.1,455.5 1620.7,456.2 1624.4,456.9 1628.0,457.6 1631.6,458.3 1635.3,458.9 1638.9,459.6 1642.5,460.2 1646.2,460.8 1649.8,461.4 1653.4,462.0 1657.1,462.6 1660.7,463.2 1664.3,463.7 1668.0,464.3 1671.6,464.8 1675.2,465.3 1678.9,465.8 1682.5,466.3 1686.1,466.8 1689.8,467.3 1693.4,467.8 1697.0,468.2 1700.7,468.7 1704.3,469.1 1707.9,469.5 1711.6,470.0 1715.2,470.4 1718.8,470.8 1722.5,471.2 1726.1,471.6 1729.7,471.9 1733.4,472.3 1737.0,472.7 1740.6,473.0 1744.3,473.4 1747.9,473.7 1751.5,474.0 1755.2,474.3 1758.8,474.6 1762.4,474.9 1766.1,475.2 1769.7,475.5 1773.3,475.8 1777.0,476.1 1780.6,476.4 1784.2,476.6 1787.9,476.9 1791.5,477.1 1795.1,477.4 1798.8,477.6 1802.4,477.8 1806.0,478.1 1809.7,478.3 1813.3,478.5 1816.9,478.7 1820.6,478.9 1824.2,479.2 1827.8,479.4 1831.5,479.6 1835.1,479.8 1838.7,480.0 1842.4,480.2 1846.0,480.4 1849.6,480.6 1853.3,480.8 1856.9,481.0 1860.5,481.1 1864.2,481.3 1867.8,481.5 1871.4,481.7 1875.1,481.9 1878.7,482.0 1882.3,482.2 1886.0,482.4 1889.6,482.5 1893.2,482.7 1896.9,482.9 1900.5,483.0 1904.1,483.2 1907.8,483.3 1911.4,483.5 1915.0,483.6 1918.7,483.8 1922.3,483.9 1925.9,484.0 1929.6,484.2 1933.2,484.3 1936.8,484.4 1940.5,484.6 1944.1,484.7 1947.7,484.8 1951.4,484.9 1955.0,485.1 1958.6,485.2 1962.3,485.3 1965.9,485.4 1969.5,485.5 1973.2,485.6 1976.8,485.7 1980.4,485.8 1984.1,485.9 1987.7,486.0 1991.3,486.1 1995.0,486.2 1998.6,486.3 2002.2,486.4 2005.9,486.5 2009.5,486.6 2013.1,486.7 2016.8,486.7 2020.4,486.8 2024.0,486.9 2027.7,487.0 2031.3,487.1 2034.9,487.1 2038.6,487.2 2042.2,487.3 2045.8,487.3 2049.5,487.4 2053.1,487.4 2056.7,487.5 2060.4,487.6 2064.0,487.6 2067.6,487.7 2071.3,487.7 2074.9,487.8 2078.5,487.8 2082.2,487.9 2085.8,487.9 2089.4,487.9 2093.1,488.0 2096.7,488.0 2100.3,488.1 2104.0,488.1" stroke="#000" stroke-width="6.3" stroke-dasharray="6.3 10.4" stroke-linecap="butt"/>
</g>
<rect x="1193.4" y="1.6" width="889.0" height="524.1" fill="none" stroke="#000" stroke-width="2.3"/>
<line x1="1178.8" y1="498.0" x2="1193.4" y2="498.0" stroke="#000" stroke-width="2.8"/>
<text x="1164.0" y="507.0" text-anchor="end" font-family="'Liberation Sans', Arial, Helvetica, sans-serif" font-size="25">0.0</text>
<line x1="1178.8" y1="266.0" x2="1193.4" y2="266.0" stroke="#000" stroke-width="2.8"/>
<text x="1164.0" y="275.0" text-anchor="end" font-family="'Liberation Sans', Arial, Helvetica, sans-serif" font-size="25">0.5</text>
<line x1="1178.8" y1="34.0" x2="1193.4" y2="34.0" stroke="#000" stroke-width="2.8"/>
<text x="1164.0" y="43.0" text-anchor="end" font-family="'Liberation Sans', Arial, Helvetica, sans-serif" font-size="25">1.0</text>
<line x1="1235.6" y1="525.7" x2="1235.6" y2="540.4" stroke="#000" stroke-width="2.8"/>
<line x1="1659.2" y1="525.7" x2="1659.2" y2="540.4" stroke="#000" stroke-width="2.8"/>
<line x1="2082.8" y1="525.7" x2="2082.8" y2="540.4" stroke="#000" stroke-width="2.8"/>
<text transform="translate(1107.3,263.2) rotate(-90)" text-anchor="middle" font-family="'Liberation Sans', Arial, Helvetica, sans-serif" font-size="25">Normalized intensity</text>
<text x="1062.8" y="33.2" font-family="'Liberation Sans', Arial, Helvetica, sans-serif" font-weight="bold" font-size="34.8">e</text>
<text x="1246.6" y="486.5" font-family="'Liberation Sans', Arial, Helvetica, sans-serif" font-size="30">120K</text>
<rect x="1779.9" y="14.4" width="289.8" height="132.3" rx="5" ry="5" fill="#fff" fill-opacity="0.8" stroke="#d4d4d4" stroke-width="3.6"/>
<line x1="1786.6" y1="39.2" x2="1842.9" y2="39.2" stroke="#5102a1" stroke-opacity="0.50" stroke-width="5.6"/>
<text x="1859.4" y="46.1" font-family="'DejaVu Sans', sans-serif" font-size="25.2">1.5</text>
<text x="1903.9" y="46.1" font-family="'DejaVu Sans', sans-serif" font-size="25.2">×</text>
<text x="1929.4" y="46.1" font-family="'DejaVu Sans', sans-serif" font-size="25.2">10</text>
<text x="1961.9" y="36.5" font-family="'DejaVu Sans', sans-serif" font-size="17.3">14</text>
<text x="1992.4" y="46.1" font-family="'DejaVu Sans', sans-serif" font-size="25.2" font-style="oblique">cm</text>
<text x="2031.2" y="36.5" font-family="'DejaVu Sans', sans-serif" font-size="17.3">−3</text>
<line x1="1786.6" y1="81.0" x2="1842.9" y2="81.0" stroke="#f5af2d" stroke-opacity="0.50" stroke-width="5.6"/>
<text x="1859.4" y="87.9" font-family="'DejaVu Sans', sans-serif" font-size="25.2">5.2</text>
<text x="1903.9" y="87.9" font-family="'DejaVu Sans', sans-serif" font-size="25.2">×</text>
<text x="1929.4" y="87.9" font-family="'DejaVu Sans', sans-serif" font-size="25.2">10</text>
<text x="1961.9" y="78.3" font-family="'DejaVu Sans', sans-serif" font-size="17.3">15</text>
<text x="1992.4" y="87.9" font-family="'DejaVu Sans', sans-serif" font-size="25.2" font-style="oblique">cm</text>
<text x="2031.2" y="78.3" font-family="'DejaVu Sans', sans-serif" font-size="17.3">−3</text>
<line x1="1786.6" y1="122.8" x2="1842.9" y2="122.8" stroke="#e1f519" stroke-opacity="0.50" stroke-width="5.6"/>
<text x="1859.4" y="129.7" font-family="'DejaVu Sans', sans-serif" font-size="25.2">1.8</text>
<text x="1903.9" y="129.7" font-family="'DejaVu Sans', sans-serif" font-size="25.2">×</text>
<text x="1929.4" y="129.7" font-family="'DejaVu Sans', sans-serif" font-size="25.2">10</text>
<text x="1961.9" y="120.1" font-family="'DejaVu Sans', sans-serif" font-size="17.3">16</text>
<text x="1992.4" y="129.7" font-family="'DejaVu Sans', sans-serif" font-size="25.2" font-style="oblique">cm</text>
<text x="2031.2" y="120.1" font-family="'DejaVu Sans', sans-serif" font-size="17.3">−3</text>
<g clip-path="url(#clipf)" fill="none">
<polyline points="1235.6,606.3 1256.8,652.8 1278.0,689.5 1299.1,735.5 1320.3,773.8 1341.5,800.4 1362.7,828.5 1383.9,856.8 1405.0,875.5 1426.2,884.8 1447.4,912.5 1468.6,924.9 1489.8,932.9 1510.9,946.3 1532.1,955.3 1553.3,967.6 1574.5,979.9 1595.7,986.3 1616.8,995.2 1638.0,997.6 1659.2,1004.1 1680.4,1014.2 1701.6,1014.0 1722.7,1021.9 1743.9,1023.3 1765.1,1028.5 1786.3,1030.5 1807.5,1041.7 1828.6,1035.8 1849.8,1043.6 1871.0,1038.6 1892.2,1047.4 1913.4,1047.4 1934.5,1049.7 1955.7,1048.5 1976.9,1047.7 1998.1,1051.3 2019.3,1053.0 2040.4,1053.4 2061.6,1054.9 2082.8,1055.0 2104.0,1057.7" stroke="#5102a1" stroke-opacity="0.50" stroke-width="5.6" stroke-linejoin="round" stroke-linecap="square"/>
<polyline points="1235.6,603.9 1239.2,612.1 1242.9,620.1 1246.5,628.0 1250.1,635.8 1253.8,643.5 1257.4,651.1 1261.0,658.6 1264.7,666.0 1268.3,673.3 1271.9,680.5 1275.6,687.6 1279.2,694.6 1282.8,701.6 1286.5,708.5 1290.1,715.2 1293.7,721.9 1297.4,728.4 1301.0,734.8 1304.6,741.1 1308.3,747.3 1311.9,753.4 1315.5,759.3 1319.2,765.2 1322.8,771.0 1326.4,776.7 1330.1,782.3 1333.7,787.8 1337.3,793.2 1341.0,798.5 1344.6,803.6 1348.2,808.6 1351.9,813.4 1355.5,818.0 1359.1,822.5 1362.8,826.8 1366.4,831.0 1370.0,835.0 1373.7,838.9 1377.3,842.7 1380.9,846.4 1384.6,850.1 1388.2,853.7 1391.8,857.2 1395.5,860.7 1399.1,864.1 1402.7,867.5 1406.4,870.9 1410.0,874.3 1413.6,877.7 1417.3,881.1 1420.9,884.6 1424.5,888.0 1428.2,891.5 1431.8,894.9 1435.4,898.2 1439.1,901.3 1442.7,904.2 1446.3,907.1 1450.0,909.8 1453.6,912.5 1457.2,915.0 1460.9,917.6 1464.5,920.0 1468.1,922.4 1471.8,924.8 1475.4,927.1 1479.0,929.4 1482.7,931.6 1486.3,933.8 1489.9,936.0 1493.6,938.2 1497.2,940.3 1500.8,942.5 1504.5,944.6 1508.1,946.7 1511.7,948.8 1515.4,950.8 1519.0,952.8 1522.6,954.8 1526.3,956.7 1529.9,958.6 1533.5,960.5 1537.2,962.3 1540.8,964.1 1544.4,965.9 1548.1,967.6 1551.7,969.2 1555.3,970.8 1559.0,972.4 1562.6,973.9 1566.2,975.5 1569.9,976.9 1573.5,978.4 1577.1,979.8 1580.8,981.2 1584.4,982.6 1588.0,983.9 1591.7,985.2 1595.3,986.5 1598.9,987.8 1602.6,989.0 1606.2,990.2 1609.8,991.4 1613.5,992.6 1617.1,993.7 1620.7,994.9 1624.4,996.0 1628.0,997.0 1631.6,998.1 1635.3,999.1 1638.9,1000.2 1642.5,1001.2 1646.2,1002.2 1649.8,1003.1 1653.4,1004.1 1657.1,1005.0 1660.7,1005.9 1664.3,1006.9 1668.0,1007.7 1671.6,1008.6 1675.2,1009.5 1678.9,1010.4 1682.5,1011.2 1686.1,1012.0 1689.8,1012.8 1693.4,1013.6 1697.0,1014.4 1700.7,1015.2 1704.3,1015.9 1707.9,1016.7 1711.6,1017.4 1715.2,1018.1 1718.8,1018.8 1722.5,1019.5 1726.1,1020.2 1729.7,1020.9 1733.4,1021.6 1737.0,1022.3 1740.6,1022.9 1744.3,1023.6 1747.9,1024.3 1751.5,1024.9 1755.2,1025.6 1758.8,1026.3 1762.4,1027.0 1766.1,1027.6 1769.7,1028.3 1773.3,1029.0 1777.0,1029.7 1780.6,1030.3 1784.2,1031.0 1787.9,1031.6 1791.5,1032.1 1795.1,1032.7 1798.8,1033.2 1802.4,1033.7 1806.0,1034.1 1809.7,1034.6 1813.3,1035.1 1816.9,1035.6 1820.6,1036.0 1824.2,1036.5 1827.8,1037.0 1831.5,1037.4 1835.1,1037.9 1838.7,1038.3 1842.4,1038.7 1846.0,1039.1 1849.6,1039.6 1853.3,1040.0 1856.9,1040.4 1860.5,1040.8 1864.2,1041.2 1867.8,1041.6 1871.4,1042.0 1875.1,1042.3 1878.7,1042.7 1882.3,1043.1 1886.0,1043.4 1889.6,1043.8 1893.2,1044.1 1896.9,1044.5 1900.5,1044.8 1904.1,1045.1 1907.8,1045.5 1911.4,1045.8 1915.0,1046.1 1918.7,1046.4 1922.3,1046.7 1925.9,1047.0 1929.6,1047.3 1933.2,1047.6 1936.8,1047.9 1940.5,1048.2 1944.1,1048.4 1947.7,1048.7 1951.4,1049.0 1955.0,1049.2 1958.6,1049.5 1962.3,1049.7 1965.9,1050.0 1969.5,1050.2 1973.2,1050.4 1976.8,1050.7 1980.4,1050.9 1984.1,1051.1 1987.7,1051.3 1991.3,1051.5 1995.0,1051.7 1998.6,1051.9 2002.2,1052.1 2005.9,1052.3 2009.5,1052.5 2013.1,1052.6 2016.8,1052.8 2020.4,1053.0 2024.0,1053.2 2027.7,1053.3 2031.3,1053.5 2034.9,1053.6 2038.6,1053.8 2042.2,1053.9 2045.8,1054.0 2049.5,1054.2 2053.1,1054.3 2056.7,1054.4 2060.4,1054.6 2064.0,1054.7 2067.6,1054.8 2071.3,1054.9 2074.9,1055.0 2078.5,1055.1 2082.2,1055.2 2085.8,1055.3 2089.4,1055.4 2093.1,1055.4 2096.7,1055.5 2100.3,1055.6 2104.0,1055.7" stroke="#000" stroke-width="6.3" stroke-dasharray="6.3 10.4" stroke-linecap="butt"/>
<polyline points="1235.6,606.3 1256.8,645.6 1278.0,684.8 1299.1,722.0 1320.3,756.4 1341.5,786.4 1362.7,813.4 1383.9,839.1 1405.0,859.5 1426.2,879.9 1447.4,901.3 1468.6,917.0 1489.8,929.3 1510.9,946.3 1532.1,957.1 1553.3,966.9 1574.5,977.2 1595.7,984.8 1616.8,991.0 1638.0,999.2 1659.2,999.3 1680.4,1008.4 1701.6,1012.4 1722.7,1017.1 1743.9,1023.8 1765.1,1024.8 1786.3,1030.1 1807.5,1031.1 1828.6,1034.5 1849.8,1037.0 1871.0,1041.1 1892.2,1043.0 1913.4,1044.5 1934.5,1045.5 1955.7,1047.1 1976.9,1047.0 1998.1,1050.4 2019.3,1050.5 2040.4,1049.8 2061.6,1053.1 2082.8,1050.3 2104.0,1053.9" stroke="#f5af2d" stroke-opacity="0.50" stroke-width="5.6" stroke-linejoin="round" stroke-linecap="square"/>
<polyline points="1235.6,603.9 1239.2,612.1 1242.9,620.1 1246.5,628.0 1250.1,635.8 1253.8,643.5 1257.4,651.1 1261.0,658.6 1264.7,666.0 1268.3,673.3 1271.9,680.5 1275.6,687.6 1279.2,694.6 1282.8,701.6 1286.5,708.5 1290.1,715.2 1293.7,721.9 1297.4,728.4 1301.0,734.8 1304.6,741.1 1308.3,747.3 1311.9,753.4 1315.5,759.3 1319.2,765.2 1322.8,771.0 1326.4,776.7 1330.1,782.3 1333.7,787.8 1337.3,793.2 1341.0,798.5 1344.6,803.6 1348.2,808.6 1351.9,813.4 1355.5,818.0 1359.1,822.5 1362.8,826.8 1366.4,831.0 1370.0,835.0 1373.7,838.9 1377.3,842.7 1380.9,846.4 1384.6,850.1 1388.2,853.7 1391.8,857.2 1395.5,860.7 1399.1,864.1 1402.7,867.5 1406.4,870.9 1410.0,874.3 1413.6,877.7 1417.3,881.1 1420.9,884.6 1424.5,888.0 1428.2,891.5 1431.8,894.9 1435.4,898.2 1439.1,901.3 1442.7,904.2 1446.3,907.1 1450.0,909.8 1453.6,912.5 1457.2,915.0 1460.9,917.6 1464.5,920.0 1468.1,922.4 1471.8,924.8 1475.4,927.1 1479.0,929.4 1482.7,931.6 1486.3,933.8 1489.9,936.0 1493.6,938.2 1497.2,940.3 1500.8,942.5 1504.5,944.6 1508.1,946.7 1511.7,948.8 1515.4,950.8 1519.0,952.8 1522.6,954.8 1526.3,956.7 1529.9,958.6 1533.5,960.5 1537.2,962.3 1540.8,964.1 1544.4,965.9 1548.1,967.6 1551.7,969.2 1555.3,970.8 1559.0,972.4 1562.6,973.9 1566.2,975.5 1569.9,976.9 1573.5,978.4 1577.1,979.8 1580.8,981.2 1584.4,982.6 1588.0,983.9 1591.7,985.2 1595.3,986.5 1598.9,987.8 1602.6,989.0 1606.2,990.2 1609.8,991.4 1613.5,992.6 1617.1,993.7 1620.7,994.9 1624.4,996.0 1628.0,997.0 1631.6,998.1 1635.3,999.1 1638.9,1000.2 1642.5,1001.2 1646.2,1002.2 1649.8,1003.1 1653.4,1004.1 1657.1,1005.0 1660.7,1005.9 1664.3,1006.9 1668.0,1007.7 1671.6,1008.6 1675.2,1009.5 1678.9,1010.4 1682.5,1011.2 1686.1,1012.0 1689.8,1012.8 1693.4,1013.6 1697.0,1014.4 1700.7,1015.2 1704.3,1015.9 1707.9,1016.7 1711.6,1017.4 1715.2,1018.1 1718.8,1018.8 1722.5,1019.5 1726.1,1020.2 1729.7,1020.9 1733.4,1021.6 1737.0,1022.3 1740.6,1022.9 1744.3,1023.6 1747.9,1024.3 1751.5,1024.9 1755.2,1025.6 1758.8,1026.3 1762.4,1027.0 1766.1,1027.6 1769.7,1028.3 1773.3,1029.0 1777.0,1029.7 1780.6,1030.3 1784.2,1031.0 1787.9,1031.6 1791.5,1032.1 1795.1,1032.7 1798.8,1033.2 1802.4,1033.7 1806.0,1034.1 1809.7,1034.6 1813.3,1035.1 1816.9,1035.6 1820.6,1036.0 1824.2,1036.5 1827.8,1037.0 1831.5,1037.4 1835.1,1037.9 1838.7,1038.3 1842.4,1038.7 1846.0,1039.1 1849.6,1039.6 1853.3,1040.0 1856.9,1040.4 1860.5,1040.8 1864.2,1041.2 1867.8,1041.6 1871.4,1042.0 1875.1,1042.3 1878.7,1042.7 1882.3,1043.1 1886.0,1043.4 1889.6,1043.8 1893.2,1044.1 1896.9,1044.5 1900.5,1044.8 1904.1,1045.1 1907.8,1045.5 1911.4,1045.8 1915.0,1046.1 1918.7,1046.4 1922.3,1046.7 1925.9,1047.0 1929.6,1047.3 1933.2,1047.6 1936.8,1047.9 1940.5,1048.2 1944.1,1048.4 1947.7,1048.7 1951.4,1049.0 1955.0,1049.2 1958.6,1049.5 1962.3,1049.7 1965.9,1050.0 1969.5,1050.2 1973.2,1050.4 1976.8,1050.7 1980.4,1050.9 1984.1,1051.1 1987.7,1051.3 1991.3,1051.5 1995.0,1051.7 1998.6,1051.9 2002.2,1052.1 2005.9,1052.3 2009.5,1052.5 2013.1,1052.6 2016.8,1052.8 2020.4,1053.0 2024.0,1053.2 2027.7,1053.3 2031.3,1053.5 2034.9,1053.6 2038.6,1053.8 2042.2,1053.9 2045.8,1054.0 2049.5,1054.2 2053.1,1054.3 2056.7,1054.4 2060.4,1054.6 2064.0,1054.7 2067.6,1054.8 2071.3,1054.9 2074.9,1055.0 2078.5,1055.1 2082.2,1055.2 2085.8,1055.3 2089.4,1055.4 2093.1,1055.4 2096.7,1055.5 2100.3,1055.6 2104.0,1055.7" stroke="#000" stroke-width="6.3" stroke-dasharray="6.3 10.4" stroke-linecap="butt"/>
<polyline points="1235.6,606.3 1256.8,649.9 1278.0,735.9 1299.1,785.1 1320.3,823.2 1341.5,855.5 1362.7,883.5 1383.9,910.5 1405.0,931.4 1426.2,946.6 1447.4,961.7 1468.6,974.8 1489.8,988.5 1510.9,1000.1 1532.1,1007.4 1553.3,1014.8 1574.5,1020.1 1595.7,1027.1 1616.8,1031.5 1638.0,1035.9 1659.2,1038.2 1680.4,1042.8 1701.6,1046.0 1722.7,1047.8 1743.9,1049.3 1765.1,1050.1 1786.3,1052.8 1807.5,1051.7 1828.6,1053.4 1849.8,1054.6 1871.0,1055.4 1892.2,1057.0 1913.4,1058.9 1934.5,1058.8 1955.7,1059.8 1976.9,1058.8 1998.1,1061.3 2019.3,1060.7 2040.4,1061.1 2061.6,1063.6 2082.8,1062.8 2104.0,1062.7" stroke="#e1f519" stroke-opacity="0.50" stroke-width="5.6" stroke-linejoin="round" stroke-linecap="square"/>
<polyline points="1235.6,603.9 1239.2,608.9 1242.9,615.4 1246.5,623.2 1250.1,631.9 1253.8,641.5 1257.4,653.9 1261.0,668.3 1264.7,683.7 1268.3,698.9 1271.9,713.3 1275.6,726.0 1279.2,736.7 1282.8,746.4 1286.5,755.5 1290.1,764.0 1293.7,772.0 1297.4,779.7 1301.0,787.0 1304.6,794.1 1308.3,800.9 1311.9,807.6 1315.5,814.0 1319.2,820.2 1322.8,826.1 1326.4,831.8 1330.1,837.3 1333.7,842.6 1337.3,847.8 1341.0,852.9 1344.6,857.8 1348.2,862.7 1351.9,867.4 1355.5,872.1 1359.1,876.7 1362.8,881.3 1366.4,885.9 1370.0,890.3 1373.7,894.7 1377.3,899.0 1380.9,903.2 1384.6,907.2 1388.2,911.2 1391.8,915.0 1395.5,918.6 1399.1,922.1 1402.7,925.5 1406.4,928.7 1410.0,931.7 1413.6,934.6 1417.3,937.3 1420.9,939.8 1424.5,942.2 1428.2,944.5 1431.8,946.7 1435.4,948.9 1439.1,951.1 1442.7,953.4 1446.3,955.7 1450.0,957.9 1453.6,960.2 1457.2,962.4 1460.9,964.6 1464.5,966.7 1468.1,968.9 1471.8,970.9 1475.4,973.0 1479.0,974.9 1482.7,976.8 1486.3,978.7 1489.9,980.5 1493.6,982.3 1497.2,984.1 1500.8,985.8 1504.5,987.4 1508.1,989.1 1511.7,990.7 1515.4,992.2 1519.0,993.8 1522.6,995.2 1526.3,996.7 1529.9,998.0 1533.5,999.4 1537.2,1000.7 1540.8,1002.0 1544.4,1003.2 1548.1,1004.5 1551.7,1005.6 1555.3,1006.8 1559.0,1007.9 1562.6,1009.0 1566.2,1010.1 1569.9,1011.2 1573.5,1012.2 1577.1,1013.2 1580.8,1014.2 1584.4,1015.1 1588.0,1016.1 1591.7,1017.0 1595.3,1017.9 1598.9,1018.8 1602.6,1019.6 1606.2,1020.4 1609.8,1021.3 1613.5,1022.1 1617.1,1022.9 1620.7,1023.7 1624.4,1024.5 1628.0,1025.2 1631.6,1026.0 1635.3,1026.8 1638.9,1027.5 1642.5,1028.3 1646.2,1029.0 1649.8,1029.7 1653.4,1030.4 1657.1,1031.1 1660.7,1031.8 1664.3,1032.4 1668.0,1033.1 1671.6,1033.7 1675.2,1034.3 1678.9,1034.9 1682.5,1035.4 1686.1,1036.0 1689.8,1036.5 1693.4,1037.1 1697.0,1037.6 1700.7,1038.1 1704.3,1038.6 1707.9,1039.1 1711.6,1039.5 1715.2,1040.0 1718.8,1040.4 1722.5,1040.9 1726.1,1041.3 1729.7,1041.7 1733.4,1042.0 1737.0,1042.4 1740.6,1042.8 1744.3,1043.1 1747.9,1043.4 1751.5,1043.8 1755.2,1044.1 1758.8,1044.4 1762.4,1044.8 1766.1,1045.1 1769.7,1045.4 1773.3,1045.7 1777.0,1046.0 1780.6,1046.3 1784.2,1046.6 1787.9,1046.9 1791.5,1047.1 1795.1,1047.4 1798.8,1047.7 1802.4,1047.9 1806.0,1048.2 1809.7,1048.5 1813.3,1048.7 1816.9,1049.0 1820.6,1049.2 1824.2,1049.5 1827.8,1049.7 1831.5,1050.0 1835.1,1050.2 1838.7,1050.5 1842.4,1050.7 1846.0,1050.9 1849.6,1051.1 1853.3,1051.4 1856.9,1051.6 1860.5,1051.8 1864.2,1052.0 1867.8,1052.2 1871.4,1052.4 1875.1,1052.6 1878.7,1052.8 1882.3,1053.0 1886.0,1053.2 1889.6,1053.4 1893.2,1053.6 1896.9,1053.8 1900.5,1054.0 1904.1,1054.2 1907.8,1054.3 1911.4,1054.5 1915.0,1054.7 1918.7,1054.8 1922.3,1055.0 1925.9,1055.2 1929.6,1055.3 1933.2,1055.5 1936.8,1055.7 1940.5,1055.8 1944.1,1056.0 1947.7,1056.1 1951.4,1056.3 1955.0,1056.4 1958.6,1056.6 1962.3,1056.7 1965.9,1056.9 1969.5,1057.0 1973.2,1057.2 1976.8,1057.3 1980.4,1057.4 1984.1,1057.6 1987.7,1057.7 1991.3,1057.9 1995.0,1058.0 1998.6,1058.1 2002.2,1058.2 2005.9,1058.4 2009.5,1058.5 2013.1,1058.6 2016.8,1058.7 2020.4,1058.8 2024.0,1059.0 2027.7,1059.1 2031.3,1059.2 2034.9,1059.3 2038.6,1059.4 2042.2,1059.5 2045.8,1059.6 2049.5,1059.7 2053.1,1059.8 2056.7,1059.9 2060.4,1060.0 2064.0,1060.1 2067.6,1060.1 2071.3,1060.2 2074.9,1060.3 2078.5,1060.4 2082.2,1060.5 2085.8,1060.5 2089.4,1060.6 2093.1,1060.7 2096.7,1060.7 2100.3,1060.8 2104.0,1060.9" stroke="#000" stroke-width="6.3" stroke-dasharray="6.3 10.4" stroke-linecap="butt"/>
</g>
<rect x="1193.4" y="579.1" width="889.0" height="523.9" fill="none" stroke="#000" stroke-width="2.3"/>
<line x1="1178.8" y1="1077.2" x2="1193.4" y2="1077.2" stroke="#000" stroke-width="2.8"/>
<text x="1164.0" y="1086.2" text-anchor="end" font-family="'Liberation Sans', Arial, Helvetica, sans-serif" font-size="25">0.0</text>
<line x1="1178.8" y1="841.8" x2="1193.4" y2="841.8" stroke="#000" stroke-width="2.8"/>
<text x="1164.0" y="850.8" text-anchor="end" font-family="'Liberation Sans', Arial, Helvetica, sans-serif" font-size="25">0.5</text>
<line x1="1178.8" y1="606.3" x2="1193.4" y2="606.3" stroke="#000" stroke-width="2.8"/>
<text x="1164.0" y="615.3" text-anchor="end" font-family="'Liberation Sans', Arial, Helvetica, sans-serif" font-size="25">1.0</text>
<line x1="1235.6" y1="1103.0" x2="1235.6" y2="1117.7" stroke="#000" stroke-width="2.8"/>
<line x1="1659.2" y1="1103.0" x2="1659.2" y2="1117.7" stroke="#000" stroke-width="2.8"/>
<line x1="2082.8" y1="1103.0" x2="2082.8" y2="1117.7" stroke="#000" stroke-width="2.8"/>
<text transform="translate(1107.3,840.5) rotate(-90)" text-anchor="middle" font-family="'Liberation Sans', Arial, Helvetica, sans-serif" font-size="25">Normalized intensity</text>
<text x="1062.3" y="614.2" font-family="'Liberation Sans', Arial, Helvetica, sans-serif" font-weight="bold" font-size="34.8">f</text>
<text x="1243.5" y="1047.4" font-family="'Liberation Sans', Arial, Helvetica, sans-serif" font-size="30">180K</text>
<rect x="1779.9" y="591.9" width="289.8" height="132.3" rx="5" ry="5" fill="#fff" fill-opacity="0.8" stroke="#d4d4d4" stroke-width="3.6"/>
<line x1="1786.6" y1="616.7" x2="1842.9" y2="616.7" stroke="#5102a1" stroke-opacity="0.50" stroke-width="5.6"/>
<text x="1859.4" y="623.6" font-family="'DejaVu Sans', sans-serif" font-size="25.2">1.5</text>
<text x="1903.9" y="623.6" font-family="'DejaVu Sans', sans-serif" font-size="25.2">×</text>
<text x="1929.4" y="623.6" font-family="'DejaVu Sans', sans-serif" font-size="25.2">10</text>
<text x="1961.9" y="614.0" font-family="'DejaVu Sans', sans-serif" font-size="17.3">14</text>
<text x="1992.4" y="623.6" font-family="'DejaVu Sans', sans-serif" font-size="25.2" font-style="oblique">cm</text>
<text x="2031.2" y="614.0" font-family="'DejaVu Sans', sans-serif" font-size="17.3">−3</text>
<line x1="1786.6" y1="658.5" x2="1842.9" y2="658.5" stroke="#f5af2d" stroke-opacity="0.50" stroke-width="5.6"/>
<text x="1859.4" y="665.4" font-family="'DejaVu Sans', sans-serif" font-size="25.2">5.2</text>
<text x="1903.9" y="665.4" font-family="'DejaVu Sans', sans-serif" font-size="25.2">×</text>
<text x="1929.4" y="665.4" font-family="'DejaVu Sans', sans-serif" font-size="25.2">10</text>
<text x="1961.9" y="655.8" font-family="'DejaVu Sans', sans-serif" font-size="17.3">15</text>
<text x="1992.4" y="665.4" font-family="'DejaVu Sans', sans-serif" font-size="25.2" font-style="oblique">cm</text>
<text x="2031.2" y="655.8" font-family="'DejaVu Sans', sans-serif" font-size="17.3">−3</text>
<line x1="1786.6" y1="700.3" x2="1842.9" y2="700.3" stroke="#e1f519" stroke-opacity="0.50" stroke-width="5.6"/>
<text x="1859.4" y="707.2" font-family="'DejaVu Sans', sans-serif" font-size="25.2">1.8</text>
<text x="1903.9" y="707.2" font-family="'DejaVu Sans', sans-serif" font-size="25.2">×</text>
<text x="1929.4" y="707.2" font-family="'DejaVu Sans', sans-serif" font-size="25.2">10</text>
<text x="1961.9" y="697.6" font-family="'DejaVu Sans', sans-serif" font-size="17.3">16</text>
<text x="1992.4" y="707.2" font-family="'DejaVu Sans', sans-serif" font-size="25.2" font-style="oblique">cm</text>
<text x="2031.2" y="697.6" font-family="'DejaVu Sans', sans-serif" font-size="17.3">−3</text>
<g clip-path="url(#clipg)" fill="none">
<polyline points="1235.6,1197.7 1244.9,1204.9 1254.2,1235.2 1263.6,1264.0 1272.9,1280.8 1282.2,1310.1 1291.5,1330.4 1300.8,1370.1 1310.2,1386.0 1319.5,1403.3 1328.8,1405.1 1338.1,1422.7 1347.4,1450.5 1356.7,1460.8 1366.1,1477.6 1375.4,1491.3 1384.7,1496.3 1394.0,1510.8 1403.3,1507.9 1412.7,1524.3 1422.0,1523.9 1431.3,1540.7 1440.6,1553.5 1449.9,1556.0 1459.3,1548.0 1468.6,1565.3 1477.9,1555.6 1487.2,1568.8 1496.5,1575.3 1505.9,1588.3 1515.2,1583.0 1524.5,1591.8 1533.8,1582.6 1543.1,1586.3 1552.5,1591.2 1561.8,1606.6 1571.1,1592.9 1580.4,1596.0 1589.7,1601.2 1599.0,1610.3 1608.4,1605.2 1617.7,1616.6 1627.0,1608.6 1636.3,1619.8 1645.6,1609.4 1655.0,1624.3 1664.3,1607.2 1673.6,1629.7 1682.9,1615.3 1692.2,1624.0 1701.6,1629.2 1710.9,1629.2 1720.2,1624.5 1729.5,1627.8 1738.8,1620.2 1748.2,1630.0 1757.5,1623.4 1766.8,1636.7 1776.1,1627.6 1785.4,1626.2 1794.8,1637.8 1804.1,1637.9 1813.4,1628.7 1822.7,1638.3 1832.0,1627.3 1841.3,1627.2 1850.7,1625.7 1860.0,1627.0 1869.3,1642.6 1878.6,1642.7 1887.9,1644.6 1897.3,1641.3 1906.6,1629.5 1915.9,1640.9 1925.2,1628.9 1934.5,1641.1 1943.9,1645.0 1953.2,1628.0 1962.5,1629.1 1971.8,1638.0 1981.1,1626.3 1990.5,1629.0 1999.8,1635.5 2009.1,1642.5 2018.4,1629.8 2027.7,1628.6 2037.1,1629.7 2046.4,1628.8 2055.7,1633.0 2065.0,1647.9 2074.3,1646.9 2083.6,1643.2 2093.0,1626.9 2102.3,1647.9" stroke="#5102a1" stroke-opacity="0.50" stroke-width="5.6" stroke-linejoin="round" stroke-linecap="square"/>
<polyline points="1235.6,1176.3 1239.2,1190.7 1242.9,1204.2 1246.5,1216.4 1250.1,1227.5 1253.8,1237.9 1257.4,1248.1 1261.0,1258.6 1264.7,1269.7 1268.3,1282.3 1271.9,1295.8 1275.6,1307.4 1279.2,1317.6 1282.8,1327.0 1286.5,1335.8 1290.1,1344.0 1293.7,1351.9 1297.4,1359.6 1301.0,1367.1 1304.6,1374.5 1308.3,1381.9 1311.9,1389.2 1315.5,1396.3 1319.2,1403.3 1322.8,1410.0 1326.4,1416.6 1330.1,1422.9 1333.7,1429.0 1337.3,1434.8 1341.0,1440.3 1344.6,1445.5 1348.2,1450.6 1351.9,1455.8 1355.5,1460.8 1359.1,1465.8 1362.8,1470.7 1366.4,1475.5 1370.0,1480.2 1373.7,1484.7 1377.3,1489.1 1380.9,1493.4 1384.6,1497.6 1388.2,1501.8 1391.8,1505.8 1395.5,1509.6 1399.1,1513.3 1402.7,1516.8 1406.4,1520.2 1410.0,1523.4 1413.6,1526.5 1417.3,1529.5 1420.9,1532.5 1424.5,1535.4 1428.2,1538.3 1431.8,1541.1 1435.4,1543.9 1439.1,1546.6 1442.7,1549.3 1446.3,1551.8 1450.0,1554.2 1453.6,1556.5 1457.2,1558.7 1460.9,1560.7 1464.5,1562.7 1468.1,1564.6 1471.8,1566.4 1475.4,1568.3 1479.0,1570.1 1482.7,1571.9 1486.3,1573.8 1489.9,1575.6 1493.6,1577.5 1497.2,1579.3 1500.8,1581.0 1504.5,1582.7 1508.1,1584.4 1511.7,1585.9 1515.4,1587.4 1519.0,1588.8 1522.6,1590.1 1526.3,1591.5 1529.9,1592.7 1533.5,1593.9 1537.2,1595.1 1540.8,1596.3 1544.4,1597.4 1548.1,1598.4 1551.7,1599.5 1555.3,1600.5 1559.0,1601.4 1562.6,1602.4 1566.2,1603.3 1569.9,1604.2 1573.5,1605.1 1577.1,1605.9 1580.8,1606.8 1584.4,1607.6 1588.0,1608.3 1591.7,1609.1 1595.3,1609.8 1598.9,1610.5 1602.6,1611.2 1606.2,1611.9 1609.8,1612.5 1613.5,1613.1 1617.1,1613.7 1620.7,1614.3 1624.4,1614.9 1628.0,1615.4 1631.6,1616.0 1635.3,1616.5 1638.9,1617.0 1642.5,1617.5 1646.2,1618.0 1649.8,1618.4 1653.4,1618.9 1657.1,1619.3 1660.7,1619.7 1664.3,1620.2 1668.0,1620.6 1671.6,1621.0 1675.2,1621.4 1678.9,1621.7 1682.5,1622.1 1686.1,1622.5 1689.8,1622.8 1693.4,1623.2 1697.0,1623.5 1700.7,1623.8 1704.3,1624.2 1707.9,1624.5 1711.6,1624.8 1715.2,1625.1 1718.8,1625.4 1722.5,1625.7 1726.1,1626.0 1729.7,1626.3 1733.4,1626.6 1737.0,1626.8 1740.6,1627.1 1744.3,1627.4 1747.9,1627.6 1751.5,1627.9 1755.2,1628.1 1758.8,1628.4 1762.4,1628.6 1766.1,1628.9 1769.7,1629.1 1773.3,1629.3 1777.0,1629.6 1780.6,1629.8 1784.2,1630.0 1787.9,1630.2 1791.5,1630.5 1795.1,1630.7 1798.8,1630.9 1802.4,1631.1 1806.0,1631.3 1809.7,1631.5 1813.3,1631.7 1816.9,1631.9 1820.6,1632.1 1824.2,1632.3 1827.8,1632.5 1831.5,1632.7 1835.1,1632.8 1838.7,1633.0 1842.4,1633.2 1846.0,1633.4 1849.6,1633.5 1853.3,1633.7 1856.9,1633.9 1860.5,1634.0 1864.2,1634.2 1867.8,1634.4 1871.4,1634.5 1875.1,1634.7 1878.7,1634.8 1882.3,1634.9 1886.0,1635.1 1889.6,1635.2 1893.2,1635.4 1896.9,1635.5 1900.5,1635.6 1904.1,1635.8 1907.8,1635.9 1911.4,1636.0 1915.0,1636.1 1918.7,1636.2 1922.3,1636.4 1925.9,1636.5 1929.6,1636.6 1933.2,1636.7 1936.8,1636.8 1940.5,1636.9 1944.1,1637.0 1947.7,1637.1 1951.4,1637.2 1955.0,1637.3 1958.6,1637.4 1962.3,1637.5 1965.9,1637.6 1969.5,1637.7 1973.2,1637.8 1976.8,1637.8 1980.4,1637.9 1984.1,1638.0 1987.7,1638.1 1991.3,1638.2 1995.0,1638.2 1998.6,1638.3 2002.2,1638.4 2005.9,1638.4 2009.5,1638.5 2013.1,1638.6 2016.8,1638.6 2020.4,1638.7 2024.0,1638.8 2027.7,1638.8 2031.3,1638.9 2034.9,1638.9 2038.6,1639.0 2042.2,1639.0 2045.8,1639.1 2049.5,1639.1 2053.1,1639.2 2056.7,1639.2 2060.4,1639.3 2064.0,1639.3 2067.6,1639.4 2071.3,1639.4 2074.9,1639.5 2078.5,1639.5 2082.2,1639.5 2085.8,1639.6 2089.4,1639.6 2093.1,1639.7 2096.7,1639.7 2100.3,1639.7 2104.0,1639.8" stroke="#000" stroke-width="6.3" stroke-dasharray="6.3 10.4" stroke-linecap="butt"/>
<polyline points="1235.6,1197.7 1248.3,1221.5 1261.0,1265.6 1273.7,1321.9 1286.4,1358.0 1299.1,1386.7 1311.8,1408.7 1324.6,1432.2 1337.3,1454.6 1350.0,1472.9 1362.7,1492.4 1375.4,1508.3 1388.1,1517.9 1400.8,1529.3 1413.5,1541.6 1426.2,1554.8 1438.9,1558.3 1451.6,1566.3 1464.3,1574.9 1477.1,1577.2 1489.8,1581.1 1502.5,1587.6 1515.2,1593.8 1527.9,1599.4 1540.6,1600.6 1553.3,1607.9 1566.0,1606.1 1578.7,1608.9 1591.4,1612.8 1604.1,1613.0 1616.8,1618.3 1629.5,1617.1 1642.3,1619.2 1655.0,1621.7 1667.7,1621.1 1680.4,1625.2 1693.1,1625.5 1705.8,1629.1 1718.5,1626.3 1731.2,1625.9 1743.9,1626.4 1756.6,1627.7 1769.3,1627.8 1782.0,1627.9 1794.8,1633.8 1807.5,1632.0 1820.2,1633.6 1832.9,1633.1 1845.6,1632.3 1858.3,1630.9 1871.0,1634.6 1883.7,1635.6 1896.4,1639.1 1909.1,1632.2 1921.8,1636.4 1934.5,1632.5 1947.2,1634.8 1960.0,1637.4 1972.7,1639.8 1985.4,1637.9 1998.1,1637.1 2010.8,1636.8 2023.5,1635.5 2036.2,1639.9 2048.9,1638.2 2061.6,1638.1 2074.3,1635.1 2087.0,1636.4 2099.7,1637.5" stroke="#f5af2d" stroke-opacity="0.50" stroke-width="5.6" stroke-linejoin="round" stroke-linecap="square"/>
<polyline points="1235.6,1176.3 1239.2,1190.1 1242.9,1203.7 1246.5,1217.1 1250.1,1230.1 1253.8,1242.8 1257.4,1255.8 1261.0,1269.2 1264.7,1283.1 1268.3,1298.6 1271.9,1313.8 1275.6,1326.5 1279.2,1337.7 1282.8,1347.8 1286.5,1357.2 1290.1,1366.1 1293.7,1374.6 1297.4,1382.8 1301.0,1390.8 1304.6,1398.5 1308.3,1406.0 1311.9,1413.3 1315.5,1420.4 1319.2,1427.2 1322.8,1433.8 1326.4,1440.1 1330.1,1446.2 1333.7,1452.0 1337.3,1457.7 1341.0,1463.1 1344.6,1468.4 1348.2,1473.6 1351.9,1478.8 1355.5,1483.9 1359.1,1488.7 1362.8,1493.4 1366.4,1497.8 1370.0,1502.0 1373.7,1506.0 1377.3,1510.0 1380.9,1513.8 1384.6,1517.6 1388.2,1521.3 1391.8,1524.9 1395.5,1528.4 1399.1,1531.7 1402.7,1534.9 1406.4,1538.0 1410.0,1540.9 1413.6,1543.7 1417.3,1546.4 1420.9,1549.0 1424.5,1551.5 1428.2,1554.0 1431.8,1556.4 1435.4,1558.8 1439.1,1561.2 1442.7,1563.5 1446.3,1565.7 1450.0,1567.8 1453.6,1569.9 1457.2,1571.8 1460.9,1573.7 1464.5,1575.5 1468.1,1577.2 1471.8,1578.8 1475.4,1580.4 1479.0,1582.0 1482.7,1583.5 1486.3,1585.1 1489.9,1586.6 1493.6,1588.1 1497.2,1589.6 1500.8,1591.0 1504.5,1592.5 1508.1,1593.8 1511.7,1595.1 1515.4,1596.4 1519.0,1597.6 1522.6,1598.7 1526.3,1599.9 1529.9,1601.0 1533.5,1602.0 1537.2,1603.1 1540.8,1604.1 1544.4,1605.0 1548.1,1606.0 1551.7,1606.9 1555.3,1607.7 1559.0,1608.6 1562.6,1609.4 1566.2,1610.2 1569.9,1611.0 1573.5,1611.8 1577.1,1612.5 1580.8,1613.2 1584.4,1613.9 1588.0,1614.6 1591.7,1615.2 1595.3,1615.9 1598.9,1616.5 1602.6,1617.1 1606.2,1617.7 1609.8,1618.3 1613.5,1618.9 1617.1,1619.5 1620.7,1620.0 1624.4,1620.5 1628.0,1621.0 1631.6,1621.4 1635.3,1621.8 1638.9,1622.2 1642.5,1622.6 1646.2,1622.9 1649.8,1623.3 1653.4,1623.6 1657.1,1624.0 1660.7,1624.3 1664.3,1624.6 1668.0,1625.0 1671.6,1625.3 1675.2,1625.6 1678.9,1625.9 1682.5,1626.2 1686.1,1626.4 1689.8,1626.7 1693.4,1627.0 1697.0,1627.2 1700.7,1627.5 1704.3,1627.8 1707.9,1628.0 1711.6,1628.2 1715.2,1628.5 1718.8,1628.7 1722.5,1628.9 1726.1,1629.2 1729.7,1629.4 1733.4,1629.6 1737.0,1629.8 1740.6,1630.0 1744.3,1630.2 1747.9,1630.4 1751.5,1630.6 1755.2,1630.8 1758.8,1631.0 1762.4,1631.2 1766.1,1631.4 1769.7,1631.6 1773.3,1631.7 1777.0,1631.9 1780.6,1632.1 1784.2,1632.3 1787.9,1632.4 1791.5,1632.6 1795.1,1632.8 1798.8,1632.9 1802.4,1633.1 1806.0,1633.3 1809.7,1633.4 1813.3,1633.6 1816.9,1633.7 1820.6,1633.9 1824.2,1634.1 1827.8,1634.2 1831.5,1634.4 1835.1,1634.5 1838.7,1634.7 1842.4,1634.8 1846.0,1634.9 1849.6,1635.1 1853.3,1635.2 1856.9,1635.4 1860.5,1635.5 1864.2,1635.6 1867.8,1635.7 1871.4,1635.9 1875.1,1636.0 1878.7,1636.1 1882.3,1636.2 1886.0,1636.4 1889.6,1636.5 1893.2,1636.6 1896.9,1636.7 1900.5,1636.8 1904.1,1636.9 1907.8,1637.0 1911.4,1637.1 1915.0,1637.2 1918.7,1637.3 1922.3,1637.4 1925.9,1637.5 1929.6,1637.6 1933.2,1637.7 1936.8,1637.8 1940.5,1637.8 1944.1,1637.9 1947.7,1638.0 1951.4,1638.1 1955.0,1638.2 1958.6,1638.2 1962.3,1638.3 1965.9,1638.4 1969.5,1638.4 1973.2,1638.5 1976.8,1638.6 1980.4,1638.6 1984.1,1638.7 1987.7,1638.8 1991.3,1638.8 1995.0,1638.9 1998.6,1638.9 2002.2,1639.0 2005.9,1639.0 2009.5,1639.1 2013.1,1639.1 2016.8,1639.2 2020.4,1639.2 2024.0,1639.3 2027.7,1639.3 2031.3,1639.3 2034.9,1639.4 2038.6,1639.4 2042.2,1639.4 2045.8,1639.5 2049.5,1639.5 2053.1,1639.5 2056.7,1639.6 2060.4,1639.6 2064.0,1639.6 2067.6,1639.7 2071.3,1639.7 2074.9,1639.7 2078.5,1639.7 2082.2,1639.7 2085.8,1639.8 2089.4,1639.8 2093.1,1639.8 2096.7,1639.8 2100.3,1639.8 2104.0,1639.8" stroke="#000" stroke-width="6.3" stroke-dasharray="6.3 10.4" stroke-linecap="butt"/>
<polyline points="1235.6,1197.7 1248.3,1220.6 1261.0,1276.7 1273.7,1335.0 1286.4,1374.6 1299.1,1409.3 1311.8,1433.1 1324.6,1458.3 1337.3,1478.6 1350.0,1494.1 1362.7,1514.5 1375.4,1527.6 1388.1,1538.2 1400.8,1546.1 1413.5,1556.0 1426.2,1565.3 1438.9,1569.7 1451.6,1579.7 1464.3,1587.0 1477.1,1588.7 1489.8,1593.7 1502.5,1597.5 1515.2,1603.2 1527.9,1604.4 1540.6,1607.8 1553.3,1612.7 1566.0,1612.8 1578.7,1615.4 1591.4,1615.9 1604.1,1620.3 1616.8,1621.3 1629.5,1621.8 1642.3,1625.7 1655.0,1625.7 1667.7,1627.1 1680.4,1627.3 1693.1,1625.4 1705.8,1626.9 1718.5,1627.9 1731.2,1628.6 1743.9,1628.8 1756.6,1628.1 1769.3,1629.6 1782.0,1628.9 1794.8,1631.0 1807.5,1631.7 1820.2,1631.7 1832.9,1632.9 1845.6,1632.2 1858.3,1636.7 1871.0,1634.2 1883.7,1634.8 1896.4,1635.6 1909.1,1633.7 1921.8,1633.5 1934.5,1633.6 1947.2,1636.4 1960.0,1634.9 1972.7,1637.9 1985.4,1636.4 1998.1,1636.3 2010.8,1636.3 2023.5,1636.5 2036.2,1635.1 2048.9,1638.8 2061.6,1636.1 2074.3,1637.3 2087.0,1636.7 2099.7,1634.5" stroke="#e1f519" stroke-opacity="0.50" stroke-width="5.6" stroke-linejoin="round" stroke-linecap="square"/>
<polyline points="1235.6,1176.3 1239.2,1189.4 1242.9,1203.3 1246.5,1217.8 1250.1,1232.7 1253.8,1247.7 1257.4,1263.5 1261.0,1279.8 1264.7,1296.6 1268.3,1314.9 1271.9,1331.9 1275.6,1345.7 1279.2,1357.8 1282.8,1368.7 1286.5,1378.7 1290.1,1388.1 1293.7,1397.2 1297.4,1406.1 1301.0,1414.5 1304.6,1422.5 1308.3,1430.2 1311.9,1437.4 1315.5,1444.4 1319.2,1451.1 1322.8,1457.6 1326.4,1463.7 1330.1,1469.5 1333.7,1475.1 1337.3,1480.6 1341.0,1485.9 1344.6,1491.3 1348.2,1496.6 1351.9,1501.9 1355.5,1506.9 1359.1,1511.6 1362.8,1516.0 1366.4,1520.0 1370.0,1523.8 1373.7,1527.4 1377.3,1530.8 1380.9,1534.2 1384.6,1537.5 1388.2,1540.8 1391.8,1544.0 1395.5,1547.1 1399.1,1550.1 1402.7,1553.0 1406.4,1555.8 1410.0,1558.4 1413.6,1560.9 1417.3,1563.3 1420.9,1565.5 1424.5,1567.7 1428.2,1569.7 1431.8,1571.8 1435.4,1573.8 1439.1,1575.7 1442.7,1577.7 1446.3,1579.6 1450.0,1581.4 1453.6,1583.2 1457.2,1584.9 1460.9,1586.6 1464.5,1588.2 1468.1,1589.7 1471.8,1591.2 1475.4,1592.6 1479.0,1593.9 1482.7,1595.2 1486.3,1596.4 1489.9,1597.6 1493.6,1598.8 1497.2,1599.9 1500.8,1601.1 1504.5,1602.2 1508.1,1603.3 1511.7,1604.3 1515.4,1605.4 1519.0,1606.4 1522.6,1607.4 1526.3,1608.3 1529.9,1609.2 1533.5,1610.1 1537.2,1611.0 1540.8,1611.9 1544.4,1612.7 1548.1,1613.5 1551.7,1614.3 1555.3,1615.0 1559.0,1615.8 1562.6,1616.5 1566.2,1617.2 1569.9,1617.8 1573.5,1618.5 1577.1,1619.1 1580.8,1619.7 1584.4,1620.3 1588.0,1620.8 1591.7,1621.4 1595.3,1622.0 1598.9,1622.5 1602.6,1623.1 1606.2,1623.6 1609.8,1624.2 1613.5,1624.7 1617.1,1625.2 1620.7,1625.7 1624.4,1626.1 1628.0,1626.5 1631.6,1626.8 1635.3,1627.1 1638.9,1627.4 1642.5,1627.7 1646.2,1627.9 1649.8,1628.2 1653.4,1628.4 1657.1,1628.7 1660.7,1628.9 1664.3,1629.1 1668.0,1629.4 1671.6,1629.6 1675.2,1629.8 1678.9,1630.0 1682.5,1630.2 1686.1,1630.4 1689.8,1630.6 1693.4,1630.8 1697.0,1631.0 1700.7,1631.2 1704.3,1631.3 1707.9,1631.5 1711.6,1631.7 1715.2,1631.9 1718.8,1632.0 1722.5,1632.2 1726.1,1632.3 1729.7,1632.5 1733.4,1632.6 1737.0,1632.8 1740.6,1632.9 1744.3,1633.1 1747.9,1633.2 1751.5,1633.4 1755.2,1633.5 1758.8,1633.6 1762.4,1633.8 1766.1,1633.9 1769.7,1634.0 1773.3,1634.2 1777.0,1634.3 1780.6,1634.4 1784.2,1634.5 1787.9,1634.6 1791.5,1634.8 1795.1,1634.9 1798.8,1635.0 1802.4,1635.1 1806.0,1635.2 1809.7,1635.4 1813.3,1635.5 1816.9,1635.6 1820.6,1635.7 1824.2,1635.8 1827.8,1635.9 1831.5,1636.1 1835.1,1636.2 1838.7,1636.3 1842.4,1636.4 1846.0,1636.5 1849.6,1636.6 1853.3,1636.7 1856.9,1636.8 1860.5,1636.9 1864.2,1637.0 1867.8,1637.1 1871.4,1637.2 1875.1,1637.3 1878.7,1637.4 1882.3,1637.5 1886.0,1637.6 1889.6,1637.7 1893.2,1637.8 1896.9,1637.9 1900.5,1638.0 1904.1,1638.1 1907.8,1638.1 1911.4,1638.2 1915.0,1638.3 1918.7,1638.4 1922.3,1638.4 1925.9,1638.5 1929.6,1638.6 1933.2,1638.6 1936.8,1638.7 1940.5,1638.8 1944.1,1638.8 1947.7,1638.9 1951.4,1639.0 1955.0,1639.0 1958.6,1639.1 1962.3,1639.1 1965.9,1639.2 1969.5,1639.2 1973.2,1639.3 1976.8,1639.3 1980.4,1639.4 1984.1,1639.4 1987.7,1639.4 1991.3,1639.5 1995.0,1639.5 1998.6,1639.6 2002.2,1639.6 2005.9,1639.6 2009.5,1639.6 2013.1,1639.7 2016.8,1639.7 2020.4,1639.7 2024.0,1639.8 2027.7,1639.8 2031.3,1639.8 2034.9,1639.8 2038.6,1639.8 2042.2,1639.9 2045.8,1639.9 2049.5,1639.9 2053.1,1639.9 2056.7,1639.9 2060.4,1639.9 2064.0,1639.9 2067.6,1639.9 2071.3,1639.9 2074.9,1639.9 2078.5,1639.9 2082.2,1639.9 2085.8,1639.9 2089.4,1639.9 2093.1,1639.9 2096.7,1639.9 2100.3,1639.9 2104.0,1639.9" stroke="#000" stroke-width="6.3" stroke-dasharray="6.3 10.4" stroke-linecap="butt"/>
</g>
<rect x="1193.4" y="1150.0" width="889.0" height="524.0" fill="none" stroke="#000" stroke-width="2.3"/>
<line x1="1178.8" y1="1642.6" x2="1193.4" y2="1642.6" stroke="#000" stroke-width="2.8"/>
<text x="1164.0" y="1651.6" text-anchor="end" font-family="'Liberation Sans', Arial, Helvetica, sans-serif" font-size="25">0.0</text>
<line x1="1178.8" y1="1420.2" x2="1193.4" y2="1420.2" stroke="#000" stroke-width="2.8"/>
<text x="1164.0" y="1429.2" text-anchor="end" font-family="'Liberation Sans', Arial, Helvetica, sans-serif" font-size="25">0.5</text>
<line x1="1178.8" y1="1197.7" x2="1193.4" y2="1197.7" stroke="#000" stroke-width="2.8"/>
<text x="1164.0" y="1206.7" text-anchor="end" font-family="'Liberation Sans', Arial, Helvetica, sans-serif" font-size="25">1.0</text>
<line x1="1235.6" y1="1674.0" x2="1235.6" y2="1688.7" stroke="#000" stroke-width="2.8"/>
<line x1="1659.2" y1="1674.0" x2="1659.2" y2="1688.7" stroke="#000" stroke-width="2.8"/>
<line x1="2082.8" y1="1674.0" x2="2082.8" y2="1688.7" stroke="#000" stroke-width="2.8"/>
<text transform="translate(1107.3,1411.5) rotate(-90)" text-anchor="middle" font-family="'Liberation Sans', Arial, Helvetica, sans-serif" font-size="25">Normalized intensity</text>
<text x="1063.0" y="1180.5" font-family="'Liberation Sans', Arial, Helvetica, sans-serif" font-weight="bold" font-size="34.8">g</text>
<text x="1244.3" y="1604.2" font-family="'Liberation Sans', Arial, Helvetica, sans-serif" font-size="30">240K</text>
<rect x="1779.9" y="1162.8" width="289.8" height="132.3" rx="5" ry="5" fill="#fff" fill-opacity="0.8" stroke="#d4d4d4" stroke-width="3.6"/>
<line x1="1786.6" y1="1187.6" x2="1842.9" y2="1187.6" stroke="#5102a1" stroke-opacity="0.50" stroke-width="5.6"/>
<text x="1859.4" y="1194.5" font-family="'DejaVu Sans', sans-serif" font-size="25.2">1.5</text>
<text x="1903.9" y="1194.5" font-family="'DejaVu Sans', sans-serif" font-size="25.2">×</text>
<text x="1929.4" y="1194.5" font-family="'DejaVu Sans', sans-serif" font-size="25.2">10</text>
<text x="1961.9" y="1184.9" font-family="'DejaVu Sans', sans-serif" font-size="17.3">14</text>
<text x="1992.4" y="1194.5" font-family="'DejaVu Sans', sans-serif" font-size="25.2" font-style="oblique">cm</text>
<text x="2031.2" y="1184.9" font-family="'DejaVu Sans', sans-serif" font-size="17.3">−3</text>
<line x1="1786.6" y1="1229.4" x2="1842.9" y2="1229.4" stroke="#f5af2d" stroke-opacity="0.50" stroke-width="5.6"/>
<text x="1859.4" y="1236.3" font-family="'DejaVu Sans', sans-serif" font-size="25.2">5.2</text>
<text x="1903.9" y="1236.3" font-family="'DejaVu Sans', sans-serif" font-size="25.2">×</text>
<text x="1929.4" y="1236.3" font-family="'DejaVu Sans', sans-serif" font-size="25.2">10</text>
<text x="1961.9" y="1226.7" font-family="'DejaVu Sans', sans-serif" font-size="17.3">15</text>
<text x="1992.4" y="1236.3" font-family="'DejaVu Sans', sans-serif" font-size="25.2" font-style="oblique">cm</text>
<text x="2031.2" y="1226.7" font-family="'DejaVu Sans', sans-serif" font-size="17.3">−3</text>
<line x1="1786.6" y1="1271.2" x2="1842.9" y2="1271.2" stroke="#e1f519" stroke-opacity="0.50" stroke-width="5.6"/>
<text x="1859.4" y="1278.1" font-family="'DejaVu Sans', sans-serif" font-size="25.2">1.8</text>
<text x="1903.9" y="1278.1" font-family="'DejaVu Sans', sans-serif" font-size="25.2">×</text>
<text x="1929.4" y="1278.1" font-family="'DejaVu Sans', sans-serif" font-size="25.2">10</text>
<text x="1961.9" y="1268.5" font-family="'DejaVu Sans', sans-serif" font-size="17.3">16</text>
<text x="1992.4" y="1278.1" font-family="'DejaVu Sans', sans-serif" font-size="25.2" font-style="oblique">cm</text>
<text x="2031.2" y="1268.5" font-family="'DejaVu Sans', sans-serif" font-size="17.3">−3</text>
<g clip-path="url(#cliph)" fill="none">
<polyline points="1235.6,1760.0 1256.8,1825.8 1278.0,1881.1 1299.1,1945.4 1320.3,1990.1 1341.5,2024.1 1362.7,2051.6 1383.9,2077.2 1405.0,2098.9 1426.2,2114.6 1447.4,2131.0 1468.6,2143.7 1489.8,2157.9 1510.9,2172.0 1532.1,2175.8 1553.3,2181.3 1574.5,2187.3 1595.7,2191.2 1616.8,2198.3 1638.0,2196.8 1659.2,2201.4 1680.4,2205.9 1701.6,2206.5 1722.7,2207.2 1743.9,2207.4 1765.1,2210.8 1786.3,2207.3 1807.5,2213.0 1828.6,2214.2 1849.8,2216.1 1871.0,2215.6 1892.2,2213.9 1913.4,2218.1 1934.5,2218.2 1955.7,2217.3 1976.9,2221.2 1998.1,2217.6 2019.3,2218.0 2040.4,2217.4 2061.6,2217.5 2082.8,2217.8 2104.0,2218.9" stroke="#5102a1" stroke-opacity="0.50" stroke-width="5.6" stroke-linejoin="round" stroke-linecap="square"/>
<polyline points="1235.6,1751.7 1239.2,1766.5 1242.9,1780.8 1246.5,1794.9 1250.1,1808.8 1253.8,1821.9 1257.4,1833.8 1261.0,1844.1 1264.7,1853.5 1268.3,1862.5 1271.9,1871.4 1275.6,1879.7 1279.2,1888.2 1282.8,1897.6 1286.5,1909.1 1290.1,1921.9 1293.7,1934.9 1297.4,1947.1 1301.0,1957.7 1304.6,1966.8 1308.3,1975.2 1311.9,1983.0 1315.5,1990.3 1319.2,1997.1 1322.8,2003.6 1326.4,2009.6 1330.1,2015.2 1333.7,2020.5 1337.3,2025.7 1341.0,2030.7 1344.6,2035.8 1348.2,2040.9 1351.9,2046.2 1355.5,2051.4 1359.1,2056.5 1362.8,2061.6 1366.4,2066.5 1370.0,2071.1 1373.7,2075.6 1377.3,2079.7 1380.9,2083.6 1384.6,2087.2 1388.2,2090.7 1391.8,2094.0 1395.5,2097.2 1399.1,2100.3 1402.7,2103.3 1406.4,2106.3 1410.0,2109.2 1413.6,2112.1 1417.3,2115.0 1420.9,2117.9 1424.5,2120.7 1428.2,2123.5 1431.8,2126.3 1435.4,2129.0 1439.1,2131.7 1442.7,2134.3 1446.3,2136.8 1450.0,2139.3 1453.6,2141.7 1457.2,2144.0 1460.9,2146.2 1464.5,2148.4 1468.1,2150.6 1471.8,2152.7 1475.4,2154.7 1479.0,2156.7 1482.7,2158.7 1486.3,2160.6 1489.9,2162.5 1493.6,2164.2 1497.2,2166.0 1500.8,2167.6 1504.5,2169.2 1508.1,2170.8 1511.7,2172.2 1515.4,2173.7 1519.0,2175.0 1522.6,2176.3 1526.3,2177.5 1529.9,2178.7 1533.5,2179.8 1537.2,2180.8 1540.8,2181.8 1544.4,2182.8 1548.1,2183.7 1551.7,2184.7 1555.3,2185.5 1559.0,2186.4 1562.6,2187.2 1566.2,2188.0 1569.9,2188.8 1573.5,2189.6 1577.1,2190.4 1580.8,2191.2 1584.4,2192.0 1588.0,2192.8 1591.7,2193.5 1595.3,2194.2 1598.9,2195.0 1602.6,2195.7 1606.2,2196.3 1609.8,2197.0 1613.5,2197.6 1617.1,2198.2 1620.7,2198.8 1624.4,2199.4 1628.0,2199.9 1631.6,2200.4 1635.3,2200.8 1638.9,2201.3 1642.5,2201.7 1646.2,2202.2 1649.8,2202.6 1653.4,2203.0 1657.1,2203.4 1660.7,2203.8 1664.3,2204.1 1668.0,2204.5 1671.6,2204.8 1675.2,2205.2 1678.9,2205.5 1682.5,2205.8 1686.1,2206.1 1689.8,2206.4 1693.4,2206.7 1697.0,2207.0 1700.7,2207.3 1704.3,2207.6 1707.9,2207.9 1711.6,2208.1 1715.2,2208.4 1718.8,2208.7 1722.5,2208.9 1726.1,2209.2 1729.7,2209.4 1733.4,2209.6 1737.0,2209.9 1740.6,2210.1 1744.3,2210.3 1747.9,2210.6 1751.5,2210.8 1755.2,2211.0 1758.8,2211.2 1762.4,2211.4 1766.1,2211.7 1769.7,2211.9 1773.3,2212.1 1777.0,2212.3 1780.6,2212.5 1784.2,2212.7 1787.9,2212.9 1791.5,2213.1 1795.1,2213.3 1798.8,2213.5 1802.4,2213.7 1806.0,2213.9 1809.7,2214.1 1813.3,2214.3 1816.9,2214.5 1820.6,2214.8 1824.2,2215.0 1827.8,2215.2 1831.5,2215.4 1835.1,2215.5 1838.7,2215.7 1842.4,2215.9 1846.0,2216.1 1849.6,2216.3 1853.3,2216.5 1856.9,2216.7 1860.5,2216.8 1864.2,2217.0 1867.8,2217.2 1871.4,2217.3 1875.1,2217.5 1878.7,2217.6 1882.3,2217.8 1886.0,2217.9 1889.6,2218.1 1893.2,2218.2 1896.9,2218.3 1900.5,2218.5 1904.1,2218.6 1907.8,2218.7 1911.4,2218.8 1915.0,2219.0 1918.7,2219.1 1922.3,2219.2 1925.9,2219.3 1929.6,2219.4 1933.2,2219.5 1936.8,2219.6 1940.5,2219.7 1944.1,2219.7 1947.7,2219.8 1951.4,2219.9 1955.0,2220.0 1958.6,2220.1 1962.3,2220.1 1965.9,2220.2 1969.5,2220.3 1973.2,2220.3 1976.8,2220.4 1980.4,2220.4 1984.1,2220.5 1987.7,2220.5 1991.3,2220.6 1995.0,2220.6 1998.6,2220.7 2002.2,2220.7 2005.9,2220.8 2009.5,2220.8 2013.1,2220.8 2016.8,2220.9 2020.4,2220.9 2024.0,2220.9 2027.7,2221.0 2031.3,2221.0 2034.9,2221.0 2038.6,2221.0 2042.2,2221.1 2045.8,2221.1 2049.5,2221.1 2053.1,2221.1 2056.7,2221.1 2060.4,2221.1 2064.0,2221.1 2067.6,2221.1 2071.3,2221.1 2074.9,2221.1 2078.5,2221.1 2082.2,2221.1 2085.8,2221.1 2089.4,2221.1 2093.1,2221.1 2096.7,2221.1 2100.3,2221.1 2104.0,2221.1" stroke="#000" stroke-width="6.3" stroke-dasharray="6.3 10.4" stroke-linecap="butt"/>
<polyline points="1235.6,1760.0 1256.8,1830.4 1278.0,1883.7 1299.1,1953.9 1320.3,2000.1 1341.5,2032.5 1362.7,2063.8 1383.9,2087.1 1405.0,2104.0 1426.2,2121.8 1447.4,2137.8 1468.6,2153.0 1489.8,2159.8 1510.9,2174.0 1532.1,2177.8 1553.3,2186.2 1574.5,2189.6 1595.7,2194.2 1616.8,2199.4 1638.0,2202.1 1659.2,2205.8 1680.4,2207.0 1701.6,2207.5 1722.7,2208.9 1743.9,2209.4 1765.1,2209.8 1786.3,2215.7 1807.5,2214.4 1828.6,2215.5 1849.8,2213.3 1871.0,2217.8 1892.2,2217.7 1913.4,2217.7 1934.5,2219.4 1955.7,2221.1 1976.9,2220.5 1998.1,2220.1 2019.3,2221.0 2040.4,2222.5 2061.6,2219.7 2082.8,2221.9 2104.0,2220.1" stroke="#f5af2d" stroke-opacity="0.50" stroke-width="5.6" stroke-linejoin="round" stroke-linecap="square"/>
<polyline points="1235.6,1751.7 1239.2,1751.7 1242.9,1753.7 1246.5,1768.4 1250.1,1782.7 1253.8,1796.7 1257.4,1810.6 1261.0,1823.6 1264.7,1835.2 1268.3,1845.4 1271.9,1854.7 1275.6,1863.7 1279.2,1872.5 1282.8,1880.8 1286.5,1889.4 1290.1,1899.1 1293.7,1910.7 1297.4,1923.7 1301.0,1936.7 1304.6,1948.7 1308.3,1958.9 1311.9,1968.0 1315.5,1976.3 1319.2,1984.0 1322.8,1991.2 1326.4,1998.0 1330.1,2004.5 1333.7,2010.4 1337.3,2015.9 1341.0,2021.2 1344.6,2026.3 1348.2,2031.4 1351.9,2036.5 1355.5,2041.6 1359.1,2046.9 1362.8,2052.1 1366.4,2057.2 1370.0,2062.2 1373.7,2067.1 1377.3,2071.7 1380.9,2076.1 1384.6,2080.2 1388.2,2084.1 1391.8,2087.7 1395.5,2091.2 1399.1,2094.5 1402.7,2097.7 1406.4,2100.7 1410.0,2103.7 1413.6,2106.7 1417.3,2109.6 1420.9,2112.5 1424.5,2115.4 1428.2,2118.3 1431.8,2121.1 1435.4,2123.9 1439.1,2126.7 1442.7,2129.4 1446.3,2132.0 1450.0,2134.6 1453.6,2137.1 1457.2,2139.6 1460.9,2142.0 1464.5,2144.3 1468.1,2146.5 1471.8,2148.7 1475.4,2150.9 1479.0,2153.0 1482.7,2155.0 1486.3,2157.0 1489.9,2159.0 1493.6,2160.9 1497.2,2162.7 1500.8,2164.5 1504.5,2166.2 1508.1,2167.9 1511.7,2169.4 1515.4,2171.0 1519.0,2172.4 1522.6,2173.8 1526.3,2175.2 1529.9,2176.5 1533.5,2177.7 1537.2,2178.8 1540.8,2179.9 1544.4,2181.0 1548.1,2182.0 1551.7,2182.9 1555.3,2183.9 1559.0,2184.8 1562.6,2185.6 1566.2,2186.5 1569.9,2187.3 1573.5,2188.2 1577.1,2189.0 1580.8,2189.8 1584.4,2190.5 1588.0,2191.3 1591.7,2192.1 1595.3,2192.9 1598.9,2193.6 1602.6,2194.3 1606.2,2195.1 1609.8,2195.8 1613.5,2196.4 1617.1,2197.1 1620.7,2197.7 1624.4,2198.3 1628.0,2198.9 1631.6,2199.4 1635.3,2199.9 1638.9,2200.4 1642.5,2200.9 1646.2,2201.4 1649.8,2201.8 1653.4,2202.2 1657.1,2202.6 1660.7,2203.1 1664.3,2203.4 1668.0,2203.8 1671.6,2204.2 1675.2,2204.5 1678.9,2204.9 1682.5,2205.2 1686.1,2205.6 1689.8,2205.9 1693.4,2206.2 1697.0,2206.5 1700.7,2206.8 1704.3,2207.1 1707.9,2207.4 1711.6,2207.6 1715.2,2207.9 1718.8,2208.2 1722.5,2208.4 1726.1,2208.7 1729.7,2208.9 1733.4,2209.2 1737.0,2209.4 1740.6,2209.7 1744.3,2209.9 1747.9,2210.1 1751.5,2210.4 1755.2,2210.6 1758.8,2210.8 1762.4,2211.0 1766.1,2211.3 1769.7,2211.5 1773.3,2211.7 1777.0,2211.9 1780.6,2212.1 1784.2,2212.3 1787.9,2212.5 1791.5,2212.7 1795.1,2212.9 1798.8,2213.1 1802.4,2213.3 1806.0,2213.5 1809.7,2213.8 1813.3,2214.0 1816.9,2214.2 1820.6,2214.4 1824.2,2214.6 1827.8,2214.8 1831.5,2215.0 1835.1,2215.2 1838.7,2215.4 1842.4,2215.6 1846.0,2215.8 1849.6,2216.0 1853.3,2216.1 1856.9,2216.3 1860.5,2216.5 1864.2,2216.7 1867.8,2216.9 1871.4,2217.0 1875.1,2217.2 1878.7,2217.3 1882.3,2217.5 1886.0,2217.7 1889.6,2217.8 1893.2,2217.9 1896.9,2218.1 1900.5,2218.2 1904.1,2218.4 1907.8,2218.5 1911.4,2218.6 1915.0,2218.7 1918.7,2218.9 1922.3,2219.0 1925.9,2219.1 1929.6,2219.2 1933.2,2219.3 1936.8,2219.4 1940.5,2219.5 1944.1,2219.6 1947.7,2219.7 1951.4,2219.8 1955.0,2219.8 1958.6,2219.9 1962.3,2220.0 1965.9,2220.1 1969.5,2220.1 1973.2,2220.2 1976.8,2220.3 1980.4,2220.3 1984.1,2220.4 1987.7,2220.4 1991.3,2220.5 1995.0,2220.6 1998.6,2220.6 2002.2,2220.6 2005.9,2220.7 2009.5,2220.7 2013.1,2220.8 2016.8,2220.8 2020.4,2220.8 2024.0,2220.9 2027.7,2220.9 2031.3,2220.9 2034.9,2221.0 2038.6,2221.0 2042.2,2221.0 2045.8,2221.0 2049.5,2221.1 2053.1,2221.1 2056.7,2221.1 2060.4,2221.1 2064.0,2221.1 2067.6,2221.1 2071.3,2221.1 2074.9,2221.1 2078.5,2221.1 2082.2,2221.1 2085.8,2221.1 2089.4,2221.1 2093.1,2221.1 2096.7,2221.1 2100.3,2221.1 2104.0,2221.1" stroke="#000" stroke-width="6.3" stroke-dasharray="6.3 10.4" stroke-linecap="butt"/>
<polyline points="1235.6,1760.0 1252.5,1854.1 1269.5,1949.7 1286.4,2005.9 1303.4,2047.6 1320.3,2077.9 1337.3,2103.0 1354.2,2121.4 1371.2,2136.9 1388.1,2149.9 1405.0,2158.6 1422.0,2166.5 1438.9,2173.0 1455.9,2180.1 1472.8,2183.7 1489.8,2188.5 1506.7,2190.2 1523.6,2194.4 1540.6,2198.0 1557.5,2199.7 1574.5,2201.4 1591.4,2203.4 1608.4,2205.3 1625.3,2207.9 1642.3,2208.7 1659.2,2208.9 1676.1,2210.0 1693.1,2211.4 1710.0,2211.9 1727.0,2214.7 1743.9,2213.6 1760.9,2214.3 1777.8,2215.2 1794.8,2215.1 1811.7,2216.4 1828.6,2216.4 1845.6,2216.4 1862.5,2217.3 1879.5,2217.2 1896.4,2217.0 1913.4,2219.3 1930.3,2218.8 1947.2,2220.2 1964.2,2217.9 1981.1,2218.0 1998.1,2218.4 2015.0,2218.5 2032.0,2219.6 2048.9,2217.8 2065.9,2218.4 2082.8,2221.8 2099.7,2218.9" stroke="#e1f519" stroke-opacity="0.50" stroke-width="5.6" stroke-linejoin="round" stroke-linecap="square"/>
<polyline points="1235.6,1751.7 1239.2,1772.2 1242.9,1793.9 1246.5,1816.1 1250.1,1839.2 1253.8,1864.9 1257.4,1893.1 1261.0,1915.1 1264.7,1932.9 1268.3,1947.3 1271.9,1959.9 1275.6,1972.5 1279.2,1985.0 1282.8,1996.8 1286.5,2008.2 1290.1,2018.9 1293.7,2028.4 1297.4,2036.6 1301.0,2043.9 1304.6,2050.9 1308.3,2057.8 1311.9,2064.9 1315.5,2072.0 1319.2,2078.8 1322.8,2085.0 1326.4,2090.6 1330.1,2095.7 1333.7,2100.6 1337.3,2105.1 1341.0,2109.4 1344.6,2113.4 1348.2,2117.2 1351.9,2120.7 1355.5,2123.9 1359.1,2127.1 1362.8,2130.2 1366.4,2133.3 1370.0,2136.4 1373.7,2139.6 1377.3,2142.6 1380.9,2145.6 1384.6,2148.5 1388.2,2151.2 1391.8,2153.6 1395.5,2155.9 1399.1,2157.9 1402.7,2159.9 1406.4,2161.8 1410.0,2163.5 1413.6,2165.2 1417.3,2166.8 1420.9,2168.4 1424.5,2169.9 1428.2,2171.4 1431.8,2172.9 1435.4,2174.3 1439.1,2175.7 1442.7,2177.1 1446.3,2178.3 1450.0,2179.6 1453.6,2180.8 1457.2,2181.9 1460.9,2183.0 1464.5,2184.0 1468.1,2185.0 1471.8,2186.0 1475.4,2186.9 1479.0,2187.8 1482.7,2188.6 1486.3,2189.4 1489.9,2190.2 1493.6,2190.9 1497.2,2191.6 1500.8,2192.3 1504.5,2193.0 1508.1,2193.7 1511.7,2194.3 1515.4,2194.9 1519.0,2195.5 1522.6,2196.1 1526.3,2196.7 1529.9,2197.3 1533.5,2197.9 1537.2,2198.4 1540.8,2199.0 1544.4,2199.5 1548.1,2200.0 1551.7,2200.5 1555.3,2201.0 1559.0,2201.5 1562.6,2201.9 1566.2,2202.4 1569.9,2202.9 1573.5,2203.3 1577.1,2203.8 1580.8,2204.2 1584.4,2204.7 1588.0,2205.1 1591.7,2205.6 1595.3,2206.0 1598.9,2206.5 1602.6,2206.9 1606.2,2207.4 1609.8,2207.8 1613.5,2208.2 1617.1,2208.6 1620.7,2208.9 1624.4,2209.3 1628.0,2209.6 1631.6,2209.9 1635.3,2210.2 1638.9,2210.5 1642.5,2210.8 1646.2,2211.0 1649.8,2211.3 1653.4,2211.5 1657.1,2211.7 1660.7,2212.0 1664.3,2212.2 1668.0,2212.4 1671.6,2212.6 1675.2,2212.8 1678.9,2213.0 1682.5,2213.2 1686.1,2213.4 1689.8,2213.5 1693.4,2213.7 1697.0,2213.9 1700.7,2214.0 1704.3,2214.2 1707.9,2214.4 1711.6,2214.5 1715.2,2214.7 1718.8,2214.8 1722.5,2214.9 1726.1,2215.1 1729.7,2215.2 1733.4,2215.3 1737.0,2215.5 1740.6,2215.6 1744.3,2215.7 1747.9,2215.8 1751.5,2216.0 1755.2,2216.1 1758.8,2216.2 1762.4,2216.3 1766.1,2216.4 1769.7,2216.5 1773.3,2216.6 1777.0,2216.7 1780.6,2216.8 1784.2,2216.9 1787.9,2217.0 1791.5,2217.1 1795.1,2217.2 1798.8,2217.3 1802.4,2217.4 1806.0,2217.5 1809.7,2217.6 1813.3,2217.7 1816.9,2217.8 1820.6,2217.9 1824.2,2218.0 1827.8,2218.1 1831.5,2218.2 1835.1,2218.3 1838.7,2218.4 1842.4,2218.4 1846.0,2218.5 1849.6,2218.6 1853.3,2218.7 1856.9,2218.8 1860.5,2218.9 1864.2,2219.0 1867.8,2219.0 1871.4,2219.1 1875.1,2219.2 1878.7,2219.3 1882.3,2219.3 1886.0,2219.4 1889.6,2219.5 1893.2,2219.5 1896.9,2219.6 1900.5,2219.7 1904.1,2219.7 1907.8,2219.8 1911.4,2219.9 1915.0,2219.9 1918.7,2220.0 1922.3,2220.0 1925.9,2220.1 1929.6,2220.1 1933.2,2220.2 1936.8,2220.2 1940.5,2220.3 1944.1,2220.3 1947.7,2220.4 1951.4,2220.4 1955.0,2220.5 1958.6,2220.5 1962.3,2220.5 1965.9,2220.6 1969.5,2220.6 1973.2,2220.7 1976.8,2220.7 1980.4,2220.7 1984.1,2220.8 1987.7,2220.8 1991.3,2220.8 1995.0,2220.8 1998.6,2220.9 2002.2,2220.9 2005.9,2220.9 2009.5,2220.9 2013.1,2221.0 2016.8,2221.0 2020.4,2221.0 2024.0,2221.0 2027.7,2221.0 2031.3,2221.0 2034.9,2221.1 2038.6,2221.1 2042.2,2221.1 2045.8,2221.1 2049.5,2221.1 2053.1,2221.1 2056.7,2221.1 2060.4,2221.1 2064.0,2221.1 2067.6,2221.1 2071.3,2221.1 2074.9,2221.1 2078.5,2221.1 2082.2,2221.1 2085.8,2221.1 2089.4,2221.1 2093.1,2221.1 2096.7,2221.1 2100.3,2221.1 2104.0,2221.1" stroke="#000" stroke-width="6.3" stroke-dasharray="6.3 10.4" stroke-linecap="butt"/>
</g>
<rect x="1193.4" y="1726.3" width="889.0" height="524.3" fill="none" stroke="#000" stroke-width="2.3"/>
<line x1="1178.8" y1="2223.0" x2="1193.4" y2="2223.0" stroke="#000" stroke-width="2.8"/>
<text x="1164.0" y="2232.0" text-anchor="end" font-family="'Liberation Sans', Arial, Helvetica, sans-serif" font-size="25">0.0</text>
<line x1="1178.8" y1="1991.5" x2="1193.4" y2="1991.5" stroke="#000" stroke-width="2.8"/>
<text x="1164.0" y="2000.5" text-anchor="end" font-family="'Liberation Sans', Arial, Helvetica, sans-serif" font-size="25">0.5</text>
<line x1="1178.8" y1="1760.0" x2="1193.4" y2="1760.0" stroke="#000" stroke-width="2.8"/>
<text x="1164.0" y="1769.0" text-anchor="end" font-family="'Liberation Sans', Arial, Helvetica, sans-serif" font-size="25">1.0</text>
<line x1="1235.6" y1="2250.6" x2="1235.6" y2="2265.3" stroke="#000" stroke-width="2.8"/>
<text x="1235.6" y="2297.7" text-anchor="middle" font-family="'Liberation Sans', Arial, Helvetica, sans-serif" font-size="25">0</text>
<line x1="1659.2" y1="2250.6" x2="1659.2" y2="2265.3" stroke="#000" stroke-width="2.8"/>
<text x="1659.2" y="2297.7" text-anchor="middle" font-family="'Liberation Sans', Arial, Helvetica, sans-serif" font-size="25">1</text>
<line x1="2082.8" y1="2250.6" x2="2082.8" y2="2265.3" stroke="#000" stroke-width="2.8"/>
<text x="2082.8" y="2297.7" text-anchor="middle" font-family="'Liberation Sans', Arial, Helvetica, sans-serif" font-size="25">2</text>
<text x="1637.9" y="2337.6" text-anchor="middle" font-family="'Liberation Sans', Arial, Helvetica, sans-serif" font-size="25">Time (ns)</text>
<text transform="translate(1107.3,1987.9) rotate(-90)" text-anchor="middle" font-family="'Liberation Sans', Arial, Helvetica, sans-serif" font-size="25">Normalized intensity</text>
<text x="1062.8" y="1722.1" font-family="'Liberation Sans', Arial, Helvetica, sans-serif" font-weight="bold" font-size="34.8">h</text>
<text x="1244.1" y="2157.4" font-family="'Liberation Sans', Arial, Helvetica, sans-serif" font-size="30">280K</text>
<rect x="1779.9" y="1739.1" width="289.8" height="132.3" rx="5" ry="5" fill="#fff" fill-opacity="0.8" stroke="#d4d4d4" stroke-width="3.6"/>
<line x1="1786.6" y1="1763.9" x2="1842.9" y2="1763.9" stroke="#5102a1" stroke-opacity="0.50" stroke-width="5.6"/>
<text x="1859.4" y="1770.8" font-family="'DejaVu Sans', sans-serif" font-size="25.2">1.5</text>
<text x="1903.9" y="1770.8" font-family="'DejaVu Sans', sans-serif" font-size="25.2">×</text>
<text x="1929.4" y="1770.8" font-family="'DejaVu Sans', sans-serif" font-size="25.2">10</text>
<text x="1961.9" y="1761.2" font-family="'DejaVu Sans', sans-serif" font-size="17.3">14</text>
<text x="1992.4" y="1770.8" font-family="'DejaVu Sans', sans-serif" font-size="25.2" font-style="oblique">cm</text>
<text x="2031.2" y="1761.2" font-family="'DejaVu Sans', sans-serif" font-size="17.3">−3</text>
<line x1="1786.6" y1="1805.7" x2="1842.9" y2="1805.7" stroke="#f5af2d" stroke-opacity="0.50" stroke-width="5.6"/>
<text x="1859.4" y="1812.6" font-family="'DejaVu Sans', sans-serif" font-size="25.2">5.2</text>
<text x="1903.9" y="1812.6" font-family="'DejaVu Sans', sans-serif" font-size="25.2">×</text>
<text x="1929.4" y="1812.6" font-family="'DejaVu Sans', sans-serif" font-size="25.2">10</text>
<text x="1961.9" y="1803.0" font-family="'DejaVu Sans', sans-serif" font-size="17.3">15</text>
<text x="1992.4" y="1812.6" font-family="'DejaVu Sans', sans-serif" font-size="25.2" font-style="oblique">cm</text>
<text x="2031.2" y="1803.0" font-family="'DejaVu Sans', sans-serif" font-size="17.3">−3</text>
<line x1="1786.6" y1="1847.5" x2="1842.9" y2="1847.5" stroke="#e1f519" stroke-opacity="0.50" stroke-width="5.6"/>
<text x="1859.4" y="1854.4" font-family="'DejaVu Sans', sans-serif" font-size="25.2">1.8</text>
<text x="1903.9" y="1854.4" font-family="'DejaVu Sans', sans-serif" font-size="25.2">×</text>
<text x="1929.4" y="1854.4" font-family="'DejaVu Sans', sans-serif" font-size="25.2">10</text>
<text x="1961.9" y="1844.8" font-family="'DejaVu Sans', sans-serif" font-size="17.3">16</text>
<text x="1992.4" y="1854.4" font-family="'DejaVu Sans', sans-serif" font-size="25.2" font-style="oblique">cm</text>
<text x="2031.2" y="1844.8" font-family="'DejaVu Sans', sans-serif" font-size="17.3">−3</text>
</svg></body></html>
